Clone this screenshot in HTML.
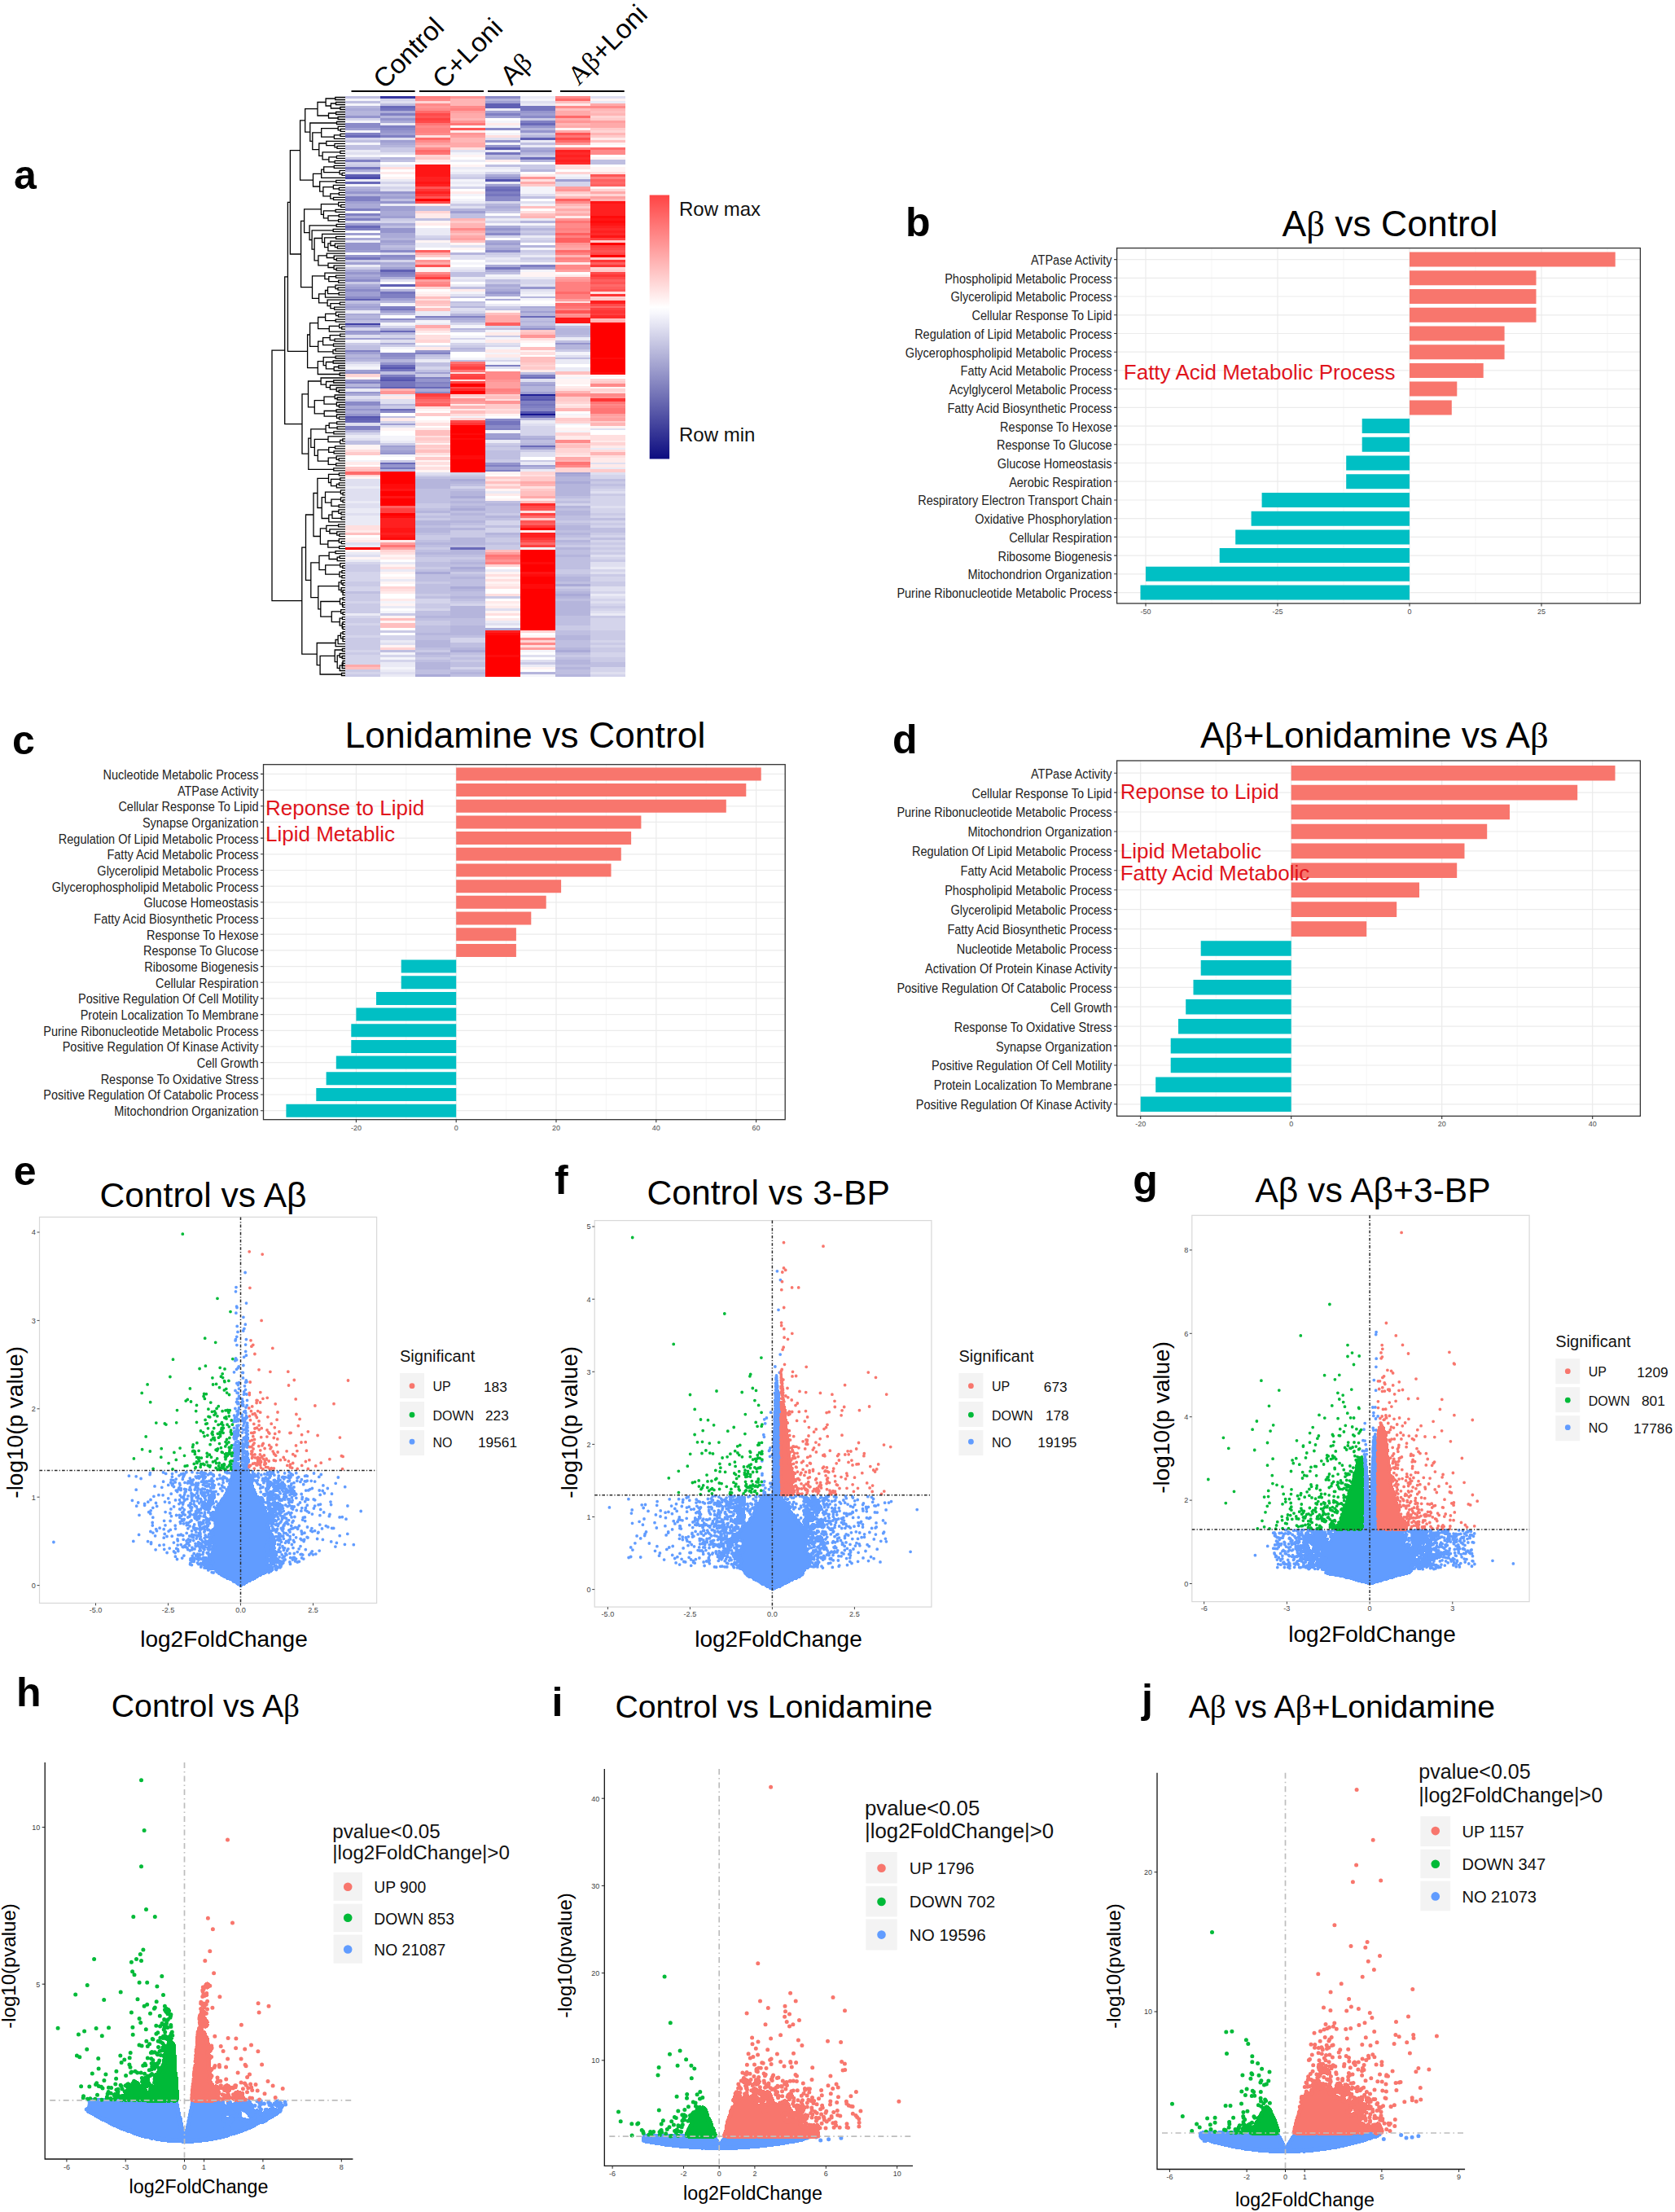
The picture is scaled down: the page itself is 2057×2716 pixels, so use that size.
<!DOCTYPE html>
<html><head><meta charset="utf-8"><title>Figure</title>
<style>html,body{margin:0;padding:0;background:#fff}svg{display:block}</style></head>
<body>
<svg width="2057" height="2716" viewBox="0 0 2057 2716" font-family='"Liberation Sans", Arial, sans-serif'>
<rect width="2057" height="2716" fill="#fff"/>
<g>
<path d="M1488 304.6V740.9M1650 304.6V740.9M1812 304.6V740.9M1974 304.6V740.9" stroke="#f0f0f0" stroke-width="0.7" fill="none"/>
<path d="M1407 304.6V740.9M1569 304.6V740.9M1731 304.6V740.9M1893 304.6V740.9M1371.6 318.6H2014.4M1371.6 341.3H2014.4M1371.6 364H2014.4M1371.6 386.8H2014.4M1371.6 409.5H2014.4M1371.6 432.2H2014.4M1371.6 454.9H2014.4M1371.6 477.6H2014.4M1371.6 500.4H2014.4M1371.6 523.1H2014.4M1371.6 545.8H2014.4M1371.6 568.5H2014.4M1371.6 591.2H2014.4M1371.6 614H2014.4M1371.6 636.7H2014.4M1371.6 659.4H2014.4M1371.6 682.1H2014.4M1371.6 704.8H2014.4M1371.6 727.6H2014.4" stroke="#ebebeb" stroke-width="1.2" fill="none"/>
<path d="M1731 309.6H1983.7V327.6H1731ZM1731 332.3H1886.5V350.3H1731ZM1731 355H1886.5V373H1731ZM1731 377.8H1886.5V395.8H1731ZM1731 400.5H1847.6V418.5H1731ZM1731 423.2H1847.6V441.2H1731ZM1731 445.9H1821.7V463.9H1731ZM1731 468.6H1789.3V486.6H1731ZM1731 491.4H1782.8V509.4H1731Z" fill="#F8766D"/>
<path d="M1672.7 514.1H1731V532.1H1672.7ZM1672.7 536.8H1731V554.8H1672.7ZM1653.2 559.5H1731V577.5H1653.2ZM1653.2 582.2H1731V600.2H1653.2ZM1549.6 605H1731V623H1549.6ZM1536.6 627.7H1731V645.7H1536.6ZM1517.2 650.4H1731V668.4H1517.2ZM1497.7 673.1H1731V691.1H1497.7ZM1407 695.8H1731V713.8H1407ZM1400.5 718.6H1731V736.6H1400.5Z" fill="#00BFC4"/>
<rect x="1371.6" y="304.6" width="642.8" height="436.3" fill="none" stroke="#333" stroke-width="1.3"/>
<path d="M1371.6 318.6h-3.5M1371.6 341.3h-3.5M1371.6 364h-3.5M1371.6 386.8h-3.5M1371.6 409.5h-3.5M1371.6 432.2h-3.5M1371.6 454.9h-3.5M1371.6 477.6h-3.5M1371.6 500.4h-3.5M1371.6 523.1h-3.5M1371.6 545.8h-3.5M1371.6 568.5h-3.5M1371.6 591.2h-3.5M1371.6 614h-3.5M1371.6 636.7h-3.5M1371.6 659.4h-3.5M1371.6 682.1h-3.5M1371.6 704.8h-3.5M1371.6 727.6h-3.5M1407 740.9v3.5M1569 740.9v3.5M1731 740.9v3.5M1893 740.9v3.5" stroke="#333" stroke-width="1.1" fill="none"/>
<g font-size="15.587499999999999" text-anchor="end" fill="#222">
<text transform="translate(1365.6 325) scale(.93 1)">ATPase Activity</text>
<text transform="translate(1365.6 347.7) scale(.93 1)">Phospholipid Metabolic Process</text>
<text transform="translate(1365.6 370.4) scale(.93 1)">Glycerolipid Metabolic Process</text>
<text transform="translate(1365.6 393.1) scale(.93 1)">Cellular Response To Lipid</text>
<text transform="translate(1365.6 415.9) scale(.93 1)">Regulation of Lipid Metabolic Process</text>
<text transform="translate(1365.6 438.6) scale(.93 1)">Glycerophospholipid Metabolic Process</text>
<text transform="translate(1365.6 461.3) scale(.93 1)">Fatty Acid Metabolic Process</text>
<text transform="translate(1365.6 484) scale(.93 1)">Acylglycerol Metabolic Process</text>
<text transform="translate(1365.6 506.7) scale(.93 1)">Fatty Acid Biosynthetic Process</text>
<text transform="translate(1365.6 529.5) scale(.93 1)">Response To Hexose</text>
<text transform="translate(1365.6 552.2) scale(.93 1)">Response To Glucose</text>
<text transform="translate(1365.6 574.9) scale(.93 1)">Glucose Homeostasis</text>
<text transform="translate(1365.6 597.6) scale(.93 1)">Aerobic Respiration</text>
<text transform="translate(1365.6 620.3) scale(.93 1)">Respiratory Electron Transport Chain</text>
<text transform="translate(1365.6 643.1) scale(.93 1)">Oxidative Phosphorylation</text>
<text transform="translate(1365.6 665.8) scale(.93 1)">Cellular Respiration</text>
<text transform="translate(1365.6 688.5) scale(.93 1)">Ribosome Biogenesis</text>
<text transform="translate(1365.6 711.2) scale(.93 1)">Mitochondrion Organization</text>
<text transform="translate(1365.6 733.9) scale(.93 1)">Purine Ribonucleotide Metabolic Process</text>
</g>
<g font-size="9" text-anchor="middle" fill="#4d4d4d">
<text x="1407" y="753.5">-50</text>
<text x="1569" y="753.5">-25</text>
<text x="1731" y="753.5">0</text>
<text x="1893" y="753.5">25</text>
</g>
</g>
<g>
<path d="M376 938.7V1374.7M498.8 938.7V1374.7M621.6 938.7V1374.7M744.4 938.7V1374.7M867.2 938.7V1374.7" stroke="#f0f0f0" stroke-width="0.7" fill="none"/>
<path d="M437.4 938.7V1374.7M560.2 938.7V1374.7M683 938.7V1374.7M805.8 938.7V1374.7M928.6 938.7V1374.7M323.5 950.4H964.2M323.5 970.1H964.2M323.5 989.8H964.2M323.5 1009.4H964.2M323.5 1029.1H964.2M323.5 1048.8H964.2M323.5 1068.5H964.2M323.5 1088.2H964.2M323.5 1107.8H964.2M323.5 1127.5H964.2M323.5 1147.2H964.2M323.5 1166.9H964.2M323.5 1186.6H964.2M323.5 1206.2H964.2M323.5 1225.9H964.2M323.5 1245.6H964.2M323.5 1265.3H964.2M323.5 1285H964.2M323.5 1304.6H964.2M323.5 1324.3H964.2M323.5 1344H964.2M323.5 1363.7H964.2" stroke="#ebebeb" stroke-width="1.2" fill="none"/>
<path d="M560.2 942.4H934.7V958.4H560.2ZM560.2 962.1H916.3V978.1H560.2ZM560.2 981.8H891.8V997.8H560.2ZM560.2 1001.4H787.4V1017.4H560.2ZM560.2 1021.1H775.1V1037.1H560.2ZM560.2 1040.8H762.8V1056.8H560.2ZM560.2 1060.5H750.5V1076.5H560.2ZM560.2 1080.2H689.1V1096.2H560.2ZM560.2 1099.8H670.7V1115.8H560.2ZM560.2 1119.5H652.3V1135.5H560.2ZM560.2 1139.2H633.9V1155.2H560.2ZM560.2 1158.9H633.9V1174.9H560.2Z" fill="#F8766D"/>
<path d="M492.7 1178.6H560.2V1194.6H492.7ZM492.7 1198.2H560.2V1214.2H492.7ZM462 1217.9H560.2V1233.9H462ZM437.4 1237.6H560.2V1253.6H437.4ZM431.3 1257.3H560.2V1273.3H431.3ZM431.3 1277H560.2V1293H431.3ZM412.8 1296.6H560.2V1312.6H412.8ZM400.6 1316.3H560.2V1332.3H400.6ZM388.3 1336H560.2V1352H388.3ZM351.4 1355.7H560.2V1371.7H351.4Z" fill="#00BFC4"/>
<rect x="323.5" y="938.7" width="640.7" height="436" fill="none" stroke="#333" stroke-width="1.3"/>
<path d="M323.5 950.4h-3.5M323.5 970.1h-3.5M323.5 989.8h-3.5M323.5 1009.4h-3.5M323.5 1029.1h-3.5M323.5 1048.8h-3.5M323.5 1068.5h-3.5M323.5 1088.2h-3.5M323.5 1107.8h-3.5M323.5 1127.5h-3.5M323.5 1147.2h-3.5M323.5 1166.9h-3.5M323.5 1186.6h-3.5M323.5 1206.2h-3.5M323.5 1225.9h-3.5M323.5 1245.6h-3.5M323.5 1265.3h-3.5M323.5 1285h-3.5M323.5 1304.6h-3.5M323.5 1324.3h-3.5M323.5 1344h-3.5M323.5 1363.7h-3.5M437.4 1374.7v3.5M560.2 1374.7v3.5M683 1374.7v3.5M805.8 1374.7v3.5M928.6 1374.7v3.5" stroke="#333" stroke-width="1.1" fill="none"/>
<g font-size="15.587499999999999" text-anchor="end" fill="#222">
<text transform="translate(317.5 956.8) scale(.93 1)">Nucleotide Metabolic Process</text>
<text transform="translate(317.5 976.5) scale(.93 1)">ATPase Activity</text>
<text transform="translate(317.5 996.1) scale(.93 1)">Cellular Response To Lipid</text>
<text transform="translate(317.5 1015.8) scale(.93 1)">Synapse Organization</text>
<text transform="translate(317.5 1035.5) scale(.93 1)">Regulation Of Lipid Metabolic Process</text>
<text transform="translate(317.5 1055.2) scale(.93 1)">Fatty Acid Metabolic Process</text>
<text transform="translate(317.5 1074.9) scale(.93 1)">Glycerolipid Metabolic Process</text>
<text transform="translate(317.5 1094.5) scale(.93 1)">Glycerophospholipid Metabolic Process</text>
<text transform="translate(317.5 1114.2) scale(.93 1)">Glucose Homeostasis</text>
<text transform="translate(317.5 1133.9) scale(.93 1)">Fatty Acid Biosynthetic Process</text>
<text transform="translate(317.5 1153.6) scale(.93 1)">Response To Hexose</text>
<text transform="translate(317.5 1173.3) scale(.93 1)">Response To Glucose</text>
<text transform="translate(317.5 1192.9) scale(.93 1)">Ribosome Biogenesis</text>
<text transform="translate(317.5 1212.6) scale(.93 1)">Cellular Respiration</text>
<text transform="translate(317.5 1232.3) scale(.93 1)">Positive Regulation Of Cell Motility</text>
<text transform="translate(317.5 1252) scale(.93 1)">Protein Localization To Membrane</text>
<text transform="translate(317.5 1271.7) scale(.93 1)">Purine Ribonucleotide Metabolic Process</text>
<text transform="translate(317.5 1291.3) scale(.93 1)">Positive Regulation Of Kinase Activity</text>
<text transform="translate(317.5 1311) scale(.93 1)">Cell Growth</text>
<text transform="translate(317.5 1330.7) scale(.93 1)">Response To Oxidative Stress</text>
<text transform="translate(317.5 1350.4) scale(.93 1)">Positive Regulation Of Catabolic Process</text>
<text transform="translate(317.5 1370.1) scale(.93 1)">Mitochondrion Organization</text>
</g>
<g font-size="9" text-anchor="middle" fill="#4d4d4d">
<text x="437.4" y="1387.5">-20</text>
<text x="560.2" y="1387.5">0</text>
<text x="683" y="1387.5">20</text>
<text x="805.8" y="1387.5">40</text>
<text x="928.6" y="1387.5">60</text>
</g>
</g>
<g>
<path d="M1493.2 934V1370.4M1678.2 934V1370.4M1863.2 934V1370.4" stroke="#f0f0f0" stroke-width="0.7" fill="none"/>
<path d="M1400.7 934V1370.4M1585.7 934V1370.4M1770.7 934V1370.4M1955.7 934V1370.4M1371.6 949.2H2014.4M1371.6 973.1H2014.4M1371.6 997H2014.4M1371.6 1021H2014.4M1371.6 1044.9H2014.4M1371.6 1068.8H2014.4M1371.6 1092.7H2014.4M1371.6 1116.6H2014.4M1371.6 1140.6H2014.4M1371.6 1164.5H2014.4M1371.6 1188.4H2014.4M1371.6 1212.3H2014.4M1371.6 1236.2H2014.4M1371.6 1260.2H2014.4M1371.6 1284.1H2014.4M1371.6 1308H2014.4M1371.6 1331.9H2014.4M1371.6 1355.8H2014.4" stroke="#ebebeb" stroke-width="1.2" fill="none"/>
<path d="M1585.7 939.9H1983.5V958.5H1585.7ZM1585.7 963.8H1937.2V982.4H1585.7ZM1585.7 987.7H1854V1006.3H1585.7ZM1585.7 1011.7H1826.2V1030.3H1585.7ZM1585.7 1035.6H1798.5V1054.2H1585.7ZM1585.7 1059.5H1789.2V1078.1H1585.7ZM1585.7 1083.4H1743V1102H1585.7ZM1585.7 1107.3H1715.2V1125.9H1585.7ZM1585.7 1131.3H1678.2V1149.9H1585.7Z" fill="#F8766D"/>
<path d="M1474.7 1155.2H1585.7V1173.8H1474.7ZM1474.7 1179.1H1585.7V1197.7H1474.7ZM1465.5 1203H1585.7V1221.6H1465.5ZM1456.2 1226.9H1585.7V1245.5H1456.2ZM1447 1250.9H1585.7V1269.5H1447ZM1437.7 1274.8H1585.7V1293.4H1437.7ZM1437.7 1298.7H1585.7V1317.3H1437.7ZM1419.2 1322.6H1585.7V1341.2H1419.2ZM1400.7 1346.5H1585.7V1365.1H1400.7Z" fill="#00BFC4"/>
<rect x="1371.6" y="934" width="642.8" height="436.4" fill="none" stroke="#333" stroke-width="1.3"/>
<path d="M1371.6 949.2h-3.5M1371.6 973.1h-3.5M1371.6 997h-3.5M1371.6 1021h-3.5M1371.6 1044.9h-3.5M1371.6 1068.8h-3.5M1371.6 1092.7h-3.5M1371.6 1116.6h-3.5M1371.6 1140.6h-3.5M1371.6 1164.5h-3.5M1371.6 1188.4h-3.5M1371.6 1212.3h-3.5M1371.6 1236.2h-3.5M1371.6 1260.2h-3.5M1371.6 1284.1h-3.5M1371.6 1308h-3.5M1371.6 1331.9h-3.5M1371.6 1355.8h-3.5M1400.7 1370.4v3.5M1585.7 1370.4v3.5M1770.7 1370.4v3.5M1955.7 1370.4v3.5" stroke="#333" stroke-width="1.1" fill="none"/>
<g font-size="15.587499999999999" text-anchor="end" fill="#222">
<text transform="translate(1365.6 955.6) scale(.93 1)">ATPase Activity</text>
<text transform="translate(1365.6 979.5) scale(.93 1)">Cellular Response To Lipid</text>
<text transform="translate(1365.6 1003.4) scale(.93 1)">Purine Ribonucleotide Metabolic Process</text>
<text transform="translate(1365.6 1027.3) scale(.93 1)">Mitochondrion Organization</text>
<text transform="translate(1365.6 1051.3) scale(.93 1)">Regulation Of Lipid Metabolic Process</text>
<text transform="translate(1365.6 1075.2) scale(.93 1)">Fatty Acid Metabolic Process</text>
<text transform="translate(1365.6 1099.1) scale(.93 1)">Phospholipid Metabolic Process</text>
<text transform="translate(1365.6 1123) scale(.93 1)">Glycerolipid Metabolic Process</text>
<text transform="translate(1365.6 1146.9) scale(.93 1)">Fatty Acid Biosynthetic Process</text>
<text transform="translate(1365.6 1170.9) scale(.93 1)">Nucleotide Metabolic Process</text>
<text transform="translate(1365.6 1194.8) scale(.93 1)">Activation Of Protein Kinase Activity</text>
<text transform="translate(1365.6 1218.7) scale(.93 1)">Positive Regulation Of Catabolic Process</text>
<text transform="translate(1365.6 1242.6) scale(.93 1)">Cell Growth</text>
<text transform="translate(1365.6 1266.5) scale(.93 1)">Response To Oxidative Stress</text>
<text transform="translate(1365.6 1290.5) scale(.93 1)">Synapse Organization</text>
<text transform="translate(1365.6 1314.4) scale(.93 1)">Positive Regulation Of Cell Motility</text>
<text transform="translate(1365.6 1338.3) scale(.93 1)">Protein Localization To Membrane</text>
<text transform="translate(1365.6 1362.2) scale(.93 1)">Positive Regulation Of Kinase Activity</text>
</g>
<g font-size="9" text-anchor="middle" fill="#4d4d4d">
<text x="1400.7" y="1383">-20</text>
<text x="1585.7" y="1383">0</text>
<text x="1770.7" y="1383">20</text>
<text x="1955.7" y="1383">40</text>
</g>
</g>
<text x="1707" y="290" font-size="44.5" text-anchor="middle">A<tspan font-family='"Liberation Serif", "Times New Roman", serif'>β</tspan> vs Control</text>
<text x="645" y="918.4" font-size="44.5" text-anchor="middle">Lonidamine vs Control</text>
<text x="1687.8" y="918" font-size="44.5" text-anchor="middle">A<tspan font-family='"Liberation Serif", "Times New Roman", serif'>β</tspan>+Lonidamine vs A<tspan font-family='"Liberation Serif", "Times New Roman", serif'>β</tspan></text>
<text x="1379.8" y="466" font-size="26" fill="#e0141c">Fatty Acid Metabolic Process</text>
<text x="326" y="1000.6" font-size="26" fill="#e0141c">Reponse to Lipid</text>
<text x="326" y="1033.2" font-size="26" fill="#e0141c">Lipid Metablic</text>
<text x="1375.7" y="981.3" font-size="26" fill="#e0141c">Reponse to Lipid</text>
<text x="1375.7" y="1053.7" font-size="26" fill="#e0141c">Lipid Metabolic</text>
<text x="1375.7" y="1080.5" font-size="26" fill="#e0141c">Fatty Acid Metabolic</text>
<g fill="none" stroke-width="3.35" shape-rendering="crispEdges"><path d="M638.8 509h43" stroke="#151591"/>
<path d="M638.8 485h43" stroke="#202096"/>
<path d="M466.9 119.5h43" stroke="#3535a0"/>
<path d="M424 398.1h43" stroke="#4040a5"/>
<path d="M424 218.4h43" stroke="#4a4aaa"/>
<path d="M424 511.9h43M466.9 452h43M466.9 467h43M595.8 221.4h43M638.8 491h43M638.8 506h43" stroke="#5555af"/>
<path d="M424 215.4h43M424 368.1h43M424 514.9h43M466.9 332.2h43M466.9 350.2h43M466.9 464h43M466.9 476h43M595.8 128.5h43M595.8 131.5h43M595.8 182.4h43M638.8 170.4h43M638.8 488h43" stroke="#6060b4"/>
<path d="M424 167.4h43M424 224.4h43M424 278.3h43M424 517.9h43M466.9 131.5h43M466.9 407.1h43M466.9 449h43M466.9 503h43M466.9 568.9h43M509.9 476h43M552.9 673.7h43M595.8 233.3h43M638.8 152.5h43M638.8 194.4h43M638.8 389.1h43M638.8 464h43M638.8 511.9h43M638.8 547.9h43" stroke="#6a6ab9"/>
<path d="M424 206.4h43M424 317.2h43M466.9 134.5h43M466.9 359.2h43M466.9 380.1h43M466.9 455h43M466.9 470h43M466.9 473h43M466.9 574.9h43M595.8 188.4h43M595.8 230.3h43M595.8 239.3h43M595.8 329.2h43M595.8 517.9h43M595.8 520.9h43M638.8 131.5h43M638.8 134.5h43M638.8 497h43" stroke="#7575be"/>
<path d="M424 164.4h43M424 197.4h43M424 242.3h43M424 245.3h43M424 257.3h43M424 263.3h43M424 269.3h43M424 281.3h43M424 431.1h43M424 470h43M424 523.9h43M424 526.9h43M466.9 140.5h43M466.9 155.4h43M466.9 167.4h43M466.9 335.2h43M466.9 362.2h43M466.9 365.2h43M466.9 377.1h43M466.9 461h43M509.9 389.1h43M509.9 434.1h43M509.9 464h43M509.9 470h43M552.9 389.1h43M595.8 140.5h43M595.8 236.3h43M595.8 449h43M595.8 526.9h43M595.8 571.9h43M595.8 577.9h43M638.8 149.5h43M638.8 326.2h43M638.8 461h43M638.8 494h43M638.8 500h43" stroke="#8080c3"/>
<path d="M424 152.5h43M424 155.4h43M424 344.2h43M424 356.2h43M424 365.2h43M424 494h43M424 497h43M466.9 158.4h43M466.9 308.2h43M466.9 314.2h43M466.9 338.2h43M466.9 392.1h43M466.9 434.1h43M466.9 437.1h43M466.9 506h43M509.9 473h43M509.9 482h43M595.8 119.5h43M595.8 158.4h43M595.8 242.3h43M595.8 245.3h43M595.8 287.3h43M595.8 308.2h43M595.8 514.9h43M595.8 523.9h43M638.8 143.5h43M638.8 404.1h43M638.8 503h43" stroke="#8a8ac8"/>
<path d="M424 143.5h43M424 236.3h43M424 299.2h43M424 302.2h43M424 305.2h43M424 314.2h43M424 335.2h43M424 401.1h43M424 407.1h43M424 458h43M424 467h43M424 476h43M424 482h43M424 503h43M424 509h43M466.9 146.5h43M466.9 161.4h43M466.9 236.3h43M466.9 248.3h43M466.9 281.3h43M466.9 284.3h43M466.9 317.2h43M466.9 440h43M466.9 446h43M466.9 556.9h43M466.9 571.9h43M509.9 431.1h43M509.9 467h43M595.8 173.4h43M595.8 179.4h43M595.8 218.4h43M595.8 281.3h43M595.8 359.2h43M595.8 538.9h43M595.8 568.9h43M638.8 137.5h43M638.8 155.4h43M638.8 161.4h43M638.8 353.2h43M681.7 422.1h43" stroke="#9595cd"/>
<path d="M424 158.4h43M424 248.3h43M424 275.3h43M424 287.3h43M424 308.2h43M424 323.2h43M424 341.2h43M424 353.2h43M424 359.2h43M424 362.2h43M424 377.1h43M424 410.1h43M424 416.1h43M424 434.1h43M424 455h43M466.9 164.4h43M466.9 173.4h43M466.9 242.3h43M466.9 254.3h43M466.9 257.3h43M466.9 266.3h43M466.9 296.2h43M466.9 329.2h43M466.9 368.1h43M466.9 383.1h43M466.9 520.9h43M466.9 547.9h43M466.9 553.9h43M509.9 458h43M552.9 260.3h43M595.8 125.5h43M595.8 137.5h43M595.8 143.5h43M595.8 227.3h43M595.8 299.2h43M595.8 532.9h43M595.8 535.9h43M595.8 574.9h43M638.8 140.5h43M638.8 185.4h43M638.8 329.2h43M638.8 383.1h43M638.8 473h43M638.8 482h43M638.8 550.9h43M638.8 571.9h43M681.7 221.4h43M681.7 580.9h43" stroke="#9f9fd2"/>
<path d="M424 134.5h43M424 209.4h43M424 233.3h43M424 251.3h43M424 254.3h43M424 266.3h43M424 293.3h43M424 332.2h43M424 338.2h43M424 350.2h43M424 374.1h43M424 380.1h43M424 386.1h43M424 392.1h43M424 440h43M424 485h43M424 500h43M424 506h43M466.9 137.5h43M466.9 149.5h43M466.9 176.4h43M466.9 239.3h43M466.9 260.3h43M466.9 263.3h43M466.9 275.3h43M466.9 287.3h43M466.9 290.3h43M466.9 299.2h43M466.9 323.2h43M466.9 404.1h43M466.9 416.1h43M466.9 422.1h43M466.9 550.9h43M509.9 392.1h43M509.9 479h43M509.9 703.7h43M509.9 829.5h43M552.9 392.1h43M552.9 589.8h43M552.9 610.8h43M552.9 625.8h43M552.9 697.7h43M552.9 721.7h43M552.9 799.5h43M595.8 215.4h43M595.8 254.3h43M595.8 278.3h43M595.8 284.3h43M595.8 296.2h43M595.8 305.2h43M595.8 326.2h43M595.8 332.2h43M595.8 350.2h43M595.8 356.2h43M595.8 362.2h43M595.8 368.1h43M595.8 772.6h43M638.8 182.4h43M638.8 377.1h43M638.8 401.1h43M638.8 470h43M638.8 538.9h43M681.7 583.8h43M681.7 592.8h43M681.7 718.7h43M681.7 730.6h43M681.7 799.5h43" stroke="#aaaad7"/>
<path d="M424 131.5h43M424 137.5h43M424 140.5h43M424 230.3h43M424 239.3h43M424 389.1h43M424 437.1h43M424 443h43M424 473h43M424 529.9h43M466.9 143.5h43M466.9 179.4h43M466.9 194.4h43M466.9 293.3h43M466.9 305.2h43M466.9 326.2h43M466.9 341.2h43M466.9 356.2h43M466.9 371.1h43M466.9 395.1h43M466.9 410.1h43M466.9 443h43M466.9 497h43M466.9 577.9h43M509.9 589.8h43M509.9 592.8h43M509.9 595.8h43M509.9 598.8h43M509.9 628.8h43M509.9 640.8h43M509.9 643.8h43M509.9 649.8h43M509.9 652.8h43M509.9 667.7h43M509.9 679.7h43M509.9 757.6h43M509.9 778.6h43M509.9 787.6h43M509.9 790.6h43M509.9 793.6h43M509.9 802.5h43M509.9 814.5h43M509.9 817.5h43M509.9 820.5h43M552.9 257.3h43M552.9 311.2h43M552.9 377.1h43M552.9 386.1h43M552.9 395.1h43M552.9 404.1h43M552.9 428.1h43M552.9 592.8h43M552.9 604.8h43M552.9 607.8h43M552.9 616.8h43M552.9 622.8h43M552.9 631.8h43M552.9 640.8h43M552.9 649.8h43M552.9 661.7h43M552.9 664.7h43M552.9 667.7h43M552.9 676.7h43M552.9 679.7h43M552.9 691.7h43M552.9 700.7h43M552.9 709.7h43M552.9 724.6h43M552.9 733.6h43M552.9 745.6h43M552.9 748.6h43M552.9 751.6h43M552.9 754.6h43M552.9 757.6h43M552.9 769.6h43M552.9 772.6h43M552.9 775.6h43M552.9 778.6h43M552.9 796.5h43M552.9 826.5h43M595.8 122.5h43M595.8 194.4h43M595.8 251.3h43M595.8 257.3h43M595.8 302.2h43M595.8 353.2h43M595.8 619.8h43M595.8 634.8h43M595.8 655.7h43M638.8 158.4h43M638.8 167.4h43M638.8 188.4h43M638.8 197.4h43M638.8 209.4h43M638.8 272.3h43M638.8 281.3h43M638.8 302.2h43M638.8 365.2h43M638.8 380.1h43M638.8 386.1h43M638.8 395.1h43M638.8 476h43M638.8 479h43M638.8 514.9h43M638.8 535.9h43M638.8 544.9h43M638.8 574.9h43M638.8 826.5h43M681.7 404.1h43M681.7 407.1h43M681.7 410.1h43M681.7 425.1h43M681.7 428.1h43M681.7 586.8h43M681.7 589.8h43M681.7 595.8h43M681.7 598.8h43M681.7 601.8h43M681.7 604.8h43M681.7 607.8h43M681.7 622.8h43M681.7 628.8h43M681.7 631.8h43M681.7 646.8h43M681.7 649.8h43M681.7 655.7h43M681.7 664.7h43M681.7 673.7h43M681.7 682.7h43M681.7 709.7h43M681.7 712.7h43M681.7 727.6h43M681.7 733.6h43M681.7 739.6h43M681.7 742.6h43M681.7 745.6h43M681.7 748.6h43M681.7 751.6h43M681.7 754.6h43M681.7 781.6h43M681.7 784.6h43M681.7 796.5h43M681.7 811.5h43M681.7 814.5h43M681.7 820.5h43M681.7 829.5h43" stroke="#b5b5dc"/>
<path d="M424 119.5h43M424 125.5h43M424 173.4h43M424 179.4h43M424 182.4h43M424 371.1h43M424 395.1h43M424 425.1h43M424 428.1h43M424 541.9h43M424 544.9h43M424 727.6h43M466.9 128.5h43M466.9 197.4h43M466.9 245.3h43M466.9 278.3h43M466.9 302.2h43M466.9 386.1h43M466.9 458h43M466.9 511.9h43M466.9 799.5h43M509.9 254.3h43M509.9 257.3h43M509.9 269.3h43M509.9 437.1h43M509.9 446h43M509.9 449h43M509.9 455h43M509.9 586.8h43M509.9 601.8h43M509.9 604.8h43M509.9 607.8h43M509.9 610.8h43M509.9 613.8h43M509.9 616.8h43M509.9 625.8h43M509.9 634.8h43M509.9 646.8h43M509.9 655.7h43M509.9 664.7h43M509.9 670.7h43M509.9 676.7h43M509.9 682.7h43M509.9 691.7h43M509.9 694.7h43M509.9 700.7h43M509.9 706.7h43M509.9 709.7h43M509.9 712.7h43M509.9 718.7h43M509.9 721.7h43M509.9 724.6h43M509.9 727.6h43M509.9 733.6h43M509.9 751.6h43M509.9 754.6h43M509.9 760.6h43M509.9 769.6h43M509.9 772.6h43M509.9 775.6h43M509.9 781.6h43M509.9 784.6h43M509.9 796.5h43M509.9 805.5h43M509.9 811.5h43M509.9 823.5h43M509.9 826.5h43M552.9 263.3h43M552.9 266.3h43M552.9 335.2h43M552.9 338.2h43M552.9 353.2h43M552.9 365.2h43M552.9 371.1h43M552.9 431.1h43M552.9 443h43M552.9 586.8h43M552.9 595.8h43M552.9 601.8h43M552.9 613.8h43M552.9 619.8h43M552.9 628.8h43M552.9 634.8h43M552.9 637.8h43M552.9 643.8h43M552.9 670.7h43M552.9 682.7h43M552.9 688.7h43M552.9 694.7h43M552.9 706.7h43M552.9 712.7h43M552.9 715.7h43M552.9 718.7h43M552.9 727.6h43M552.9 730.6h43M552.9 736.6h43M552.9 760.6h43M552.9 763.6h43M552.9 766.6h43M552.9 781.6h43M552.9 790.6h43M552.9 793.6h43M552.9 802.5h43M552.9 808.5h43M552.9 814.5h43M552.9 817.5h43M552.9 823.5h43M552.9 829.5h43M595.8 191.4h43M595.8 203.4h43M595.8 335.2h43M595.8 344.2h43M595.8 380.1h43M595.8 404.1h43M595.8 547.9h43M595.8 553.9h43M595.8 556.9h43M595.8 559.9h43M595.8 562.9h43M595.8 616.8h43M595.8 622.8h43M595.8 625.8h43M595.8 628.8h43M595.8 637.8h43M595.8 646.8h43M595.8 658.7h43M595.8 667.7h43M638.8 176.4h43M638.8 242.3h43M638.8 287.3h43M638.8 392.1h43M638.8 398.1h43M638.8 458h43M638.8 541.9h43M681.7 401.1h43M681.7 413.1h43M681.7 419.1h43M681.7 440h43M681.7 610.8h43M681.7 616.8h43M681.7 625.8h43M681.7 634.8h43M681.7 637.8h43M681.7 643.8h43M681.7 652.8h43M681.7 658.7h43M681.7 667.7h43M681.7 676.7h43M681.7 679.7h43M681.7 685.7h43M681.7 688.7h43M681.7 691.7h43M681.7 694.7h43M681.7 697.7h43M681.7 706.7h43M681.7 715.7h43M681.7 724.6h43M681.7 736.6h43M681.7 757.6h43M681.7 760.6h43M681.7 763.6h43M681.7 766.6h43M681.7 775.6h43M681.7 778.6h43M681.7 787.6h43M681.7 790.6h43M681.7 793.6h43M681.7 802.5h43M681.7 808.5h43M681.7 817.5h43M681.7 823.5h43M681.7 826.5h43M724.7 197.4h43M724.7 200.4h43M724.7 589.8h43M724.7 595.8h43M724.7 637.8h43M724.7 649.8h43M724.7 652.8h43M724.7 661.7h43M724.7 814.5h43M724.7 817.5h43" stroke="#bfbfe1"/>
<path d="M424 194.4h43M424 203.4h43M424 320.2h43M424 329.2h43M424 347.2h43M424 422.1h43M424 491h43M424 694.7h43M424 697.7h43M424 700.7h43M424 715.7h43M424 718.7h43M424 730.6h43M424 733.6h43M424 736.6h43M424 742.6h43M424 745.6h43M424 748.6h43M424 751.6h43M424 760.6h43M424 763.6h43M424 769.6h43M424 772.6h43M424 775.6h43M424 778.6h43M424 784.6h43M424 787.6h43M424 790.6h43M424 793.6h43M424 796.5h43M424 802.5h43M424 823.5h43M424 829.5h43M466.9 182.4h43M466.9 185.4h43M466.9 269.3h43M466.9 425.1h43M466.9 500h43M466.9 544.9h43M466.9 565.9h43M466.9 754.6h43M466.9 775.6h43M509.9 293.3h43M509.9 440h43M509.9 461h43M509.9 619.8h43M509.9 622.8h43M509.9 631.8h43M509.9 637.8h43M509.9 658.7h43M509.9 661.7h43M509.9 673.7h43M509.9 685.7h43M509.9 688.7h43M509.9 697.7h43M509.9 715.7h43M509.9 730.6h43M509.9 742.6h43M509.9 745.6h43M509.9 763.6h43M509.9 766.6h43M509.9 799.5h43M509.9 808.5h43M552.9 218.4h43M552.9 251.3h43M552.9 374.1h43M552.9 407.1h43M552.9 425.1h43M552.9 583.8h43M552.9 646.8h43M552.9 652.8h43M552.9 655.7h43M552.9 658.7h43M552.9 685.7h43M552.9 703.7h43M552.9 739.6h43M552.9 805.5h43M552.9 811.5h43M595.8 260.3h43M595.8 266.3h43M595.8 311.2h43M595.8 347.2h43M595.8 377.1h43M595.8 413.1h43M595.8 544.9h43M595.8 550.9h43M595.8 565.9h43M595.8 631.8h43M595.8 661.7h43M595.8 664.7h43M595.8 670.7h43M595.8 673.7h43M595.8 733.6h43M638.8 146.5h43M638.8 164.4h43M638.8 191.4h43M638.8 203.4h43M638.8 206.4h43M638.8 278.3h43M638.8 284.3h43M638.8 296.2h43M638.8 308.2h43M638.8 317.2h43M638.8 553.9h43M638.8 565.9h43M638.8 814.5h43M681.7 431.1h43M681.7 613.8h43M681.7 640.8h43M681.7 661.7h43M681.7 670.7h43M681.7 700.7h43M681.7 703.7h43M681.7 721.7h43M681.7 769.6h43M681.7 772.6h43M681.7 805.5h43M724.7 592.8h43M724.7 598.8h43M724.7 607.8h43M724.7 631.8h43M724.7 643.8h43M724.7 655.7h43M724.7 667.7h43M724.7 673.7h43M724.7 679.7h43M724.7 688.7h43M724.7 706.7h43M724.7 715.7h43M724.7 718.7h43M724.7 745.6h43M724.7 757.6h43M724.7 775.6h43M724.7 778.6h43M724.7 781.6h43M724.7 784.6h43M724.7 790.6h43M724.7 796.5h43M724.7 799.5h43M724.7 808.5h43M724.7 811.5h43" stroke="#cacae6"/>
<path d="M424 146.5h43M424 170.4h43M424 200.4h43M424 404.1h43M424 446h43M424 532.9h43M424 691.7h43M424 703.7h43M424 706.7h43M424 709.7h43M424 712.7h43M424 721.7h43M424 724.6h43M424 739.6h43M424 757.6h43M424 766.6h43M424 781.6h43M424 799.5h43M424 805.5h43M424 808.5h43M424 811.5h43M424 814.5h43M424 826.5h43M466.9 122.5h43M466.9 224.4h43M466.9 230.3h43M466.9 272.3h43M466.9 320.2h43M466.9 401.1h43M466.9 413.1h43M466.9 517.9h43M466.9 781.6h43M466.9 784.6h43M466.9 805.5h43M466.9 811.5h43M509.9 290.3h43M509.9 452h43M509.9 583.8h43M509.9 736.6h43M509.9 739.6h43M509.9 748.6h43M552.9 215.4h43M552.9 230.3h43M552.9 383.1h43M552.9 398.1h43M552.9 416.1h43M552.9 422.1h43M552.9 580.9h43M552.9 598.8h43M552.9 742.6h43M552.9 784.6h43M552.9 787.6h43M552.9 820.5h43M595.8 212.4h43M595.8 248.3h43M595.8 272.3h43M595.8 290.3h43M595.8 314.2h43M595.8 401.1h43M595.8 425.1h43M595.8 443h43M595.8 640.8h43M595.8 643.8h43M595.8 649.8h43M595.8 652.8h43M638.8 293.3h43M638.8 311.2h43M638.8 320.2h43M638.8 344.2h43M638.8 347.2h43M638.8 523.9h43M638.8 526.9h43M638.8 529.9h43M638.8 532.9h43M681.7 224.4h43M681.7 227.3h43M681.7 619.8h43M724.7 583.8h43M724.7 586.8h43M724.7 601.8h43M724.7 610.8h43M724.7 613.8h43M724.7 616.8h43M724.7 619.8h43M724.7 625.8h43M724.7 628.8h43M724.7 634.8h43M724.7 640.8h43M724.7 646.8h43M724.7 658.7h43M724.7 664.7h43M724.7 670.7h43M724.7 676.7h43M724.7 685.7h43M724.7 700.7h43M724.7 709.7h43M724.7 712.7h43M724.7 727.6h43M724.7 736.6h43M724.7 742.6h43M724.7 748.6h43M724.7 760.6h43M724.7 763.6h43M724.7 766.6h43M724.7 769.6h43M724.7 772.6h43M724.7 787.6h43M724.7 793.6h43M724.7 802.5h43M724.7 805.5h43M724.7 820.5h43M724.7 823.5h43M724.7 829.5h43" stroke="#d4d4eb"/>
<path d="M424 188.4h43M424 212.4h43M424 272.3h43M424 413.1h43M424 488h43M424 520.9h43M424 538.9h43M424 589.8h43M424 592.8h43M424 595.8h43M424 601.8h43M424 604.8h43M424 607.8h43M424 610.8h43M424 613.8h43M424 619.8h43M424 622.8h43M424 631.8h43M424 667.7h43M424 682.7h43M466.9 125.5h43M466.9 170.4h43M466.9 188.4h43M466.9 233.3h43M466.9 311.2h43M466.9 344.2h43M466.9 419.1h43M466.9 491h43M466.9 494h43M466.9 523.9h43M466.9 790.6h43M466.9 826.5h43M509.9 425.1h43M509.9 580.9h43M552.9 185.4h43M552.9 254.3h43M552.9 302.2h43M552.9 314.2h43M552.9 317.2h43M552.9 332.2h43M552.9 344.2h43M552.9 362.2h43M552.9 380.1h43M595.8 170.4h43M595.8 320.2h43M595.8 422.1h43M595.8 452h43M595.8 748.6h43M595.8 766.6h43M638.8 125.5h43M638.8 239.3h43M638.8 248.3h43M638.8 350.2h43M638.8 356.2h43M638.8 467h43M638.8 520.9h43M638.8 556.9h43M638.8 559.9h43M638.8 805.5h43M638.8 811.5h43M681.7 437.1h43M724.7 119.5h43M724.7 526.9h43M724.7 568.9h43M724.7 580.9h43M724.7 604.8h43M724.7 622.8h43M724.7 682.7h43M724.7 691.7h43M724.7 694.7h43M724.7 703.7h43M724.7 721.7h43M724.7 724.6h43M724.7 733.6h43M724.7 739.6h43M724.7 751.6h43M724.7 826.5h43" stroke="#dfdff0"/>
<path d="M424 185.4h43M424 221.4h43M424 296.2h43M424 326.2h43M424 383.1h43M424 449h43M424 479h43M424 535.9h43M424 598.8h43M424 616.8h43M424 625.8h43M424 628.8h43M424 634.8h43M424 637.8h43M424 640.8h43M424 643.8h43M424 670.7h43M424 679.7h43M424 688.7h43M424 754.6h43M466.9 152.5h43M466.9 203.4h43M466.9 221.4h43M466.9 227.3h43M466.9 251.3h43M466.9 485h43M466.9 541.9h43M466.9 691.7h43M466.9 700.7h43M466.9 712.7h43M466.9 745.6h43M466.9 787.6h43M466.9 814.5h43M466.9 817.5h43M466.9 823.5h43M466.9 829.5h43M509.9 281.3h43M509.9 284.3h43M509.9 287.3h43M509.9 299.2h43M509.9 302.2h43M509.9 383.1h43M509.9 386.1h43M509.9 398.1h43M509.9 443h43M552.9 197.4h43M552.9 206.4h43M552.9 212.4h43M552.9 224.4h43M552.9 248.3h43M552.9 329.2h43M552.9 341.2h43M552.9 350.2h43M595.8 134.5h43M595.8 185.4h43M595.8 206.4h43M595.8 224.4h43M595.8 269.3h43M595.8 317.2h43M595.8 341.2h43M595.8 374.1h43M595.8 440h43M595.8 541.9h43M595.8 604.8h43M595.8 700.7h43M595.8 763.6h43M638.8 119.5h43M638.8 128.5h43M638.8 173.4h43M638.8 179.4h43M638.8 269.3h43M638.8 290.3h43M638.8 314.2h43M638.8 341.2h43M638.8 359.2h43M638.8 517.9h43M638.8 568.9h43M638.8 577.9h43M638.8 817.5h43M681.7 218.4h43M681.7 398.1h43M681.7 416.1h43M681.7 443h43M681.7 446h43M681.7 452h43M681.7 455h43M724.7 125.5h43M724.7 550.9h43M724.7 574.9h43M724.7 697.7h43M724.7 730.6h43M724.7 754.6h43" stroke="#eaeaf5"/>
<path d="M424 122.5h43M424 128.5h43M424 149.5h43M424 161.4h43M424 176.4h43M424 191.4h43M424 227.3h43M424 260.3h43M424 419.1h43M424 452h43M424 565.9h43M466.9 353.2h43M466.9 374.1h43M466.9 398.1h43M466.9 428.1h43M466.9 535.9h43M466.9 538.9h43M466.9 559.9h43M466.9 739.6h43M466.9 751.6h43M466.9 802.5h43M466.9 808.5h43M466.9 820.5h43M509.9 395.1h43M552.9 188.4h43M552.9 209.4h43M552.9 221.4h43M552.9 227.3h43M552.9 239.3h43M552.9 245.3h43M552.9 323.2h43M552.9 359.2h43M552.9 401.1h43M552.9 413.1h43M552.9 419.1h43M552.9 440h43M552.9 511.9h43M595.8 149.5h43M595.8 155.4h43M595.8 164.4h43M595.8 176.4h43M595.8 209.4h43M595.8 275.3h43M595.8 323.2h43M595.8 338.2h43M595.8 365.2h43M595.8 407.1h43M595.8 416.1h43M595.8 428.1h43M595.8 434.1h43M595.8 446h43M595.8 529.9h43M595.8 769.6h43M638.8 122.5h43M638.8 230.3h43M638.8 233.3h43M638.8 236.3h43M638.8 251.3h43M638.8 275.3h43M638.8 305.2h43M638.8 323.2h43M638.8 332.2h43M638.8 362.2h43M638.8 368.1h43M638.8 374.1h43M638.8 673.7h43M638.8 799.5h43M638.8 829.5h43M681.7 215.4h43M681.7 434.1h43M681.7 464h43M681.7 509h43M681.7 520.9h43M681.7 529.9h43" stroke="#f4f4fa"/>
<path d="M424 284.3h43M424 290.3h43M424 311.2h43M424 559.9h43M424 562.9h43M424 571.9h43M424 658.7h43M466.9 191.4h43M466.9 200.4h43M466.9 209.4h43M466.9 215.4h43M466.9 347.2h43M466.9 389.1h43M466.9 431.1h43M466.9 509h43M466.9 529.9h43M466.9 532.9h43M466.9 562.9h43M466.9 688.7h43M466.9 706.7h43M466.9 718.7h43M466.9 730.6h43M466.9 733.6h43M466.9 748.6h43M466.9 772.6h43M466.9 778.6h43M509.9 278.3h43M509.9 305.2h43M509.9 317.2h43M509.9 356.2h43M509.9 410.1h43M509.9 422.1h43M509.9 506h43M509.9 511.9h43M509.9 514.9h43M509.9 523.9h43M552.9 194.4h43M552.9 200.4h43M552.9 233.3h43M552.9 242.3h43M552.9 308.2h43M552.9 320.2h43M552.9 326.2h43M552.9 347.2h43M552.9 368.1h43M552.9 410.1h43M552.9 434.1h43M552.9 437.1h43M595.8 146.5h43M595.8 161.4h43M595.8 200.4h43M595.8 263.3h43M595.8 293.3h43M595.8 371.1h43M595.8 455h43M595.8 511.9h43M595.8 583.8h43M595.8 610.8h43M595.8 697.7h43M595.8 724.6h43M595.8 727.6h43M595.8 736.6h43M595.8 757.6h43M638.8 200.4h43M638.8 212.4h43M638.8 245.3h43M638.8 257.3h43M638.8 299.2h43M638.8 371.1h43M638.8 422.1h43M638.8 425.1h43M638.8 437.1h43M638.8 562.9h43M638.8 778.6h43M638.8 802.5h43M638.8 808.5h43M638.8 823.5h43M681.7 209.4h43M681.7 335.2h43M681.7 449h43M681.7 473h43M681.7 506h43M681.7 523.9h43M724.7 179.4h43M724.7 191.4h43M724.7 203.4h43M724.7 464h43M724.7 529.9h43M724.7 532.9h43" stroke="#ffffff"/>
<path d="M424 464h43M424 547.9h43M424 550.9h43M424 586.8h43M424 661.7h43M424 676.7h43M424 685.7h43M466.9 218.4h43M466.9 526.9h43M466.9 682.7h43M466.9 694.7h43M466.9 703.7h43M466.9 709.7h43M466.9 715.7h43M466.9 742.6h43M466.9 757.6h43M466.9 763.6h43M466.9 793.6h43M509.9 200.4h43M509.9 272.3h43M509.9 296.2h43M509.9 329.2h43M509.9 332.2h43M509.9 359.2h43M509.9 377.1h43M509.9 503h43M509.9 517.9h43M509.9 544.9h43M509.9 559.9h43M509.9 565.9h43M509.9 571.9h43M509.9 577.9h43M552.9 155.4h43M552.9 191.4h43M552.9 203.4h43M552.9 299.2h43M552.9 305.2h43M595.8 383.1h43M595.8 509h43M595.8 580.9h43M595.8 601.8h43M595.8 613.8h43M595.8 703.7h43M595.8 709.7h43M595.8 715.7h43M595.8 742.6h43M595.8 751.6h43M638.8 335.2h43M638.8 338.2h43M638.8 419.1h43M638.8 431.1h43M638.8 781.6h43M638.8 820.5h43M681.7 158.4h43M681.7 179.4h43M681.7 461h43M681.7 467h43M681.7 470h43M681.7 511.9h43M681.7 526.9h43M724.7 122.5h43M724.7 176.4h43M724.7 194.4h43M724.7 206.4h43M724.7 209.4h43M724.7 230.3h43M724.7 461h43M724.7 476h43M724.7 523.9h43" stroke="#fff4f4"/>
<path d="M424 568.9h43M424 652.8h43M424 664.7h43M466.9 212.4h43M466.9 488h43M466.9 514.9h43M466.9 664.7h43M466.9 685.7h43M466.9 727.6h43M466.9 736.6h43M509.9 197.4h43M509.9 251.3h43M509.9 263.3h43M509.9 266.3h43M509.9 275.3h43M509.9 362.2h43M509.9 407.1h43M509.9 428.1h43M509.9 526.9h43M552.9 161.4h43M552.9 236.3h43M552.9 356.2h43M552.9 497h43M552.9 503h43M595.8 152.5h43M595.8 197.4h43M595.8 410.1h43M595.8 419.1h43M595.8 431.1h43M595.8 437.1h43M595.8 607.8h43M595.8 718.7h43M595.8 739.6h43M595.8 745.6h43M595.8 760.6h43M638.8 215.4h43M638.8 455h43M638.8 613.8h43M638.8 652.8h43M681.7 128.5h43M681.7 266.3h43M681.7 323.2h43M681.7 338.2h43M681.7 476h43M681.7 497h43M681.7 535.9h43M681.7 538.9h43M681.7 559.9h43M724.7 170.4h43M724.7 541.9h43M724.7 547.9h43M724.7 562.9h43M724.7 565.9h43M724.7 571.9h43" stroke="#ffeaea"/>
<path d="M424 553.9h43M424 646.8h43M424 649.8h43M466.9 206.4h43M466.9 679.7h43M466.9 697.7h43M466.9 724.6h43M509.9 167.4h43M509.9 368.1h43M509.9 413.1h43M509.9 416.1h43M509.9 500h43M509.9 520.9h43M509.9 535.9h43M509.9 556.9h43M509.9 568.9h43M509.9 574.9h43M552.9 182.4h43M552.9 458h43M552.9 467h43M552.9 488h43M552.9 509h43M595.8 167.4h43M595.8 491h43M595.8 503h43M595.8 589.8h43M595.8 595.8h43M595.8 706.7h43M595.8 712.7h43M595.8 721.7h43M595.8 730.6h43M595.8 754.6h43M638.8 221.4h43M638.8 260.3h43M638.8 416.1h43M638.8 434.1h43M638.8 583.8h43M638.8 598.8h43M638.8 628.8h43M638.8 793.6h43M681.7 203.4h43M681.7 206.4h43M681.7 239.3h43M681.7 371.1h43M681.7 479h43M681.7 500h43M681.7 556.9h43M724.7 212.4h43M724.7 359.2h43M724.7 482h43M724.7 535.9h43M724.7 538.9h43M724.7 553.9h43M724.7 559.9h43" stroke="#ffdfdf"/>
<path d="M424 461h43M424 583.8h43M466.9 676.7h43M466.9 721.7h43M466.9 796.5h43M509.9 125.5h43M509.9 191.4h43M509.9 260.3h43M509.9 353.2h43M509.9 404.1h43M509.9 419.1h43M509.9 541.9h43M509.9 550.9h43M552.9 514.9h43M595.8 506h43M595.8 694.7h43M638.8 449h43M638.8 580.9h43M638.8 775.6h43M638.8 787.6h43M681.7 212.4h43M681.7 494h43M681.7 517.9h43M681.7 532.9h43M681.7 550.9h43M681.7 553.9h43M681.7 574.9h43M681.7 577.9h43M724.7 143.5h43M724.7 161.4h43M724.7 233.3h43M724.7 239.3h43M724.7 329.2h43M724.7 365.2h43M724.7 467h43M724.7 479h43M724.7 544.9h43" stroke="#ffd4d4"/>
<path d="M424 556.9h43M424 574.9h43M509.9 194.4h43M509.9 314.2h43M509.9 374.1h43M509.9 509h43M509.9 538.9h43M509.9 547.9h43M509.9 562.9h43M552.9 272.3h43M552.9 485h43M595.8 485h43M595.8 497h43M595.8 500h43M595.8 586.8h43M595.8 598.8h43M638.8 227.3h43M638.8 407.1h43M638.8 446h43M638.8 452h43M638.8 586.8h43M638.8 589.8h43M638.8 601.8h43M638.8 637.8h43M681.7 236.3h43M681.7 254.3h43M681.7 488h43M681.7 491h43M681.7 514.9h43M681.7 544.9h43M724.7 146.5h43M724.7 158.4h43M724.7 167.4h43M724.7 296.2h43M724.7 317.2h43M724.7 332.2h43M724.7 368.1h43M724.7 470h43M724.7 517.9h43M724.7 577.9h43" stroke="#ffcaca"/>
<path d="M424 577.9h43M424 655.7h43M424 820.5h43M466.9 760.6h43M466.9 766.6h43M466.9 769.6h43M509.9 365.2h43M509.9 371.1h43M509.9 380.1h43M509.9 529.9h43M509.9 532.9h43M509.9 553.9h43M552.9 287.3h43M552.9 296.2h43M552.9 506h43M595.8 386.1h43M595.8 488h43M595.8 592.8h43M595.8 676.7h43M638.8 254.3h43M638.8 263.3h43M638.8 410.1h43M638.8 428.1h43M638.8 440h43M638.8 443h43M638.8 604.8h43M638.8 607.8h43M638.8 616.8h43M681.7 125.5h43M681.7 134.5h43M681.7 260.3h43M681.7 458h43M681.7 547.9h43M724.7 137.5h43M724.7 173.4h43M724.7 392.1h43" stroke="#ffbfbf"/>
<path d="M466.9 479h43M509.9 179.4h43M552.9 122.5h43M552.9 125.5h43M552.9 128.5h43M552.9 146.5h43M552.9 170.4h43M552.9 173.4h43M552.9 269.3h43M552.9 275.3h43M552.9 278.3h43M552.9 500h43M638.8 266.3h43M638.8 595.8h43M681.7 152.5h43M681.7 242.3h43M681.7 251.3h43M681.7 314.2h43M681.7 482h43M681.7 503h43M681.7 565.9h43M724.7 134.5h43M724.7 140.5h43M724.7 164.4h43M724.7 245.3h43M724.7 395.1h43M724.7 520.9h43M724.7 556.9h43" stroke="#ffb5b5"/>
<path d="M424 817.5h43M509.9 311.2h43M509.9 323.2h43M509.9 401.1h43M552.9 140.5h43M552.9 143.5h43M552.9 176.4h43M552.9 179.4h43M552.9 284.3h43M552.9 290.3h43M595.8 389.1h43M595.8 392.1h43M595.8 395.1h43M638.8 224.4h43M638.8 592.8h43M638.8 610.8h43M681.7 137.5h43M681.7 140.5h43M681.7 146.5h43M681.7 155.4h43M681.7 161.4h43M681.7 257.3h43M681.7 263.3h43M681.7 305.2h43M681.7 562.9h43M724.7 128.5h43M724.7 152.5h43M724.7 155.4h43M724.7 236.3h43M724.7 511.9h43" stroke="#ffaaaa"/>
<path d="M466.9 667.7h43M466.9 673.7h43M509.9 176.4h43M509.9 344.2h43M552.9 137.5h43M552.9 167.4h43M552.9 293.3h43M552.9 494h43M595.8 470h43M595.8 473h43M595.8 476h43M595.8 679.7h43M638.8 796.5h43M681.7 230.3h43M681.7 302.2h43M681.7 332.2h43M681.7 341.2h43M681.7 368.1h43M724.7 149.5h43M724.7 242.3h43M724.7 509h43M724.7 514.9h43" stroke="#ff9f9f"/>
<path d="M466.9 482h43M509.9 131.5h43M509.9 320.2h43M552.9 119.5h43M552.9 149.5h43M552.9 164.4h43M552.9 491h43M595.8 467h43M595.8 494h43M595.8 688.7h43M638.8 218.4h43M638.8 413.1h43M681.7 149.5h43M681.7 176.4h43M681.7 233.3h43M681.7 269.3h43M681.7 299.2h43M681.7 344.2h43M681.7 386.1h43M681.7 485h43M724.7 488h43" stroke="#ff9595"/>
<path d="M509.9 122.5h43M509.9 128.5h43M509.9 134.5h43M509.9 155.4h43M509.9 164.4h43M509.9 173.4h43M509.9 182.4h43M509.9 335.2h43M509.9 347.2h43M552.9 131.5h43M552.9 281.3h43M595.8 458h43M595.8 461h43M595.8 464h43M595.8 482h43M638.8 784.6h43M638.8 790.6h43M681.7 119.5h43M681.7 131.5h43M681.7 248.3h43M681.7 275.3h43M681.7 278.3h43M681.7 284.3h43M681.7 320.2h43M681.7 326.2h43M681.7 329.2h43M681.7 380.1h43M681.7 389.1h43M681.7 541.9h43M681.7 571.9h43M724.7 131.5h43M724.7 185.4h43M724.7 188.4h43M724.7 473h43M724.7 485h43M724.7 497h43" stroke="#ff8a8a"/>
<path d="M509.9 119.5h43M509.9 158.4h43M509.9 161.4h43M509.9 350.2h43M552.9 134.5h43M595.8 479h43M595.8 685.7h43M595.8 691.7h43M681.7 182.4h43M681.7 281.3h43M681.7 290.3h43M681.7 311.2h43M681.7 317.2h43M681.7 347.2h43M681.7 350.2h43M681.7 353.2h43M681.7 356.2h43M681.7 362.2h43M681.7 365.2h43M724.7 218.4h43M724.7 500h43" stroke="#ff8080"/>
<path d="M466.9 670.7h43M509.9 152.5h43M509.9 188.4h43M509.9 494h43M552.9 152.5h43M552.9 446h43M552.9 455h43M595.8 682.7h43M681.7 167.4h43M681.7 272.3h43M681.7 377.1h43M681.7 568.9h43M724.7 494h43M724.7 503h43M724.7 506h43" stroke="#ff7575"/>
<path d="M424 580.9h43M509.9 137.5h43M509.9 170.4h43M509.9 185.4h43M509.9 338.2h43M509.9 491h43M638.8 634.8h43M638.8 667.7h43M681.7 122.5h43M681.7 143.5h43M681.7 173.4h43M681.7 308.2h43M681.7 359.2h43M681.7 374.1h43M724.7 182.4h43M724.7 224.4h43M724.7 350.2h43M724.7 377.1h43" stroke="#ff6a6a"/>
<path d="M466.9 622.8h43M509.9 308.2h43M509.9 497h43M595.8 398.1h43M638.8 643.8h43M681.7 245.3h43M681.7 287.3h43M681.7 293.3h43M681.7 296.2h43M724.7 221.4h43M724.7 227.3h43M724.7 323.2h43M724.7 344.2h43M724.7 353.2h43" stroke="#ff6060"/>
<path d="M509.9 143.5h43M509.9 230.3h43M509.9 242.3h43M509.9 326.2h43M509.9 488h43M552.9 158.4h43M552.9 449h43M638.8 625.8h43M638.8 640.8h43M681.7 164.4h43M681.7 383.1h43M724.7 215.4h43M724.7 308.2h43M724.7 347.2h43M724.7 356.2h43" stroke="#ff5555"/>
<path d="M509.9 140.5h43M509.9 149.5h43M509.9 248.3h43M552.9 461h43M552.9 470h43M552.9 476h43M552.9 517.9h43M638.8 622.8h43M638.8 664.7h43M681.7 170.4h43M724.7 305.2h43M724.7 311.2h43M724.7 335.2h43M724.7 341.2h43M724.7 374.1h43" stroke="#ff4a4a"/>
<path d="M466.9 625.8h43M466.9 628.8h43M509.9 146.5h43M509.9 341.2h43M509.9 485h43M552.9 452h43M552.9 464h43M638.8 631.8h43M638.8 670.7h43M724.7 293.3h43M724.7 302.2h43M724.7 380.1h43M724.7 386.1h43" stroke="#ff4040"/>
<path d="M509.9 233.3h43M509.9 239.3h43M552.9 520.9h43M638.8 646.8h43M638.8 661.7h43M724.7 320.2h43M724.7 326.2h43M724.7 338.2h43M724.7 362.2h43M724.7 383.1h43M724.7 491h43" stroke="#ff3535"/>
<path d="M552.9 479h43M638.8 619.8h43M681.7 188.4h43M681.7 194.4h43M681.7 200.4h43M724.7 281.3h43M724.7 287.3h43M724.7 389.1h43" stroke="#ff2a2a"/>
<path d="M466.9 637.8h43M466.9 640.8h43M466.9 643.8h43M466.9 646.8h43M466.9 655.7h43M509.9 218.4h43M509.9 221.4h43M509.9 227.3h43M509.9 236.3h43M595.8 775.6h43M638.8 655.7h43M638.8 658.7h43M681.7 185.4h43M681.7 191.4h43M681.7 197.4h43M724.7 251.3h43M724.7 254.3h43M724.7 257.3h43M724.7 260.3h43M724.7 263.3h43M724.7 278.3h43M724.7 284.3h43M724.7 371.1h43" stroke="#ff2020"/>
<path d="M466.9 601.8h43M466.9 610.8h43M466.9 649.8h43M466.9 652.8h43M466.9 658.7h43M509.9 203.4h43M509.9 206.4h43M509.9 209.4h43M509.9 212.4h43M509.9 215.4h43M509.9 224.4h43M638.8 703.7h43M681.7 392.1h43M681.7 395.1h43M724.7 248.3h43M724.7 269.3h43M724.7 275.3h43M724.7 290.3h43" stroke="#ff1515"/>
<path d="M466.9 595.8h43M466.9 598.8h43M466.9 634.8h43M466.9 661.7h43M552.9 532.9h43M552.9 538.9h43M552.9 559.9h43M552.9 562.9h43M595.8 778.6h43M595.8 805.5h43M638.8 649.8h43M638.8 691.7h43M638.8 706.7h43M638.8 718.7h43M638.8 721.7h43M724.7 266.3h43M724.7 272.3h43M724.7 440h43M724.7 458h43" stroke="#ff0b0b"/>
<path d="M424 673.7h43M466.9 583.8h43M466.9 586.8h43M466.9 589.8h43M466.9 592.8h43M466.9 604.8h43M466.9 607.8h43M466.9 613.8h43M466.9 616.8h43M466.9 619.8h43M466.9 631.8h43M552.9 473h43M552.9 482h43M552.9 526.9h43M552.9 529.9h43M552.9 535.9h43M552.9 541.9h43M552.9 550.9h43M552.9 556.9h43M552.9 565.9h43M552.9 571.9h43M552.9 574.9h43M552.9 577.9h43M595.8 781.6h43M595.8 784.6h43M595.8 793.6h43M595.8 796.5h43M595.8 808.5h43M595.8 811.5h43M595.8 817.5h43M595.8 820.5h43M595.8 826.5h43M595.8 829.5h43M638.8 676.7h43M638.8 682.7h43M638.8 688.7h43M638.8 694.7h43M638.8 697.7h43M638.8 700.7h43M638.8 709.7h43M638.8 712.7h43M638.8 715.7h43M638.8 730.6h43M638.8 733.6h43M638.8 736.6h43M638.8 745.6h43M638.8 748.6h43M638.8 751.6h43M638.8 766.6h43M638.8 772.6h43M724.7 398.1h43M724.7 404.1h43M724.7 410.1h43M724.7 416.1h43M724.7 422.1h43M724.7 425.1h43M724.7 428.1h43M724.7 431.1h43M724.7 434.1h43M724.7 437.1h43M724.7 455h43" stroke="#ff0000"/>
<path d="M552.9 544.9h43M552.9 547.9h43M552.9 553.9h43M552.9 568.9h43M595.8 787.6h43M595.8 790.6h43M595.8 799.5h43M595.8 802.5h43M595.8 814.5h43M595.8 823.5h43M638.8 679.7h43M638.8 685.7h43M638.8 724.6h43M638.8 727.6h43M638.8 739.6h43M638.8 742.6h43M638.8 754.6h43M638.8 757.6h43M638.8 760.6h43M638.8 763.6h43M638.8 769.6h43M724.7 401.1h43M724.7 407.1h43M724.7 413.1h43M724.7 419.1h43M724.7 443h43M724.7 446h43M724.7 449h43M724.7 452h43" stroke="#ff0000"/>
<path d="M466.9 580.9h43" stroke="#ff0000"/>
<path d="M552.9 523.9h43M724.7 299.2h43M724.7 314.2h43" stroke="#ff0000"/>
<path d="M509.9 245.3h43" stroke="#ff0000"/></g>
<path d="M424 119.5H411.8V122.5H424M424 125.5H412.5V128.5H424M424 131.5H417.9V134.5H424M412.5 127H406.4V133H417.9M411.8 121H400.1V130H406.4M424 137.5H412.6V140.5H424M424 143.5H415.1V146.5H424M412.6 139H403.5V145H415.1M400.1 125.5H390V142H403.5M424 149.5H413.5V152.5H424M424 158.4H418.2V161.4H424M424 155.4H415.2V159.9H418.2M424 164.4H418V167.4H424M418 165.9H410.4V170.4H424M415.2 157.7H394.7V168.2H410.4M424 179.4H414V182.4H424M424 176.4H411V180.9H414M424 173.4H400.8V178.7H411M424 185.4H417.9V188.4H424M424 191.4H413.4V194.4H424M424 197.4H411.1V200.4H424M413.4 192.9H403.9V198.9H411.1M417.9 186.9H396.1V195.9H403.9M400.8 176H391.8V191.4H396.1M394.7 162.9H383.8V183.7H391.8M413.5 151H380.8V173.3H383.8M390 133.7H374.7V162.1H380.8M424 203.4H410.3V206.4H424M424 212.4H420.1V215.4H424M424 209.4H417.1V213.9H420.1M410.3 204.9H397.7V211.6H417.1M397.7 208.2H394.7V218.4H424M424 221.4H412.8V224.4H424M424 230.3H416.4V233.3H424M424 227.3H409.4V231.8H416.4M424 236.3H416.3V239.3H424M424 242.3H409.5V245.3H424M416.3 237.8H405.8V243.8H409.5M409.4 229.6H396.9V240.8H405.8M412.8 222.9H392.7V235.2H396.9M394.7 213.3H384.5V229H392.7M374.7 147.9H368.6V221.2H384.5M424 251.3H418.7V254.3H424M424 248.3H415.7V252.8H418.7M424 257.3H412.1V260.3H424M424 263.3H416.2V266.3H424M424 269.3H415.6V272.3H424M416.2 264.8H403V270.8H415.6M412.1 258.8H397.4V267.8H403M415.7 250.6H394.4V263.3H397.4M424 275.3H413.2V278.3H424M424 281.3H409.2V284.3H424M424 290.3H412.6V293.3H424M424 302.2H414.4V305.2H424M424 299.2H411.4V303.7H414.4M424 296.2H405.9V301.5H411.4M405.9 298.9H402.9V308.2H424M412.6 291.8H398.6V303.6H402.9M424 287.3H395.6V297.7H398.6M424 317.2H413.2V320.2H424M424 314.2H410.2V318.7H413.2M424 311.2H401.3V316.5H410.2M424 329.2H413.1V332.2H424M424 326.2H410.1V330.7H413.1M424 323.2H403V328.5H410.1M401.3 313.9H390.9V325.8H403M395.6 292.5H386.1V319.8H390.9M409.2 282.8H383.1V306.2H386.1M413.2 276.8H380.1V294.5H383.1M394.4 256.9H373.6V285.6H380.1M424 338.2H412.5V341.2H424M424 344.2H415.7V347.2H424M412.5 339.7H403.8V345.7H415.7M424 335.2H398.9V342.7H403.8M424 353.2H415V356.2H424M424 350.2H412V354.7H415M424 359.2H416.1V362.2H424M412 352.4H402.5V360.7H416.1M402.5 356.5H399.5V365.2H424M424 371.1H417.4V374.1H424M424 377.1H410.6V380.1H424M417.4 372.6H405.9V378.6H410.6M424 368.1H402.1V375.6H405.9M399.5 360.8H391.6V371.9H402.1M398.9 338.9H383.5V366.4H391.6M373.6 271.3H369.6V352.7H383.5M368.6 184.6H356.4V312H369.6M424 386.1H415.5V389.1H424M424 383.1H412.5V387.6H415.5M424 392.1H412.2V395.1H424M412.5 385.4H399.6V393.6H412.2M424 401.1H419.7V404.1H424M424 398.1H416.7V402.6H419.7M416.7 400.4H404.3V407.1H424M399.6 389.5H390.6V403.7H404.3M424 410.1H417.7V413.1H424M424 416.1H411V419.1H424M417.7 411.6H405.2V417.6H411M424 422.1H409.5V425.1H424M405.2 414.6H396.6V423.6H409.5M424 428.1H412V431.1H424M412 429.6H409V434.1H424M396.6 419.1H390.7V431.8H409M390.6 396.6H380.6V425.4H390.7M424 437.1H412.1V440H424M424 443H409.2V446H424M424 449H415.8V452H424M415.8 450.5H410.2V455H424M409.2 444.5H400.4V452.8H410.2M412.1 438.6H397.2V448.7H400.4M424 458H417.2V461H424M397.2 443.6H390.3V459.5H417.2M380.6 411H377.6V451.6H390.3M356.4 248.3H353.4V431.3H377.6M424 467H409.7V470H424M424 479H416.2V482H424M424 476H413.2V480.5H416.2M424 473H405.4V478.2H413.2M409.7 468.5H400.5V475.6H405.4M424 464H394.1V472.1H400.5M424 488H414.2V491H424M424 485H411.2V489.5H414.2M424 497H416.4V500H424M424 494H413.4V498.5H416.4M411.2 487.2H398V496.2H413.4M424 503H413.1V506H424M424 511.9H416.5V514.9H424M424 509H413.5V513.4H416.5M413.1 504.5H398.2V511.2H413.5M398 491.7H386.3V507.8H398.2M394.1 468H378.5V499.8H386.3M424 517.9H413.7V520.9H424M424 523.9H414.1V526.9H424M413.7 519.4H404.2V525.4H414.1M424 529.9H409.9V532.9H424M404.2 522.4H400.1V531.4H409.9M424 538.9H420.8V541.9H424M420.8 540.4H417.8V544.9H424M424 535.9H403V542.7H417.8M424 547.9H411.5V550.9H424M424 553.9H410.1V556.9H424M411.5 549.4H403.7V555.4H410.1M424 562.9H416.2V565.9H424M424 559.9H413.2V564.4H416.2M424 568.9H412.7V571.9H424M413.2 562.1H403.2V570.4H412.7M403.7 552.4H390.3V566.2H403.2M403 539.3H386.3V559.3H390.3M400.1 526.9H381.8V549.3H386.3M424 574.9H409.8V577.9H424M381.8 538.1H378.8V576.4H409.8M378.5 483.9H371V557.2H378.8M353.4 339.8H349.7V520.6H371M424 580.9H416.4V583.8H424M424 586.8H417.8V589.8H424M424 592.8H416.4V595.8H424M416.4 594.3H413.4V598.8H424M417.8 588.3H406.5V596.6H413.4M416.4 582.3H403.5V592.5H406.5M424 604.8H421V607.8H424M424 601.8H418.4V606.3H421M424 613.8H421V616.8H424M424 610.8H418.5V615.3H421M424 619.8H416.1V622.8H424M418.5 613.1H406.9V621.3H416.1M418.4 604.1H399.5V617.2H406.9M424 628.8H418.9V631.8H424M424 625.8H415.9V630.3H418.9M424 634.8H419.1V637.8H424M415.9 628H408V636.3H419.1M408 632.2H403.8V640.8H424M399.5 610.6H395.2V636.5H403.8M403.5 587.4H389.9V623.5H395.2M424 643.8H415.6V646.8H424M424 655.7H416.8V658.7H424M424 652.8H413.8V657.2H416.8M424 649.8H404.9V655H413.8M415.6 645.3H400.8V652.4H404.9M424 664.7H419.3V667.7H424M424 661.7H416.3V666.2H419.3M424 670.7H416.6V673.7H424M416.3 664H402.8V672.2H416.6M400.8 648.8H393.4V668.1H402.8M389.9 605.5H385V658.5H393.4M424 676.7H412V679.7H424M424 682.7H417.2V685.7H424M417.2 684.2H414.2V688.7H424M412 678.2H404.1V686.5H414.2M424 694.7H420.8V697.7H424M424 691.7H417.8V696.2H420.8M424 700.7H419.9V703.7H424M424 706.7H419.9V709.7H424M419.9 702.2H416.9V708.2H419.9M417.8 693.9H399.7V705.2H416.9M404.1 682.3H392V699.6H399.7M424 715.7H421V718.7H424M424 712.7H419.1V717.2H421M424 727.6H421V730.6H424M424 724.6H421V729.1H421M424 721.7H419.1V726.9H421M419.1 714.9H416.1V724.3H419.1M424 733.6H421V736.6H424M424 742.6H421V745.6H424M424 739.6H420.5V744.1H421M421 735.1H417.5V741.9H420.5M424 751.6H421V754.6H424M424 748.6H418.7V753.1H421M424 757.6H420.4V760.6H424M424 763.6H421V766.6H424M424 769.6H421V772.6H424M421 765.1H420.2V771.1H421M420.4 759.1H417.2V768.1H420.2M418.7 750.9H407.3V763.6H417.2M417.5 738.5H393.8V757.2H407.3M416.1 719.6H390.8V747.9H393.8M392 690.9H381.8V733.7H390.8M385 632H375.5V712.3H381.8M424 775.6H421V778.6H424M424 784.6H421V787.6H424M424 781.6H421V786.1H421M421 777.1H418.4V783.8H421M418.4 780.4H415.1V790.6H424M415.1 785.5H412.1V793.6H424M424 796.5H420.4V799.5H424M424 805.5H420.2V808.5H424M424 802.5H417.2V807H420.2M424 814.5H421V817.5H424M424 811.5H421V816H421M421 813.8H420.2V820.5H424M420.2 817.1H417.2V823.5H424M417.2 804.8H414.2V820.3H417.2M420.4 798H411.2V812.6H414.2M424 826.5H419.5V829.5H424M411.2 805.3H393.1V828H419.5M412.1 789.5H389.2V816.7H393.1M375.5 672.2H370.8V803.1H389.2M349.7 430.2H334V737.6H370.8" fill="none" stroke="#000" stroke-width="1.3"/>
<path d="M431.5 112H509.6M515 112H594M599 112H677.4M688 112H766.7" stroke="#000" stroke-width="1.8" fill="none"/>
<text transform="translate(472 110.6) rotate(-45)" font-size="33">Control</text>
<text transform="translate(544.7 110.6) rotate(-45)" font-size="33">C+Loni</text>
<text transform="translate(628 106) rotate(-45)" font-size="33">A<tspan font-family='"Liberation Serif", "Times New Roman", serif'>β</tspan></text>
<text transform="translate(710.5 106) rotate(-45)" font-size="33"><tspan font-family='"Liberation Serif", "Times New Roman", serif'>Aβ</tspan>+Loni</text>
<defs><linearGradient id="lg" x1="0" y1="0" x2="0" y2="1"><stop offset="0" stop-color="#ff4444"/><stop offset="0.40" stop-color="#fff4f4"/><stop offset="0.425" stop-color="#ffffff"/><stop offset="0.45" stop-color="#f6f6fc"/><stop offset="1" stop-color="#0c0c80"/></linearGradient></defs>
<rect x="797.7" y="239.5" width="24.4" height="324" fill="url(#lg)"/>
<text x="834" y="264.8" font-size="24" fill="#111">Row max</text>
<text x="834" y="541.6" font-size="24" fill="#111">Row min</text>
<text x="17" y="232" font-size="50" font-weight="bold">a</text>
<text x="1112" y="290" font-size="50" font-weight="bold">b</text>
<text x="15" y="926" font-size="50" font-weight="bold">c</text>
<text x="1096" y="925" font-size="50" font-weight="bold">d</text>
<text x="16.7" y="1455" font-size="50" font-weight="bold">e</text>
<text x="681" y="1466.4" font-size="50" font-weight="bold">f</text>
<text x="1391.3" y="1466.4" font-size="50" font-weight="bold">g</text>
<text x="20" y="2095.2" font-size="50" font-weight="bold">h</text>
<text x="677.6" y="2106.9" font-size="50" font-weight="bold">i</text>
<text x="1402" y="2102.7" font-size="50" font-weight="bold">j</text>
<path d="M289 1756h3M288 1757h5M287 1758h7M286 1759h8M286 1760h8M286 1761h8M286 1762h8M286 1763h8M301 1763h3M286 1764h7M300 1764h5M287 1765h5M299 1765h7M288 1766h3M299 1766h7M299 1767h7M300 1768h5M301 1769h3M289 1778h3M288 1779h5M287 1780h7M287 1781h8M287 1782h8M287 1783h8M287 1784h8M287 1785h8M287 1786h8M287 1787h7M288 1788h5M299 1788h5M289 1789h3M298 1789h7M297 1790h9M297 1791h9M297 1792h10M297 1793h10M298 1794h9M288 1795h3M299 1795h8M287 1796h5M300 1796h6M286 1797h7M300 1797h5M286 1798h8M299 1798h5M286 1799h8M298 1799h7M286 1800h8M298 1800h8M286 1801h9M298 1801h8M287 1802h9M298 1802h8M286 1803h20M285 1804h21M285 1805h22M285 1806h22M285 1807h22M284 1808h23M284 1809h23M284 1810h24M284 1811h26M283 1812h28M283 1813h29M283 1814h29M283 1815h29M282 1816h29M281 1817h29M281 1818h30M281 1819h30M330 1819h3M282 1820h29M329 1820h5M345 1820h3M281 1821h29M328 1821h7M344 1821h5M281 1822h30M328 1822h7M343 1822h7M281 1823h30M328 1823h7M343 1823h8M281 1824h31M329 1824h5M338 1824h4M343 1824h8M280 1825h32M330 1825h3M337 1825h6M344 1825h7M280 1826h32M336 1826h15M280 1827h32M336 1827h8M345 1827h5M279 1828h34M336 1828h8M346 1828h3M357 1828h3M278 1829h36M336 1829h7M356 1829h5M277 1830h37M337 1830h5M355 1830h7M277 1831h37M331 1831h3M338 1831h3M355 1831h8M277 1832h38M330 1832h5M355 1832h8M260 1833h3M276 1833h39M329 1833h7M356 1833h7M259 1834h5M276 1834h40M328 1834h9M357 1834h5M258 1835h7M275 1835h41M328 1835h9M358 1835h3M257 1836h8M275 1836h41M328 1836h9M256 1837h9M274 1837h44M328 1837h8M256 1838h9M274 1838h48M328 1838h7M256 1839h9M273 1839h50M328 1839h7M256 1840h8M272 1840h52M328 1840h7M257 1841h6M272 1841h52M329 1841h5M256 1842h7M271 1842h53M330 1842h3M255 1843h8M270 1843h54M254 1844h9M270 1844h53M336 1844h3M249 1845h4M254 1845h9M269 1845h55M335 1845h8M248 1846h15M268 1846h56M334 1846h11M247 1847h15M267 1847h57M334 1847h12M247 1848h14M266 1848h59M334 1848h13M247 1849h9M257 1849h3M266 1849h59M335 1849h13M247 1850h10M266 1850h60M336 1850h12M248 1851h9M265 1851h62M337 1851h11M249 1852h8M265 1852h62M332 1852h5M339 1852h9M251 1853h5M265 1853h62M331 1853h7M340 1853h7M252 1854h3M265 1854h62M330 1854h9M341 1854h5M264 1855h64M330 1855h9M342 1855h3M260 1856h3M264 1856h64M330 1856h9M259 1857h69M330 1857h8M258 1858h79M258 1859h78M258 1860h75M258 1861h77M259 1862h77M259 1863h78M259 1864h78M259 1865h78M260 1866h77M261 1867h76M263 1868h73M263 1869h72M263 1870h71M263 1871h70M263 1872h68M263 1873h67M263 1874h68M263 1875h69M262 1876h70M261 1877h71M260 1878h72M259 1879h72M259 1880h71M259 1881h74M259 1882h75M260 1883h75M261 1884h75M260 1885h76M259 1886h78M258 1887h80M257 1888h81M257 1889h81M257 1890h80M256 1891h80M255 1892h75M332 1892h5M254 1893h84M253 1894h86M253 1895h86M253 1896h7M261 1896h78M254 1897h5M261 1897h77M255 1898h3M262 1898h76M261 1899h77M261 1900h67M329 1900h9M260 1901h78M260 1902h77M260 1903h76M261 1904h69M331 1904h8M260 1905h80M259 1906h82M259 1907h82M257 1908h84M256 1909h85M255 1910h86M255 1911h85M235 1912h3M251 1912h3M255 1912h75M331 1912h9M234 1913h5M250 1913h80M336 1913h5M233 1914h7M249 1914h82M333 1914h9M233 1915h7M249 1915h82M332 1915h11M233 1916h7M249 1916h94M234 1917h5M249 1917h10M261 1917h82M235 1918h3M248 1918h82M331 1918h11M248 1919h81M332 1919h9M248 1920h82M333 1920h5M248 1921h83M334 1921h3M249 1922h83M250 1923h84M250 1924h7M258 1924h77M251 1925h5M258 1925h78M252 1926h3M259 1926h77M260 1927h76M264 1928h72M264 1929h71M265 1930h69M266 1931h62M329 1931h3M267 1932h60M268 1933h57M270 1934h52M271 1935h50M273 1936h45M275 1937h42M277 1938h38M278 1939h36M282 1940h30M285 1941h24M286 1942h22M287 1943h18M289 1944h15M290 1945h12M291 1946h10M293 1947h5M294 1948h3" stroke="#619CFF" stroke-width="1.1" fill="none" shape-rendering="crispEdges"/>
<path d="M301.1 1562.5h0M290 1580.6h0M289.5 1585.8h0M302.5 1600.1h0M290.6 1604.1h0M291 1605.5h0M289.9 1612.2h0M298.9 1617.3h0M301.3 1626.2h0M291.2 1628.4h0M299.9 1631.3h0M298.8 1634h0M292 1635.4h0M290.8 1641.3h0M289.4 1644.6h0M302.4 1644.6h0M289.1 1645.9h0M301.6 1651.1h0M290.9 1651.6h0M301.7 1659.3h0M302.4 1664.2h0M299.6 1666.3h0M289.6 1667.8h0M290.6 1669.7h0M288.8 1670.7h0M298.9 1676.5h0M293.2 1678h0M292.2 1679.7h0M290.5 1681.3h0M287.5 1684.8h0M297.8 1685.3h0M298.4 1685.5h0M298.5 1691.9h0M302.3 1694.8h0M301.6 1697.3h0M303 1696.7h0M293.5 1697.7h0M290.9 1698.5h0M292.4 1700.5h0M300.5 1701.8h0M293.5 1705.2h0M301.5 1706.3h0M289 1707.4h0M299.7 1708.8h0M291.2 1710.2h0M292.3 1710.5h0M300.2 1711.3h0M299.4 1712.2h0M302.9 1712h0M293.5 1714.4h0M293.3 1716.9h0M291.3 1717.8h0M297.5 1717.8h0M303.5 1719.4h0M290.5 1721.5h0M297.4 1721.4h0M298.3 1721h0M292.4 1721.9h0M297.5 1723h0M292 1723.7h0M293 1723.7h0M297.3 1724.9h0M298.7 1724.8h0M298.7 1726h0M303.3 1725.6h0M293.6 1728.4h0M302 1728.1h0M288.9 1729.5h0M293.4 1729.9h0M292.1 1732.4h0M291 1732.8h0M299.6 1733.4h0M301.2 1732.5h0M292.7 1733.9h0M292.9 1735.3h0M301.8 1734.9h0M291.4 1736.8h0M292 1737h0M297.3 1737.1h0M287.6 1738.1h0M297.1 1738.8h0M302.5 1738.7h0M288.6 1740.4h0M290.6 1739.9h0M303.4 1740.3h0M299.8 1741.3h0M301.6 1741.3h0M298.2 1742.2h0M302 1742h0M288.1 1743h0M293.2 1743h0M291.2 1743.7h0M297.3 1744.5h0M287.7 1744.6h0M290 1745.3h0M292.5 1744.8h0M300.7 1745.2h0M286.9 1745.8h0M299.9 1745.6h0M299.8 1747.7h0M303.7 1747.5h0M303.4 1749.3h0M293 1750.2h0M298.9 1750.5h0M290.9 1750.6h0M292 1750.5h0M302.9 1751h0M303.8 1750.6h0M291.4 1752.7h0M302.2 1753.1h0M304 1752.9h0M287.4 1753.5h0M291.1 1754.3h0M296.9 1754.2h0M301.6 1755.2h0M293.1 1756.3h0M299.2 1755.7h0M302.4 1756h0M290.3 1757h0M304.2 1756.8h0M287.6 1758h0M291.6 1759.1h0M297.7 1759.1h0M301.9 1759.1h0M286.9 1759.6h0M287.5 1759.9h0M303 1760.5h0M304.3 1761.1h0M287.5 1761.6h0M293.1 1762h0M290.7 1762.6h0M302.7 1763.4h0M301.6 1764.3h0M287.1 1765.1h0M299.2 1765.5h0M290.3 1766.3h0M300.3 1765.9h0M304 1765.7h0M288 1766.9h0M303.3 1766.9h0M297.3 1768.7h0M301.2 1768.6h0M290.7 1770.4h0M291.4 1769.8h0M292.7 1769.8h0M301.4 1769.9h0M302.9 1770.1h0M289.5 1770.6h0M293.7 1771.4h0M304.2 1771.4h0M298.2 1772.4h0M301.7 1772.5h0M288.8 1773h0M286.6 1774.3h0M290.5 1774.3h0M293.6 1774.3h0M293.8 1773.9h0M298.2 1774.1h0M300.6 1774.5h0M289.4 1774.7h0M304.3 1774.7h0M290.8 1775.7h0M292.4 1776.2h0M297.4 1775.8h0M298.9 1775.5h0M293.6 1776.8h0M299.9 1777h0M303.6 1777h0M287.5 1778.1h0M288.1 1778.2h0M289.5 1778h0M289.9 1777.7h0M298.3 1778.6h0M288.3 1780.2h0M291 1779.6h0M293.5 1779.7h0M294.1 1780.3h0M297.3 1780.4h0M298.9 1779.9h0M287.7 1781.1h0M291.7 1780.7h0M297.5 1781.4h0M298.1 1781h0M300.4 1781.6h0M303.4 1782.4h0M293 1782.9h0M301.7 1783.4h0M288.4 1784.3h0M298.1 1784.2h0M300 1784.2h0M287.8 1785.3h0M293.1 1784.7h0M302.1 1785.4h0M303.9 1784.6h0M304.5 1785h0M291.5 1786.4h0M286.5 1787.3h0M288.5 1786.9h0M288.7 1786.6h0M298.1 1787.5h0M303.8 1787.1h0M287.7 1787.7h0M290.6 1787.5h0M300.5 1789.1h0M301.1 1788.7h0M302.3 1789.5h0M290 1789.5h0M290.6 1790.2h0M293.2 1790h0M298 1790.1h0M293.3 1791h0M294 1790.7h0M303.6 1791.1h0M287.8 1791.7h0M291.2 1792h0M292.6 1792.4h0M304.2 1792.5h0M289.8 1793.2h0M290 1793.1h0M296.8 1793.2h0M304.6 1793h0M298.5 1793.6h0M287.2 1795.1h0M304.2 1795.3h0M288.7 1796.4h0M301 1795.8h0M303.4 1796.4h0M288.3 1797.3h0M288.5 1796.6h0M289.5 1796.9h0M292.8 1797.4h0M293.1 1796.8h0M297.4 1797.2h0M286.7 1798h0M301.2 1798.3h0M301.8 1798.1h0M292.4 1798.8h0M297.8 1799.4h0M298 1798.6h0M286.5 1800.3h0M291.6 1801.3h0M304.5 1800.5h0M287.6 1802h0M299.4 1801.7h0M293.7 1803.1h0M299.2 1803.2h0M286.4 1803.7h0M287.3 1803.8h0M294.8 1804.3h0M296.9 1804.3h0M298.1 1804.4h0M304 1803.7h0M304.6 1805.5h0M304.6 1806.1h0M216.4 1807h0M228.6 1807.4h0M278.6 1806.9h0M286 1806.6h0M310.4 1807h0M331.5 1807.1h0M341.5 1807.5h0M200.5 1807.9h0M228.9 1807.8h0M236 1807.7h0M247.3 1807.5h0M249.8 1808.5h0M250.9 1808.3h0M258.8 1808.4h0M276.7 1807.5h0M286.2 1808.3h0M304.9 1808.4h0M328.5 1808.1h0M334.7 1808h0M335.6 1807.5h0M355.1 1807.7h0M184.4 1808.6h0M203.7 1809.4h0M225.1 1809.3h0M242.3 1808.6h0M245.9 1808.8h0M252.4 1809.1h0M257.7 1809.1h0M279.1 1808.7h0M282.2 1808.7h0M317.2 1809.1h0M335.5 1809.3h0M349.6 1808.8h0M363.8 1808.7h0M385.5 1809h0M184.1 1810.5h0M211.5 1809.6h0M222.5 1810h0M226.6 1810.3h0M258.2 1809.7h0M261.3 1810.4h0M284.9 1810.5h0M285.2 1809.7h0M304.6 1809.7h0M310.3 1809.8h0M312.5 1809.8h0M324.9 1809.9h0M332.3 1810.3h0M357.4 1809.6h0M357.7 1810.4h0M248 1811.4h0M250.8 1810.9h0M255.4 1810.8h0M262.3 1811.1h0M269.8 1811.2h0M305.9 1810.8h0M305.9 1810.6h0M316.6 1810.9h0M320.8 1811h0M328.3 1810.7h0M330.6 1811.2h0M336.9 1811.2h0M359.3 1810.9h0M394.3 1810.5h0M158.4 1812.2h0M220 1811.8h0M225.6 1812.5h0M248.4 1812.3h0M251.1 1812.3h0M262.4 1812.3h0M284.8 1812.5h0M306.8 1812.2h0M310.3 1811.9h0M312.7 1811.7h0M315.1 1811.9h0M332.2 1812.2h0M342.3 1812.1h0M354.4 1811.8h0M374.5 1812.3h0M376.2 1812h0M377.3 1812.4h0M167.2 1812.8h0M211.4 1813.3h0M240.3 1813.1h0M243.1 1812.8h0M244.7 1812.9h0M245.9 1813.5h0M246.3 1813.1h0M252.3 1813.3h0M274.3 1813.2h0M284.5 1813.3h0M312.8 1812.9h0M316.8 1812.7h0M316.9 1813.2h0M347.3 1813.4h0M355.3 1812.6h0M391.8 1813.4h0M224.8 1813.8h0M276.1 1814h0M317.7 1814.1h0M326.2 1814.2h0M331.1 1813.9h0M331.2 1814.2h0M331.3 1813.8h0M346.5 1813.8h0M348.9 1813.6h0M349.1 1814.3h0M350.8 1813.8h0M357 1813.8h0M366.7 1813.6h0M415.3 1814h0M233.3 1815.1h0M241.4 1814.5h0M244.4 1815h0M249.7 1814.7h0M251.4 1814.8h0M260.1 1815.4h0M270.2 1815.2h0M272.8 1814.8h0M278.3 1815.4h0M284.1 1815.3h0M310.1 1815.3h0M322.8 1815.4h0M342 1814.7h0M354.2 1814.6h0M355.8 1814.9h0M365.1 1814.7h0M173.1 1815.5h0M216.2 1816.1h0M224.3 1816.3h0M266.8 1816.1h0M273.8 1816.4h0M278.9 1816.1h0M326.6 1815.8h0M328.5 1815.7h0M341.9 1815.8h0M348.7 1815.9h0M210.2 1817.1h0M234.3 1817.1h0M237.4 1817h0M249.4 1817.3h0M259.8 1816.8h0M273.8 1817.1h0M279.3 1817.1h0M283 1816.6h0M308.3 1817.4h0M323.1 1816.7h0M329.6 1817.5h0M337.4 1817.4h0M344.1 1817.3h0M370.4 1816.6h0M212.8 1817.7h0M256.9 1818.3h0M258.6 1818.1h0M262.1 1818.3h0M282 1817.8h0M312.1 1817.5h0M316.3 1817.6h0M322.5 1817.7h0M324.9 1818.5h0M328.8 1818.4h0M336.3 1817.6h0M355.5 1818.1h0M364.8 1818.3h0M377.2 1818.2h0M382.2 1818.3h0M200.6 1819.2h0M231.2 1818.9h0M234.7 1818.7h0M236 1819.5h0M247.4 1819.3h0M250.8 1818.8h0M253.5 1818.8h0M259.7 1819.1h0M279 1818.5h0M309.8 1819.1h0M314.5 1818.5h0M338.2 1819h0M340.1 1819h0M342 1819.1h0M353.6 1818.9h0M368.9 1819.4h0M374.3 1818.8h0M375.8 1818.9h0M386.7 1819.1h0M209.7 1820.3h0M215.2 1819.9h0M227 1820.4h0M254.1 1819.8h0M274.1 1820.4h0M315.6 1820.4h0M328.4 1819.7h0M330.3 1819.9h0M332.8 1820.1h0M338.4 1819.9h0M341.5 1819.9h0M346.4 1820.5h0M347.4 1820.2h0M220.6 1821.4h0M230.5 1821.1h0M233.4 1820.8h0M240.9 1821.2h0M243.7 1821.2h0M250.6 1821.1h0M253.6 1820.8h0M283 1820.6h0M308.3 1820.6h0M323.9 1820.7h0M330.4 1821.1h0M332.1 1821.1h0M336.2 1821.1h0M338.8 1820.9h0M340.7 1821.1h0M361 1820.7h0M412.2 1821.3h0M212.3 1821.9h0M235.4 1822.1h0M236.2 1821.7h0M242.6 1822.3h0M257 1822.4h0M260.5 1822.5h0M261.2 1821.7h0M268.8 1822.4h0M281.8 1821.8h0M282.4 1822.1h0M308 1822.3h0M316.9 1822.4h0M328.5 1821.9h0M342.6 1822.2h0M357.9 1821.9h0M206.7 1823.4h0M211.2 1822.6h0M235.3 1822.9h0M237.3 1822.8h0M241.9 1822.7h0M249.3 1823.1h0M282.4 1823.4h0M309 1823.1h0M330.2 1823.4h0M333.6 1822.6h0M349.1 1822.9h0M372.7 1822.7h0M211.7 1823.8h0M221.1 1823.5h0M240.5 1823.7h0M243 1824h0M252.3 1824.4h0M255.8 1823.9h0M262.4 1824.1h0M263.4 1823.7h0M272.7 1824h0M282.1 1824.4h0M308.5 1824.4h0M308.6 1824.4h0M319.6 1823.6h0M328.5 1823.8h0M329.4 1823.7h0M329.9 1823.7h0M336.4 1824.2h0M344.7 1824h0M349 1823.6h0M350 1824.3h0M357.5 1823.9h0M396.9 1823.9h0M190 1824.9h0M213.5 1825.5h0M254 1825h0M256.2 1824.8h0M260.7 1825.2h0M261 1825.1h0M262.2 1825.4h0M282.3 1824.8h0M309.8 1825.3h0M337.7 1825.4h0M338.7 1825h0M341.4 1824.6h0M345.3 1824.8h0M354.5 1824.8h0M198.8 1826.3h0M233.4 1826.2h0M240.4 1825.8h0M273.5 1825.8h0M275.5 1826.3h0M280.6 1826.2h0M280.9 1826h0M281.2 1826.5h0M310.1 1825.8h0M322.2 1826.1h0M322.9 1826h0M335.8 1825.6h0M348.9 1825.8h0M355.6 1826.3h0M361 1826h0M423.7 1825.7h0M219.8 1826.8h0M240.2 1827.1h0M258.8 1826.7h0M260.8 1827.1h0M262.6 1826.8h0M310.5 1827.2h0M328 1826.7h0M329.4 1827.1h0M330.4 1826.6h0M337.5 1826.6h0M342.3 1827.5h0M343.9 1827.3h0M383.4 1827.5h0M222.2 1827.6h0M226.6 1828.5h0M243.3 1827.7h0M248.8 1828h0M251.3 1828.5h0M270.7 1827.8h0M281.3 1827.7h0M309.5 1827.9h0M310.2 1828h0M319.7 1827.5h0M326.7 1828h0M336.9 1828.3h0M346.7 1827.7h0M350.8 1828.5h0M351.8 1828.1h0M356.9 1827.8h0M358.1 1827.6h0M402.3 1827.5h0M167.2 1829.2h0M219.2 1828.7h0M222.1 1829.5h0M228.4 1828.8h0M232.5 1829.2h0M234.2 1828.8h0M239.2 1829h0M246.5 1829.2h0M278.1 1828.8h0M279.3 1829.3h0M311.1 1829.5h0M311.6 1829.1h0M329.3 1828.7h0M338.4 1828.7h0M340.3 1828.9h0M346.5 1829.4h0M357.5 1829.3h0M380.8 1828.6h0M216.3 1830.1h0M234.1 1829.8h0M242.6 1830.4h0M247.5 1830.2h0M254.6 1829.8h0M273 1830.5h0M311.6 1830.2h0M327.1 1830.3h0M335.9 1830.2h0M338.6 1830.3h0M341.2 1829.6h0M354.2 1830.1h0M358.8 1830h0M375.7 1830.1h0M378.8 1829.9h0M392.2 1830h0M228.2 1831.2h0M257.5 1830.5h0M258.8 1830.5h0M265.1 1831.3h0M311.9 1831.4h0M347.5 1831h0M351.5 1831.1h0M360.7 1830.7h0M396.2 1830.5h0M217.7 1831.5h0M246.8 1832.4h0M250.5 1832.3h0M253.4 1832.3h0M255.4 1832.1h0M259.9 1832h0M262.6 1831.6h0M278.3 1832.3h0M320.2 1831.9h0M332.2 1831.6h0M335.9 1831.6h0M343.1 1831.6h0M350.8 1831.7h0M351.2 1832.5h0M354.1 1832h0M227.1 1832.5h0M241.8 1833.3h0M242.3 1832.9h0M249.6 1833.2h0M255 1833h0M255.6 1833.3h0M261.7 1833.3h0M262.7 1833h0M312.6 1832.5h0M313.2 1832.9h0M328.2 1832.5h0M333.4 1833.5h0M350.6 1832.9h0M352.2 1832.9h0M210.2 1834.2h0M235 1833.5h0M247 1833.8h0M251 1834.4h0M260.2 1834.4h0M277.5 1833.9h0M312.5 1834.1h0M325.9 1834.4h0M330 1833.7h0M344.2 1833.8h0M358.3 1834.2h0M361 1833.9h0M362.8 1833.9h0M370.2 1834.5h0M398.4 1833.5h0M407.5 1834.2h0M226.6 1835.1h0M236.6 1835h0M256.1 1835.3h0M262 1834.9h0M262.7 1835h0M267.8 1834.7h0M276.8 1835.4h0M313.8 1834.8h0M313.9 1834.8h0M323.6 1834.8h0M335.1 1834.6h0M337.2 1835.3h0M338.2 1835.2h0M348.6 1834.8h0M357.6 1834.5h0M363.7 1834.7h0M393.2 1835.4h0M194.9 1835.7h0M200.1 1835.8h0M221.2 1836.1h0M235.2 1836.1h0M239.1 1835.8h0M248.7 1836.1h0M255.9 1835.8h0M259.4 1835.8h0M275.9 1836.4h0M325.2 1836.3h0M329.1 1836.3h0M333.8 1836.1h0M334 1836.4h0M340.1 1836.1h0M341.2 1836.1h0M350.9 1836.3h0M356 1835.5h0M361.2 1836.1h0M362.6 1835.6h0M188.9 1837.3h0M231 1836.8h0M236.6 1836.7h0M243.4 1836.7h0M252.6 1837h0M276.5 1837.1h0M329.2 1837.4h0M351.8 1837.4h0M222.8 1838.3h0M225.4 1837.6h0M235.2 1838.1h0M250.6 1837.6h0M275.2 1838.1h0M316 1838h0M332.5 1838.2h0M338.6 1838h0M339.5 1838.2h0M342.6 1837.8h0M348.7 1838.2h0M351.7 1838.1h0M371.3 1838.5h0M235.7 1839.2h0M241.2 1838.8h0M251.6 1839.4h0M256.7 1839.3h0M262.5 1838.6h0M317.4 1839.4h0M319.1 1838.8h0M321.9 1839.1h0M329 1838.7h0M336.6 1839h0M338.1 1838.5h0M350.4 1838.6h0M358.4 1838.7h0M363.8 1839.3h0M206.7 1839.8h0M225.8 1839.9h0M243.6 1839.6h0M258.1 1840.2h0M273 1840.2h0M274.1 1840h0M328.8 1839.6h0M330.1 1840.3h0M331.6 1839.8h0M335 1840.3h0M340.3 1839.7h0M376.3 1840.1h0M185 1841.5h0M229.9 1840.6h0M235.5 1840.5h0M246.4 1840.5h0M252.5 1841.4h0M258.1 1840.9h0M272.6 1841.3h0M331.1 1841h0M337.7 1841.1h0M343.5 1840.6h0M346.8 1841h0M349 1840.8h0M349.9 1841.2h0M353.8 1841h0M355.3 1840.9h0M371 1840.7h0M376.2 1841.1h0M378.4 1841.2h0M385.2 1840.9h0M162.4 1842.3h0M215.5 1841.9h0M220.5 1841.7h0M226.6 1842.2h0M227 1842h0M247.1 1842.1h0M260.6 1842.1h0M260.9 1842h0M273.3 1841.9h0M323.3 1842h0M328.9 1841.6h0M334.9 1841.7h0M343 1841.8h0M344.4 1842.5h0M346.2 1842.2h0M359.1 1842.2h0M386.7 1841.8h0M235.6 1842.5h0M237.9 1843.1h0M238.4 1843.5h0M242.4 1842.9h0M256.1 1842.6h0M271.6 1842.5h0M355.2 1843.2h0M181.8 1844.2h0M202.5 1844.1h0M246.7 1844.1h0M251 1844h0M261.3 1844h0M265.6 1843.8h0M271.1 1843.8h0M320.6 1844.4h0M328.7 1843.8h0M357.6 1844h0M358.6 1844.2h0M374.7 1843.7h0M406 1844.1h0M169.7 1845h0M191.5 1845.5h0M208 1845h0M221.7 1844.8h0M225.1 1844.8h0M249 1844.8h0M255.4 1845.1h0M261 1845.3h0M320.7 1845.2h0M325.6 1844.8h0M330.7 1845h0M335.3 1845.3h0M337.1 1845.2h0M341.1 1845.3h0M354.8 1845.1h0M368.5 1845h0M177.6 1846.5h0M233.9 1845.6h0M244.8 1845.8h0M262.3 1845.8h0M268.2 1846.3h0M269.6 1846.3h0M270.3 1845.7h0M321.6 1846h0M328.7 1845.7h0M338.7 1846.1h0M219.9 1846.6h0M224.6 1847h0M234.6 1846.6h0M238.2 1846.9h0M253.4 1846.6h0M254.9 1846.8h0M257.3 1847.4h0M259.3 1846.9h0M321.9 1847h0M332 1846.6h0M334.1 1846.6h0M343 1847.2h0M393.5 1847.1h0M177.6 1848.3h0M248 1848.4h0M322 1848.5h0M332.5 1847.7h0M334.3 1847.8h0M343.9 1847.7h0M350.8 1848h0M355.7 1848.5h0M366.1 1847.5h0M377.3 1848.2h0M391.1 1847.7h0M406.6 1847.6h0M167.7 1849.2h0M192.7 1849.4h0M231.7 1848.5h0M233.3 1849.2h0M239.6 1849h0M253.5 1849.3h0M258.2 1849.1h0M266.9 1848.6h0M322.9 1849.4h0M329.7 1848.6h0M347 1848.7h0M386.7 1849.1h0M426.9 1849h0M213.6 1849.9h0M241.3 1850h0M248.1 1850.3h0M258.1 1850.2h0M262.9 1850.2h0M329.7 1849.6h0M331 1850h0M331.6 1850.2h0M336.9 1849.9h0M353.1 1849.7h0M358.7 1849.7h0M361.2 1850h0M187.8 1851.3h0M223.9 1851.1h0M233.7 1850.9h0M235.7 1850.9h0M249 1850.5h0M250.3 1850.5h0M256.6 1851.4h0M266.8 1851.3h0M326.3 1850.9h0M330.6 1850.6h0M332 1851.5h0M339.9 1851.5h0M375.4 1851.5h0M235 1851.7h0M254.8 1852.1h0M264.9 1852h0M345.1 1852h0M347.5 1852h0M358 1851.8h0M359.3 1852.5h0M370.8 1851.6h0M385.4 1852h0M209.9 1852.9h0M220.7 1852.9h0M221.3 1853.3h0M242.2 1853h0M246.7 1852.6h0M251.5 1852.9h0M253.7 1853h0M255.7 1853.4h0M257.5 1852.7h0M325 1853.3h0M329.3 1852.9h0M332.9 1853.2h0M336.4 1852.6h0M339.8 1853h0M359.6 1853h0M393.7 1853.4h0M226.2 1853.7h0M235 1854.5h0M244.2 1854h0M245 1853.8h0M246.5 1853.6h0M265.8 1853.6h0M266 1854.4h0M266.4 1854.3h0M332.3 1853.6h0M338.4 1854.1h0M342.7 1854.1h0M375 1854.2h0M185.2 1854.8h0M325.4 1854.5h0M331.3 1855.1h0M348.3 1855.3h0M364.2 1854.5h0M369.9 1855.2h0M225 1856.4h0M233.3 1856.1h0M240.4 1855.8h0M244 1856h0M256.1 1856h0M265.3 1855.9h0M325.6 1855.9h0M326 1856h0M338.3 1855.8h0M344.2 1855.6h0M345.3 1856h0M377.1 1855.6h0M443.2 1855.5h0M182.7 1856.7h0M203.1 1856.6h0M223.7 1857.1h0M231.7 1856.7h0M242.5 1857.2h0M251.5 1857h0M255.8 1857h0M261.3 1857.3h0M264.5 1856.6h0M335.2 1856.6h0M343.2 1856.8h0M345.7 1857h0M354.5 1857.1h0M379.4 1857.1h0M397.7 1856.9h0M208.9 1858h0M245.9 1857.7h0M247.3 1857.7h0M258.9 1857.9h0M262.1 1857.9h0M264.4 1857.8h0M325.8 1858.2h0M330.1 1857.5h0M332.7 1857.6h0M334.4 1857.6h0M339.9 1858.2h0M357.9 1857.6h0M184.8 1858.7h0M225.1 1859h0M233.3 1858.9h0M238.9 1859.1h0M241.3 1858.5h0M251.2 1858.8h0M251.5 1859h0M326.8 1858.7h0M329.6 1858.7h0M340.8 1859h0M343.7 1858.8h0M352.1 1858.7h0M383.4 1859.1h0M405 1859.4h0M171 1860.3h0M216.6 1860.5h0M220.2 1860.3h0M227.2 1860.1h0M234.2 1859.5h0M237.8 1860h0M239.8 1860.2h0M258.6 1859.9h0M336.7 1859.9h0M350 1859.6h0M356.6 1859.8h0M222.8 1861.2h0M233.1 1861.2h0M241.2 1861.3h0M244.8 1861.2h0M250.9 1860.6h0M330.9 1861.2h0M339 1860.5h0M344.6 1860.8h0M392.9 1860.7h0M210.4 1861.7h0M232.8 1862.1h0M241.6 1862.4h0M244.4 1862.2h0M246.1 1861.7h0M250 1861.9h0M252.1 1862.5h0M260.4 1861.6h0M334.1 1862.1h0M336.5 1861.7h0M337 1862.5h0M347.3 1862h0M361.9 1862.5h0M404.3 1861.7h0M187.8 1863.2h0M220.7 1863.3h0M230.7 1863h0M239 1863.3h0M260 1863.3h0M341.1 1862.6h0M349.7 1863.5h0M358.1 1862.9h0M372.3 1863.4h0M374.4 1862.9h0M417.1 1862.9h0M420.3 1862.7h0M239.6 1864.3h0M241.6 1864h0M258.6 1863.9h0M334.8 1864.4h0M346.5 1864h0M351.6 1864.3h0M226.2 1865.3h0M244.6 1864.6h0M254.4 1864.7h0M257.4 1865.4h0M342 1865.2h0M425 1865.2h0M223.4 1865.6h0M242 1866.2h0M253.3 1866h0M260.9 1866.3h0M263.2 1866h0M335.7 1865.7h0M346.5 1865.6h0M371.6 1866.1h0M201.6 1867.3h0M224.3 1867.2h0M225.7 1866.8h0M235.1 1867h0M250.1 1867h0M256.9 1866.9h0M264.2 1866.5h0M334.3 1866.7h0M336.5 1867.4h0M337.6 1866.7h0M339.2 1867.4h0M354.6 1866.6h0M360.1 1867.4h0M209.1 1867.5h0M233.6 1868.3h0M249.7 1868.3h0M255.5 1867.9h0M263.7 1868.1h0M345.2 1868.2h0M352 1868.2h0M374.7 1867.6h0M187.2 1869.4h0M221.3 1868.7h0M244.3 1869.4h0M246 1869.1h0M249.4 1869h0M253.6 1869.5h0M359 1869.2h0M221.7 1870.4h0M229 1869.9h0M231.4 1869.9h0M257.3 1870.5h0M264.5 1869.8h0M329.8 1869.6h0M331.2 1869.7h0M333.5 1869.7h0M344.1 1869.7h0M350.2 1870.2h0M225.5 1870.8h0M244.6 1871.3h0M249.9 1870.6h0M264 1870.7h0M329.5 1871.1h0M335.9 1871h0M339.9 1871.1h0M342.1 1871.3h0M353.1 1870.6h0M353.9 1871.4h0M230.2 1872.3h0M238.7 1871.9h0M247.4 1871.5h0M254.9 1872.3h0M327.9 1872.1h0M338.8 1872.3h0M349 1871.9h0M392.8 1872.1h0M187.3 1873h0M203 1872.8h0M215.2 1873.2h0M229.3 1872.7h0M244.9 1873h0M254.7 1873.4h0M255.6 1873.3h0M333.3 1873.2h0M348.3 1872.8h0M349 1872.9h0M357.7 1873.3h0M367.4 1873.4h0M233.1 1873.9h0M251.9 1874.2h0M264.4 1873.6h0M327.6 1873.8h0M341.4 1873.6h0M348 1874.2h0M400.3 1873.6h0M237.5 1874.7h0M245.5 1874.5h0M250 1875.1h0M250.6 1874.9h0M264.3 1875h0M328.9 1875.4h0M334.9 1875.1h0M362.7 1875.4h0M377.5 1875h0M402.8 1874.9h0M196.1 1876.2h0M237.6 1876.3h0M239.2 1876.3h0M248.2 1876.3h0M248.9 1876.5h0M254.5 1876.3h0M263.9 1876h0M330.1 1876.1h0M334.9 1876.2h0M345.3 1876.5h0M347.6 1875.8h0M360 1876.5h0M365.8 1875.6h0M407.6 1876.3h0M409.7 1876.4h0M215.5 1877.1h0M230.8 1876.8h0M239.5 1876.5h0M241.9 1877h0M245.2 1877.2h0M248 1877h0M263 1877.3h0M330.5 1877.1h0M340.6 1877.4h0M347.9 1877.1h0M357.3 1877.3h0M358.9 1876.8h0M359.9 1876.7h0M365.6 1877.3h0M382.9 1876.6h0M395.5 1876.9h0M191.7 1877.6h0M201.2 1877.7h0M209.3 1878.4h0M238.9 1877.5h0M239.5 1878.3h0M245.4 1878.2h0M246.4 1878.1h0M251.3 1877.9h0M261.6 1878.4h0M261.8 1877.8h0M330.5 1878.3h0M336.9 1877.8h0M346.2 1877.9h0M255 1878.5h0M256.8 1878.6h0M260.6 1879h0M327.6 1878.9h0M334.9 1879h0M335.8 1878.9h0M339 1878.5h0M339.8 1879.4h0M347 1879.3h0M354.8 1879h0M355.2 1879h0M381.8 1879.5h0M184.9 1880.5h0M192.5 1879.7h0M207.1 1880.1h0M235.6 1879.8h0M251.3 1880.2h0M258.4 1880h0M327.8 1879.9h0M333.8 1879.6h0M370.1 1879.8h0M386.6 1879.6h0M240.8 1881h0M250.8 1881.1h0M332.1 1881h0M339 1881h0M356 1881.1h0M370.4 1880.9h0M383.6 1880.6h0M391 1881.4h0M187.9 1882.1h0M229.2 1882.4h0M245.7 1881.6h0M258.9 1882.4h0M261.3 1881.5h0M348.6 1882.2h0M374 1882.2h0M390.5 1882.2h0M202.2 1883.4h0M244.2 1882.6h0M257.2 1883.3h0M342.3 1882.9h0M351.2 1882.7h0M426.8 1883.4h0M170.6 1884.4h0M222.3 1884.2h0M235.7 1884.1h0M244.7 1883.5h0M246.1 1883.6h0M256.4 1884.3h0M262.2 1883.7h0M333.5 1883.7h0M343.9 1883.7h0M360.4 1884.3h0M370.8 1883.6h0M218.8 1884.8h0M221.5 1884.7h0M224.7 1885.4h0M238.5 1884.8h0M241 1885.2h0M252.1 1885h0M333.7 1884.9h0M343 1885h0M344.2 1884.6h0M353.1 1884.5h0M190.6 1885.8h0M211.2 1886.2h0M232.7 1886h0M234.4 1886.3h0M242.5 1886.4h0M243.2 1885.7h0M245.9 1885.7h0M259.8 1885.6h0M260.2 1886.1h0M346.1 1886.3h0M347.8 1886h0M356.1 1886.5h0M417.2 1885.7h0M205 1886.5h0M235.5 1886.8h0M246.4 1887.1h0M253 1887.3h0M254.6 1887.2h0M335.8 1886.8h0M336.7 1887.5h0M339 1886.7h0M340.2 1886.9h0M342.8 1886.8h0M377.1 1887.4h0M201.2 1888.2h0M237.3 1887.9h0M257.1 1887.6h0M336.4 1888.3h0M363.6 1887.8h0M378 1888h0M241.2 1889h0M245.6 1889.5h0M251.1 1888.7h0M257.8 1888.9h0M335.7 1888.7h0M343.1 1888.6h0M348.4 1889.3h0M369.1 1889.4h0M218 1890h0M225.2 1890.3h0M231.3 1890h0M329.1 1890.4h0M331.4 1889.6h0M344.5 1890.3h0M356.3 1889.9h0M373.7 1890.5h0M389.6 1889.5h0M396.4 1890.4h0M234 1890.8h0M247.3 1890.6h0M332.8 1891h0M334.4 1891.3h0M338 1891.5h0M340.8 1890.6h0M342.8 1891.5h0M354.6 1891.2h0M360.4 1891.3h0M370.2 1890.7h0M163.8 1892.4h0M218.3 1891.8h0M229 1892h0M237.7 1891.6h0M252.6 1891.8h0M256.8 1891.5h0M333.1 1892.3h0M373.1 1892.5h0M65.9 1893.5h0M181.6 1892.7h0M233.3 1892.7h0M248.9 1892.7h0M250.9 1893.4h0M253.9 1892.6h0M255.8 1893.1h0M327.6 1892.9h0M334.9 1893.1h0M345.6 1893.2h0M351.6 1892.5h0M361.3 1893.3h0M406.7 1892.9h0M185.6 1894h0M213.4 1894.1h0M231.3 1894.5h0M243.6 1893.7h0M259.7 1893.6h0M330.9 1894.1h0M336.4 1893.7h0M350.5 1894.3h0M354.6 1894h0M413.4 1894.4h0M240 1895.3h0M245.6 1895h0M251.7 1894.5h0M252.6 1895.3h0M337.4 1895h0M185.5 1895.6h0M229.2 1895.7h0M243.4 1895.7h0M247.6 1895.6h0M255 1895.5h0M258.3 1896.3h0M262.4 1895.6h0M341.5 1896.3h0M358.4 1896.5h0M423.4 1896.3h0M195.9 1897.4h0M201.2 1896.8h0M218.2 1897.1h0M222.2 1896.6h0M232.5 1897.5h0M252.2 1897.3h0M255.9 1896.6h0M257.3 1897h0M336.1 1896.7h0M343.6 1896.5h0M434.3 1896.7h0M227 1897.8h0M240.1 1898.2h0M244.1 1898.3h0M247.5 1898.3h0M248.3 1897.7h0M259.2 1898h0M326.7 1898.2h0M327.5 1898.3h0M327.9 1897.5h0M224.2 1899.3h0M228 1899.4h0M240.8 1898.5h0M247.6 1899.5h0M249.8 1899.4h0M251.5 1898.7h0M251.8 1899.4h0M263.4 1898.6h0M325.6 1899.4h0M325.8 1898.8h0M330 1899.3h0M347 1898.6h0M369 1898.6h0M411.9 1899.1h0M225 1899.7h0M229.9 1900.5h0M235.9 1900.1h0M245.4 1900.5h0M251.1 1900.4h0M254.9 1900.3h0M256.7 1900h0M261.9 1899.7h0M336.6 1899.6h0M343.6 1900.4h0M347.8 1900.3h0M208.2 1901.1h0M216.7 1901.4h0M250 1901.4h0M250.7 1900.9h0M256.8 1900.7h0M336.1 1901h0M337.3 1900.8h0M349.6 1900.8h0M360 1900.6h0M201.7 1902.3h0M239 1901.9h0M245.7 1901.8h0M255.3 1902.2h0M256.4 1901.7h0M258.7 1902.4h0M259.6 1901.9h0M327 1902h0M328.2 1901.7h0M328.6 1902h0M334.4 1901.8h0M353.9 1901.8h0M367.1 1901.8h0M191.1 1902.8h0M218.4 1902.5h0M230.7 1902.5h0M235.9 1902.8h0M251 1902.7h0M257.4 1902.8h0M261.8 1903.2h0M328.5 1902.9h0M342.4 1902.9h0M348.4 1903.4h0M375.3 1902.7h0M233.3 1903.8h0M244.9 1904.2h0M246.4 1903.8h0M327.7 1904.4h0M333.5 1903.8h0M352.6 1904h0M392.2 1904.1h0M213.5 1905h0M218.8 1904.5h0M327.8 1904.9h0M332.3 1905.4h0M334.8 1904.6h0M337.5 1904.6h0M342 1905.3h0M344.3 1905.5h0M383.3 1904.8h0M215.1 1906.5h0M249.6 1906h0M255.8 1906.2h0M260.5 1906h0M328.9 1905.9h0M331.4 1906h0M340 1905.7h0M365.2 1905.6h0M205.1 1906.5h0M238.2 1907.4h0M254.2 1906.7h0M254.8 1907.3h0M350.7 1907.4h0M355.9 1907.4h0M361.3 1907.5h0M381.9 1906.9h0M242.4 1908.2h0M245.1 1908.4h0M387.8 1908.1h0M242.7 1909h0M244 1908.5h0M245.6 1909.3h0M249 1908.6h0M258 1908.8h0M339.5 1909.4h0M346.2 1908.9h0M352 1908.9h0M369.1 1908.6h0M370.3 1908.5h0M371.8 1909.1h0M379.8 1909h0M384.4 1908.8h0M225.9 1910.1h0M240.6 1909.8h0M243.9 1909.8h0M330 1909.5h0M331.4 1910.2h0M215.4 1911.2h0M236.3 1910.5h0M242.7 1911h0M256.3 1911h0M327.7 1911.5h0M334.2 1910.9h0M348.6 1911.4h0M349.4 1911h0M250.1 1912.3h0M332.3 1911.5h0M338.3 1911.7h0M343.1 1911.9h0M360.2 1912.5h0M361.5 1912.4h0M223.7 1913.1h0M239.1 1913.1h0M242.8 1913h0M244 1912.9h0M246 1913.1h0M249.7 1912.7h0M252.2 1913h0M331.9 1913.5h0M336.6 1913.4h0M346.9 1912.8h0M356.6 1912.7h0M370.6 1912.9h0M234 1913.8h0M236.9 1913.7h0M242 1914.2h0M247.5 1914.4h0M254.5 1914.4h0M327.6 1913.9h0M338.7 1914.2h0M360.9 1913.8h0M363 1914h0M363.6 1914.1h0M372.8 1914.1h0M217.5 1914.5h0M233.9 1915.4h0M260.3 1914.6h0M261 1915.1h0M328.7 1914.7h0M331.9 1914.7h0M332.8 1914.8h0M334.4 1914.8h0M340.4 1914.8h0M350.1 1914.9h0M359.4 1915h0M235.1 1915.7h0M238.4 1915.8h0M243.9 1915.6h0M250 1915.9h0M331.5 1915.8h0M340.7 1916h0M342.7 1916.3h0M348.7 1916.2h0M237.1 1916.8h0M238.1 1917.4h0M257.4 1916.5h0M329.6 1916.9h0M330.9 1916.5h0M344.1 1916.9h0M362.7 1916.9h0M367.4 1917.3h0M250.1 1918h0M262 1918.1h0M326.8 1917.6h0M333.1 1918h0M337.7 1917.8h0M339.6 1918.5h0M346 1917.5h0M355.9 1918h0M365.2 1918.1h0M366.4 1917.7h0M233.8 1919.2h0M242.5 1918.9h0M246.7 1919.3h0M260 1918.9h0M261.2 1919.2h0M333.9 1918.5h0M342.4 1918.9h0M343.1 1919.2h0M346.4 1918.8h0M347.8 1919h0M243.8 1920.5h0M246 1920.2h0M326.5 1919.7h0M332.6 1920h0M334.4 1920.5h0M335.5 1920.1h0M356.5 1920.4h0M233.5 1920.8h0M246.6 1921h0M250.4 1920.6h0M328.4 1921.3h0M329.5 1921.3h0M345.4 1920.9h0M345.9 1920.9h0M235.5 1921.6h0M257.6 1922.4h0M343.5 1922.2h0M247.1 1923.1h0M251.4 1923.2h0M258.7 1923.3h0M259.5 1923.5h0M330.1 1922.7h0M337.7 1922.5h0M338.8 1922.5h0M339.6 1923.4h0M345 1923.4h0M246.8 1924.1h0M254.5 1924.4h0M332.7 1924.3h0M334.8 1924.3h0M340.7 1924.4h0M344 1924.4h0M251 1925h0M252.9 1924.7h0M260.3 1924.9h0M332.8 1924.9h0M338.7 1924.5h0M340.6 1925.3h0M344 1924.8h0M256.2 1926h0M257.1 1926.4h0M259.7 1926.4h0M262.4 1926.3h0M334.2 1925.9h0M265.5 1927.1h0M338.2 1926.7h0M339.4 1927.5h0M255.8 1927.9h0M265.1 1928.5h0M333.6 1927.6h0M266.1 1928.7h0M329.3 1928.8h0M331.5 1929.1h0M266.2 1930.1h0M325.8 1929.9h0M326 1929.5h0M260.2 1930.6h0M262.1 1931h0M268.2 1931.1h0M330.1 1930.8h0M269 1932.2h0M270.4 1932.2h0M320.6 1931.5h0M322.8 1931.8h0M271.1 1933h0M320.4 1932.6h0M271.9 1933.8h0M272 1933.5h0M272.8 1934.1h0M317.4 1934.1h0M318.9 1933.9h0M274.3 1935.2h0M315.8 1934.6h0M315.8 1935.3h0M275.7 1936h0M277.2 1935.7h0M313.9 1935.6h0M277.9 1936.6h0M312.9 1937h0M279.2 1937.8h0M280.6 1938.2h0M281.7 1937.8h0M281.8 1937.5h0M311.7 1937.6h0M311.8 1937.9h0M282.8 1939.3h0M282.8 1938.7h0M283.9 1939.2h0M284.1 1938.5h0M284.8 1938.8h0M285.4 1939.4h0M308 1938.6h0M309 1939h0M306.6 1939.8h0M307.4 1940.2h0M285.7 1940.6h0M304.2 1941.2h0M305.1 1941.2h0M306 1940.8h0M286.7 1941.9h0M288.2 1942.3h0M289.4 1942.2h0M289.4 1941.8h0M302.5 1941.5h0M290.4 1943.1h0M301.3 1942.7h0M301.7 1943.1h0M291 1943.9h0M291.4 1944.4h0M299.5 1943.8h0M292.5 1944.9h0M293.1 1944.7h0M297.4 1945h0M299.1 1944.6h0M294.2 1945.6h0M295.6 1945.7h0M295.4 1946.5h0" stroke="#619CFF" stroke-width="3.8" stroke-linecap="round" fill="none"/>
<path d="M224.3 1515.2h0M267 1594.3h0M283 1610.6h0M251.7 1643.2h0M264.7 1648.3h0M212.5 1669.2h0M285.8 1668.6h0M252.4 1677.2h0M270.2 1679.3h0M245.1 1680.5h0M276 1680.9h0M273.2 1686.8h0M208.9 1690.5h0M271.4 1690.2h0M260.9 1691.8h0M273.6 1691.6h0M280.9 1695.4h0M275.6 1695.6h0M275.9 1696.7h0M265.6 1699.4h0M181.1 1699.9h0M261.6 1700h0M269.5 1703.7h0M233.4 1704.9h0M277.8 1705.3h0M275.4 1706.9h0M174.2 1710.4h0M278.6 1710.1h0M250.6 1711.4h0M253.3 1711.7h0M281.5 1712.5h0M250.1 1714.5h0M251.4 1717.4h0M230.3 1718.4h0M228.2 1720.1h0M234.5 1721h0M184.7 1721.7h0M258.8 1722.1h0M241.5 1725.4h0M268.3 1726.7h0M266.1 1729.4h0M255.9 1730.2h0M279.5 1731.4h0M217.5 1731.6h0M277 1731.8h0M282.2 1731.7h0M240.7 1732.6h0M260.4 1733.3h0M263.6 1732.9h0M273.1 1732.7h0M280.1 1732.6h0M280.9 1734.6h0M264.8 1735.5h0M263.1 1737.3h0M256 1739.3h0M266.9 1738.8h0M281.3 1738.8h0M257.7 1739.9h0M277.5 1739.9h0M275.8 1740.8h0M278 1741.9h0M252.1 1743.4h0M284.3 1744h0M264.9 1745.1h0M241.5 1746.3h0M191.8 1747.1h0M216.7 1746.8h0M272.5 1746.7h0M202.3 1747.9h0M252.8 1748.4h0M254.3 1747.8h0M271.5 1748.3h0M203.9 1749.1h0M268.1 1749.4h0M279.1 1749.2h0M285.4 1749.2h0M273.9 1749.8h0M281.3 1751.8h0M272.3 1753.3h0M274.4 1753.4h0M255.5 1753.8h0M262.7 1753.7h0M271.9 1755.1h0M272.9 1756h0M283.6 1756.1h0M246.5 1756.9h0M261 1758.2h0M270.2 1758.3h0M283.3 1758.2h0M249.6 1759h0M272.4 1758.7h0M274.1 1759.3h0M260.2 1760h0M267.3 1760.3h0M270.2 1760.4h0M284.4 1760.5h0M284.1 1761.2h0M254.9 1762.3h0M261.2 1761.7h0M270.6 1761.9h0M270.5 1763.5h0M179.2 1763.9h0M251 1763.5h0M263.1 1765.3h0M268.4 1765.2h0M261.6 1766h0M281.9 1765.5h0M278.5 1767.5h0M259.5 1768.1h0M263.6 1768h0M277.1 1770.5h0M280.9 1770.9h0M241.9 1771.7h0M269.5 1772.6h0M278.5 1773.2h0M237.2 1773.9h0M258.1 1773.7h0M284.4 1775h0M276.8 1775.9h0M236.6 1776.7h0M281.3 1777.2h0M283.9 1777.4h0M221.1 1778.1h0M271.4 1777.7h0M198.2 1778.7h0M267.5 1779h0M174.6 1779.7h0M265.1 1780.2h0M266.8 1779.5h0M282 1780.4h0M237.3 1781.3h0M244.1 1781.3h0M266.6 1781.1h0M184.3 1782h0M236.6 1781.9h0M238.6 1781.7h0M239.2 1782.5h0M213.9 1783.4h0M272.3 1782.9h0M273.2 1783.4h0M281.8 1782.7h0M281.7 1784.1h0M285.4 1784h0M239.4 1785.4h0M254.2 1784.5h0M277.7 1784.7h0M280.3 1784.6h0M282.2 1785.2h0M283 1784.7h0M257.4 1786.2h0M276.4 1785.6h0M226.5 1787.3h0M278.5 1787h0M279.6 1787h0M254.4 1788.4h0M284.7 1787.6h0M197.8 1789.2h0M241.7 1789.4h0M259.4 1789.2h0M276.5 1788.9h0M277.8 1789.1h0M244.5 1790h0M247.4 1790.1h0M164.4 1790.9h0M243.9 1791.4h0M266.7 1790.9h0M216.3 1792.4h0M277 1791.7h0M244.8 1793.9h0M264.4 1793.7h0M283.5 1794h0M285.2 1793.8h0M241.4 1794.8h0M253.9 1795.2h0M261.5 1794.9h0M282.5 1794.8h0M242 1796.4h0M265.6 1796.5h0M269.2 1796.4h0M207.1 1796.6h0M238.3 1797.4h0M282.6 1797.3h0M246.7 1797.7h0M249.5 1797.5h0M251 1798.5h0M275.2 1797.7h0M275.6 1798.4h0M283.8 1797.6h0M246.5 1798.8h0M255.2 1799.1h0M272.5 1799h0M281.5 1799.2h0M227.2 1800.2h0M229.9 1799.7h0M255.9 1799.8h0M258.1 1799.6h0M268.6 1800h0M275 1799.8h0M282.7 1799.7h0M246.2 1801.3h0M257.7 1801.1h0M272.7 1801.2h0M279.1 1801.4h0M283.7 1801.3h0M240.3 1801.6h0M265.2 1802.3h0M271.3 1802.4h0M188.1 1803.3h0M239.7 1802.8h0M269.5 1802.8h0M273.8 1802.8h0M274.9 1802.8h0M212 1803.9h0M267.2 1804.4h0M269.9 1804.4h0M276.3 1804.5h0M277 1804.3h0M283.7 1804.1h0" stroke="#00BA38" stroke-width="3.8" stroke-linecap="round" fill="none"/>
<path d="M317 1792h3M316 1793h5M315 1794h7M315 1795h7M315 1796h7M316 1797h5M317 1798h3" stroke="#F8766D" stroke-width="1.1" fill="none" shape-rendering="crispEdges"/>
<path d="M306.2 1536.8h0M322.2 1540.1h0M306.9 1581.3h0M321.1 1621.4h0M308 1645.8h0M310.8 1651.3h0M308.9 1653.2h0M334.8 1655.4h0M312.9 1662.5h0M318 1681.8h0M331.9 1684.3h0M353.8 1684.2h0M361.3 1694.5h0M427.5 1695h0M307.2 1697h0M354.5 1701h0M306.3 1710.3h0M319.8 1709.6h0M306.3 1712.5h0M328.2 1716.3h0M322.9 1717.3h0M363.2 1717.9h0M315.1 1719.5h0M316.1 1719.6h0M315.1 1722.5h0M319.6 1722h0M338.2 1723.8h0M410 1723.7h0M386.9 1726h0M309.7 1726.9h0M305.8 1728.9h0M308.4 1732.7h0M316.7 1732.6h0M319.7 1734.2h0M341 1734h0M310.3 1736.4h0M312.9 1735.6h0M363.9 1736.5h0M314.1 1737.9h0M306.5 1738.8h0M328.9 1739.8h0M315.4 1740.5h0M368.1 1742.4h0M340.1 1743.2h0M307.5 1743.7h0M318 1744.9h0M311.8 1748.4h0M333.2 1748.2h0M318.1 1750.1h0M366.3 1750.7h0M314.8 1753.4h0M315.5 1753.2h0M337.3 1752.8h0M312.9 1754h0M321.2 1753.7h0M318.2 1755.5h0M328 1755.9h0M342.9 1758h0M378.3 1757.8h0M308.6 1759.3h0M312.5 1758.7h0M329.8 1758.8h0M357.1 1759.3h0M310.9 1759.5h0M330.9 1760.1h0M337.7 1760.4h0M356 1759.5h0M370.6 1761.7h0M390.1 1762.5h0M310.8 1763.7h0M327.9 1764.1h0M320.7 1764.7h0M336.3 1765.5h0M417.4 1765.1h0M312.5 1767.4h0M340.8 1766.9h0M309.6 1768.3h0M307.1 1769.3h0M370 1771h0M375.2 1770.7h0M312.1 1772h0M323.2 1772.4h0M322.6 1773.4h0M310.9 1773.9h0M330.7 1774.4h0M339.7 1774.1h0M322 1774.9h0M363.5 1774.9h0M317.8 1775.7h0M306.7 1776.7h0M308.9 1776.5h0M333 1777h0M325.1 1778.5h0M311.1 1779h0M332 1778.8h0M319.8 1780.8h0M376.4 1781.2h0M308.9 1782h0M309.8 1782.3h0M335.2 1782.1h0M352.1 1781.8h0M364.9 1781.6h0M341.1 1783h0M308.7 1785.2h0M309 1784.7h0M336.4 1784.6h0M309.9 1786.3h0M313 1785.9h0M319.4 1785.9h0M336.9 1785.6h0M359.8 1785.7h0M324.4 1786.9h0M338.7 1787.2h0M321.6 1788.5h0M362.6 1787.7h0M419.4 1787.7h0M421.1 1788.4h0M310 1788.7h0M316.7 1789.3h0M348.2 1789.4h0M309.5 1790.3h0M313.2 1789.8h0M319.3 1790.3h0M323.2 1791.1h0M327.1 1791.1h0M316.3 1791.6h0M318.2 1792.2h0M327.2 1791.9h0M350 1792.3h0M404.9 1791.7h0M336.3 1793h0M344.5 1792.7h0M379.9 1792.7h0M319.2 1794h0M325.4 1793.5h0M330.2 1794h0M338.4 1793.6h0M354.4 1794.2h0M316.4 1795.5h0M320.6 1795.1h0M325.2 1795.4h0M375.4 1794.5h0M316.1 1796.1h0M394.2 1796.2h0M310.6 1797.2h0M312.4 1796.8h0M312.7 1796.6h0M318.9 1796.7h0M326.4 1797h0M359.7 1796.5h0M324.7 1798.2h0M356.5 1798.1h0M306.4 1799.2h0M307.7 1799.3h0M315 1798.9h0M315.9 1798.9h0M319.7 1798.8h0M352.8 1799.3h0M370.7 1799.4h0M387.7 1799.9h0M306 1801.3h0M306.1 1800.8h0M326.5 1801.3h0M356.3 1801h0M320.4 1802.1h0M329 1801.7h0M356.6 1801.7h0M358.7 1802.3h0M312.3 1803.1h0M331 1803.3h0M333.3 1802.7h0M336.3 1802.9h0M378.3 1803.4h0M323.1 1803.8h0M332.4 1803.8h0M365.2 1803.5h0M420.6 1803.6h0" stroke="#F8766D" stroke-width="3.8" stroke-linecap="round" fill="none"/>
<rect x="48.5" y="1494.4" width="414.1" height="474" fill="none" stroke="#d8d8d8" stroke-width="1.2"/>
<path d="M295.5 1494.4V1968.4M48.5 1805.6H462.6" stroke="#2a2a2a" stroke-width="1.5" stroke-dasharray="3.6 2.2 1.2 2.2" fill="none"/>
<path d="M117.5 1968.4v3M206.5 1968.4v3M295.5 1968.4v3M384.5 1968.4v3M48.5 1946.6h-3M48.5 1838.2h-3M48.5 1729.8h-3M48.5 1621.4h-3M48.5 1513h-3" stroke="#444" stroke-width="1" fill="none"/>
<g font-size="9.1" fill="#444">
<text x="117.5" y="1979.8" text-anchor="middle">-5.0</text>
<text x="206.5" y="1979.8" text-anchor="middle">-2.5</text>
<text x="295.5" y="1979.8" text-anchor="middle">0.0</text>
<text x="384.5" y="1979.8" text-anchor="middle">2.5</text>
<text x="43.9" y="1949.9" text-anchor="end">0</text>
<text x="43.9" y="1841.5" text-anchor="end">1</text>
<text x="43.9" y="1733.1" text-anchor="end">2</text>
<text x="43.9" y="1624.7" text-anchor="end">3</text>
<text x="43.9" y="1516.3" text-anchor="end">4</text>
</g>
<text x="249.5" y="1481.9" font-size="42.6" text-anchor="middle">Control vs Aβ</text>
<text x="275" y="2022" font-size="28" text-anchor="middle">log2FoldChange</text>
<text transform="translate(28 1746.3) rotate(-90)" font-size="28" text-anchor="middle">-log10(p value)</text>
<text x="491" y="1671.7" font-size="20" fill="#111">Significant</text>
<rect x="491" y="1686" width="30" height="31" fill="#f3f3f3"/>
<circle cx="506" cy="1701.7" r="3.4" fill="#F8766D"/>
<text x="531.5" y="1708.2" font-size="16" fill="#111">UP</text>
<text x="594" y="1708.9" font-size="17.3" fill="#111">183</text>
<rect x="491" y="1721" width="30" height="31" fill="#f3f3f3"/>
<circle cx="506" cy="1737.2" r="3.4" fill="#00BA38"/>
<text x="531.5" y="1743.7" font-size="16" fill="#111">DOWN</text>
<text x="596" y="1744.4" font-size="17.3" fill="#111">223</text>
<rect x="491" y="1756" width="30" height="31" fill="#f3f3f3"/>
<circle cx="506" cy="1770.2" r="3.4" fill="#619CFF"/>
<text x="531.5" y="1776.7" font-size="16" fill="#111">NO</text>
<text x="587" y="1777.4" font-size="17.3" fill="#111">19561</text>
<path d="M953 1708h3M952 1709h5M951 1710h7M951 1711h7M951 1712h7M951 1713h7M951 1714h7M951 1715h7M951 1716h7M951 1717h7M951 1718h7M951 1719h7M951 1720h7M951 1721h7M951 1722h7M951 1723h7M951 1724h7M951 1725h7M951 1726h8M951 1727h8M951 1728h8M951 1729h8M951 1730h8M951 1731h8M951 1732h8M950 1733h9M950 1734h9M950 1735h9M950 1736h9M950 1737h9M950 1738h9M950 1739h9M950 1740h9M950 1741h9M950 1742h9M950 1743h9M950 1744h9M950 1745h9M950 1746h9M950 1747h9M950 1748h9M950 1749h9M950 1750h9M951 1751h9M950 1752h10M950 1753h10M950 1754h10M950 1755h10M950 1756h10M949 1757h11M949 1758h11M949 1759h11M950 1760h10M950 1761h10M950 1762h10M950 1763h10M949 1764h11M949 1765h11M949 1766h11M949 1767h11M949 1768h11M949 1769h11M949 1770h11M949 1771h11M950 1772h10M949 1773h11M949 1774h11M949 1775h11M949 1776h12M949 1777h12M950 1778h11M949 1779h11M949 1780h12M949 1781h12M949 1782h12M949 1783h12M949 1784h12M949 1785h12M948 1786h13M948 1787h13M948 1788h13M949 1789h12M949 1790h11M949 1791h11M949 1792h12M949 1793h12M949 1794h12M949 1795h12M949 1796h12M949 1797h12M949 1798h11M949 1799h11M949 1800h11M949 1801h11M949 1802h11M949 1803h11M949 1804h12M949 1805h12M949 1806h12M949 1807h11M949 1808h12M949 1809h12M949 1810h12M949 1811h12M949 1812h12M949 1813h12M949 1814h12M949 1815h12M949 1816h12M949 1817h12M949 1818h12M949 1819h12M948 1820h13M948 1821h13M948 1822h12M948 1823h12M949 1824h12M948 1825h13M948 1826h13M948 1827h12M949 1828h11M949 1829h11M949 1830h11M948 1831h12M948 1832h12M948 1833h12M938 1834h3M949 1834h12M937 1835h24M936 1836h25M936 1837h25M906 1838h3M910 1838h4M936 1838h26M989 1838h3M905 1839h10M935 1839h27M988 1839h5M999 1839h3M904 1840h12M934 1840h28M987 1840h7M997 1840h6M903 1841h13M933 1841h30M987 1841h8M996 1841h9M903 1842h13M932 1842h32M987 1842h19M903 1843h13M932 1843h32M987 1843h20M904 1844h12M932 1844h34M988 1844h19M905 1845h3M910 1845h5M931 1845h37M989 1845h18M911 1846h3M930 1846h39M991 1846h16M929 1847h41M992 1847h15M904 1848h5M929 1848h41M992 1848h16M903 1849h7M929 1849h42M993 1849h16M902 1850h9M927 1850h45M994 1850h16M902 1851h9M926 1851h46M990 1851h3M995 1851h7M1003 1851h7M902 1852h11M925 1852h47M989 1852h5M995 1852h15M902 1853h12M925 1853h46M988 1853h7M996 1853h14M902 1854h13M925 1854h46M987 1854h8M997 1854h12M902 1855h13M926 1855h46M986 1855h9M1000 1855h8M903 1856h12M926 1856h47M986 1856h8M1000 1856h7M904 1857h11M925 1857h49M986 1857h7M994 1857h4M1000 1857h7M904 1858h10M924 1858h50M987 1858h5M993 1858h6M1001 1858h5M905 1859h10M924 1859h52M988 1859h3M992 1859h8M1002 1859h3M905 1860h11M924 1860h53M992 1860h8M905 1861h11M924 1861h54M992 1861h8M905 1862h11M922 1862h57M992 1862h9M905 1863h11M921 1863h58M989 1863h3M993 1863h9M905 1864h10M920 1864h59M988 1864h5M994 1864h8M902 1865h12M919 1865h60M987 1865h15M1007 1865h3M901 1866h12M919 1866h61M986 1866h15M1006 1866h5M900 1867h14M919 1867h62M986 1867h14M1005 1867h7M900 1868h14M919 1868h63M986 1868h9M996 1868h3M1004 1868h8M900 1869h14M917 1869h66M986 1869h8M1004 1869h8M901 1870h12M915 1870h69M986 1870h8M1004 1870h7M902 1871h3M906 1871h6M914 1871h71M987 1871h7M997 1871h3M1004 1871h8M913 1872h73M987 1872h7M996 1872h5M1004 1872h9M912 1873h74M987 1873h7M995 1873h7M1004 1873h9M911 1874h76M988 1874h5M994 1874h8M1005 1874h8M911 1875h81M993 1875h9M1006 1875h6M910 1876h81M993 1876h9M1008 1876h3M910 1877h82M993 1877h8M909 1878h83M994 1878h6M908 1879h85M995 1879h3M907 1880h87M906 1881h88M906 1882h88M901 1883h3M906 1883h87M900 1884h5M906 1884h86M899 1885h7M907 1885h86M899 1886h94M1003 1886h6M898 1887h95M1002 1887h8M897 1888h95M1001 1888h10M895 1889h96M1001 1889h10M894 1890h14M909 1890h83M1001 1890h11M893 1891h15M909 1891h84M1001 1891h11M892 1892h16M909 1892h84M1002 1892h10M891 1893h16M910 1893h83M1003 1893h8M891 1894h15M911 1894h82M1007 1894h3M891 1895h10M911 1895h81M892 1896h9M911 1896h80M892 1897h9M911 1897h80M893 1898h7M910 1898h81M894 1899h5M910 1899h81M910 1900h81M910 1901h82M910 1902h83M905 1903h5M911 1903h82M904 1904h7M912 1904h81M903 1905h89M886 1906h3M902 1906h89M885 1907h5M901 1907h93M884 1908h7M900 1908h96M884 1909h7M900 1909h97M884 1910h7M900 1910h7M908 1910h90M885 1911h5M900 1911h98M886 1912h3M901 1912h97M902 1913h96M905 1914h92M905 1915h91M906 1916h88M907 1917h88M910 1918h86M909 1919h87M908 1920h88M907 1921h89M907 1922h89M907 1923h89M907 1924h88M907 1925h87M908 1926h85M909 1927h81M911 1928h79M912 1929h77M913 1930h75M914 1931h74M914 1932h74M915 1933h72M916 1934h70M917 1935h68M918 1936h66M919 1937h64M923 1938h57M924 1939h55M925 1940h50M927 1941h47M930 1942h41M932 1943h38M933 1944h35M934 1945h32M935 1946h28M939 1947h23M940 1948h20M941 1949h18M944 1950h11M945 1951h8M948 1952h3" stroke="#619CFF" stroke-width="1.1" fill="none" shape-rendering="crispEdges"/>
<path d="M954.4 1560.8h0M958.4 1571.6h0M956 1608.3h0M958.2 1663.1h0M951.9 1678h0M957.3 1685.3h0M953.5 1688.9h0M953.4 1690.4h0M953.7 1690.5h0M953.5 1691.2h0M953 1691.9h0M953.8 1692.4h0M953 1694h0M953.5 1695h0M954.2 1695.3h0M953.6 1696.6h0M953.8 1696.8h0M952.5 1698.5h0M952.9 1698.2h0M954.2 1697.9h0M953.7 1698.6h0M952.9 1701.1h0M954.5 1700.8h0M952.6 1701.8h0M954.8 1701.9h0M952.9 1703.4h0M954 1702.7h0M954.7 1703.8h0M952.7 1706.5h0M953.8 1706.1h0M955.2 1707.5h0M954.2 1707.5h0M954.9 1708.5h0M954.6 1709.4h0M955.4 1708.6h0M951.5 1710.4h0M953 1709.6h0M955.4 1710.4h0M956.9 1710.3h0M952.3 1710.7h0M952.4 1712.5h0M952.2 1712.8h0M952.3 1713.4h0M955.8 1713.9h0M952.4 1715.1h0M955.5 1714.8h0M955.5 1716.3h0M952.4 1717.1h0M956 1718.3h0M951.6 1719.3h0M956 1719.1h0M956.4 1719h0M951.9 1720.6h0M955.7 1721.3h0M956.1 1720.9h0M956.3 1720.7h0M952.1 1722.1h0M951.8 1723.2h0M952.4 1723.2h0M955.9 1723h0M952.1 1724.1h0M955.7 1724.2h0M952.4 1725h0M951.7 1726.1h0M955.9 1726.3h0M956.7 1726.6h0M952.3 1728.2h0M956.6 1728.5h0M951.9 1729.8h0M956.8 1730h0M952.4 1731.8h0M956.7 1732.4h0M951.5 1732.8h0M946.6 1734.2h0M951.4 1734.3h0M957 1735h0M951.4 1736.9h0M956.6 1738.2h0M951.4 1739.1h0M957 1740.5h0M941.4 1741h0M951.4 1740.6h0M956.8 1741.4h0M951 1742.4h0M938.7 1742.8h0M957.1 1743.2h0M951.4 1744.3h0M951.3 1745.9h0M957.3 1745.7h0M951.3 1747.5h0M957.1 1746.6h0M939.7 1747.8h0M950.8 1748.7h0M957 1749.6h0M952.1 1750.8h0M956.9 1750.5h0M957.7 1752.5h0M951 1752.9h0M951 1753.3h0M950.9 1753.8h0M957.6 1753.6h0M951.1 1755.7h0M951.4 1755.6h0M957.5 1756.1h0M957.7 1756.6h0M950.4 1757.9h0M957.6 1758.2h0M957.8 1758.3h0M950.9 1758.6h0M950.7 1760h0M957.7 1760.1h0M937.8 1761.7h0M950.8 1761.6h0M957.8 1761.8h0M957.9 1763.1h0M938.4 1764.3h0M951.4 1764.3h0M957.6 1763.6h0M950.4 1765.5h0M950.3 1766.3h0M958.1 1766h0M950.5 1767.8h0M957.5 1767.8h0M958.2 1767.8h0M958 1769.4h0M950.3 1769.7h0M950.3 1770.3h0M951.5 1771h0M957.7 1771.2h0M951.4 1772.1h0M957.6 1771.9h0M957.9 1771.7h0M950.4 1774.2h0M957.6 1773.8h0M957.8 1773.8h0M958.3 1775h0M950.9 1776.7h0M945.9 1777.9h0M951.4 1778.2h0M957.5 1777.6h0M957.8 1777.9h0M950.7 1778.6h0M958.3 1779.3h0M945.1 1780.4h0M950.2 1779.7h0M957.9 1779.6h0M944.5 1781.4h0M950.2 1781.2h0M950.1 1782.4h0M950 1784.3h0M950.2 1785.5h0M958.6 1784.8h0M948.4 1786.5h0M945.5 1788.3h0M950.1 1788.9h0M958.3 1788.6h0M958 1790.2h0M950.4 1791.2h0M958 1790.6h0M958.3 1792h0M949.9 1792.7h0M950.1 1793.3h0M958.5 1793.1h0M935.8 1793.9h0M958.5 1794.3h0M950.5 1794.5h0M950.5 1796.2h0M958.5 1795.9h0M950.4 1797.7h0M958 1798.7h0M957.5 1800.3h0M950.2 1801h0M957.7 1801.2h0M950.3 1803.1h0M958.4 1803.3h0M949.7 1804.4h0M957.6 1803.7h0M950.2 1805.1h0M958.6 1805.1h0M950 1806.5h0M958.2 1806.5h0M957.7 1808h0M936 1809.4h0M950.4 1808.6h0M958.7 1808.9h0M935.9 1811.2h0M949.6 1811.3h0M958.7 1810.7h0M958.7 1811.5h0M949.9 1811.7h0M949.7 1813.9h0M958.7 1813.6h0M950.3 1815.1h0M949.8 1816.1h0M958.6 1816.4h0M950.2 1817.4h0M938.7 1819h0M950 1819.4h0M958.6 1819.4h0M950.4 1819.7h0M958.7 1820.4h0M945.8 1821.2h0M948 1821.2h0M949.5 1822.2h0M937.8 1823.4h0M949.9 1823h0M958.4 1823.3h0M936.6 1823.7h0M958.4 1823.9h0M950.1 1825.1h0M958.8 1825.2h0M946.8 1825.5h0M947.9 1825.7h0M939.9 1827.1h0M957.6 1827.1h0M949.5 1828.4h0M950.2 1827.6h0M944.4 1828.6h0M944.6 1828.9h0M950.5 1829h0M958.3 1829.3h0M937.7 1830.5h0M958.3 1830.4h0M950.2 1831.2h0M949.4 1831.8h0M957.5 1832.4h0M939.5 1832.5h0M950.3 1832.9h0M957.7 1832.6h0M958.3 1833.3h0M938.1 1833.6h0M939.3 1835.4h0M949.5 1834.6h0M950.3 1835h0M958.6 1834.6h0M941.4 1835.9h0M942.3 1835.8h0M945.4 1836.2h0M946 1836.2h0M949.3 1836.4h0M875.1 1837.5h0M878.5 1836.8h0M902.1 1836.9h0M907 1837h0M911.4 1837.3h0M920.9 1836.8h0M932.6 1837h0M936.5 1837.5h0M958.6 1836.9h0M977.4 1836.9h0M982.4 1837.1h0M996.7 1837.1h0M1000.3 1836.8h0M1014.4 1837.4h0M1017.5 1837.3h0M1038.4 1837.2h0M845.3 1838h0M882.8 1838h0M896 1837.5h0M898.4 1837.8h0M899.6 1837.9h0M906.6 1838.1h0M907.2 1838.5h0M910.9 1837.9h0M919 1837.9h0M928 1837.5h0M928.7 1838.5h0M964.4 1837.7h0M970.7 1837.7h0M985.4 1837.7h0M987.2 1838.1h0M1008.5 1838.2h0M1024.5 1837.7h0M1046.8 1837.7h0M1065.8 1837.7h0M1070.4 1838.3h0M843.2 1839h0M892.1 1839.1h0M912.7 1839.3h0M914.2 1838.6h0M936.6 1839h0M959.8 1838.8h0M972.5 1839.1h0M974.6 1839.1h0M989.7 1839.4h0M996.4 1838.8h0M999.5 1838.9h0M1001.1 1838.9h0M1007.7 1839.1h0M1027 1838.6h0M1047.4 1839h0M873.3 1840.1h0M885.5 1840.1h0M897.6 1840.5h0M905 1840.5h0M906.2 1839.6h0M907.8 1839.5h0M909.6 1839.8h0M934.3 1839.7h0M935.6 1840h0M936.4 1839.8h0M959.5 1839.6h0M987.6 1840.3h0M989.4 1839.8h0M992.6 1839.8h0M1011.5 1839.9h0M1012.4 1839.9h0M1014.9 1839.9h0M1039.3 1839.7h0M1072.6 1840.5h0M771.9 1840.7h0M822.2 1840.8h0M833.6 1840.7h0M838.8 1841.4h0M855.2 1841.2h0M869.4 1840.5h0M886.6 1841.4h0M890.7 1841.1h0M896.6 1841h0M901.4 1841.3h0M913.6 1841.1h0M913.7 1840.6h0M925.1 1840.7h0M934.5 1841h0M935.2 1841.1h0M959.7 1841h0M964.3 1840.7h0M966.8 1841.1h0M967.5 1840.7h0M988.3 1841.5h0M991.6 1841.2h0M992.9 1841.3h0M1015.7 1841h0M846.8 1842.2h0M875.4 1842h0M887.8 1842h0M891.1 1842.2h0M898.8 1842.5h0M902.7 1841.6h0M933.7 1842.4h0M960.5 1842.5h0M997.2 1841.7h0M1003 1841.6h0M1004.9 1841.6h0M1012.3 1842.5h0M1025.8 1842h0M1035.9 1842h0M1053.2 1841.5h0M858 1843.5h0M874.2 1843h0M881.6 1843.1h0M892.8 1843.5h0M901.9 1842.5h0M909.4 1842.7h0M913.8 1842.9h0M927.9 1843.2h0M928.4 1842.6h0M933.3 1843.4h0M961.6 1843h0M962.5 1843.4h0M987 1843.3h0M995.8 1842.8h0M1006.3 1843.4h0M1010 1842.7h0M1017.5 1842.7h0M1025 1842.8h0M1049.7 1842.8h0M807.1 1843.6h0M838.5 1844.5h0M859.4 1844.2h0M873.8 1844.1h0M883.1 1844h0M886.7 1844.3h0M891 1843.7h0M896.2 1844.4h0M906 1844.4h0M988.6 1843.9h0M989.8 1844.4h0M1021.6 1843.5h0M1031.1 1844.3h0M1071.7 1844.3h0M1094.5 1843.6h0M855 1845.1h0M863.3 1844.7h0M870 1845.4h0M871.7 1844.6h0M872.5 1845h0M877.6 1845.4h0M896.5 1844.9h0M903.4 1844.5h0M904.4 1845.1h0M910.6 1844.9h0M913.9 1844.7h0M963 1845h0M969.5 1845h0M974.8 1844.5h0M991.9 1845h0M1004.7 1844.7h0M1037.7 1845.2h0M1086.6 1845.2h0M1091.5 1845.1h0M865.3 1845.9h0M879.3 1845.6h0M881.4 1846.1h0M884.1 1845.7h0M892.2 1846.4h0M898.6 1846h0M903.9 1845.7h0M921.8 1846.1h0M930.4 1846h0M930.6 1845.7h0M932.1 1846.1h0M932.3 1846h0M966.4 1845.5h0M968.7 1846.1h0M977.9 1846.5h0M992.5 1846.1h0M992.5 1845.6h0M1011.3 1845.8h0M1015.2 1846.3h0M1032.6 1846.1h0M1060.4 1845.8h0M792.5 1847.5h0M830.5 1846.7h0M877.1 1847h0M884.2 1847.1h0M894.8 1846.7h0M896.6 1846.9h0M897.9 1847h0M900.4 1846.7h0M908.6 1847h0M910 1847.1h0M912.9 1846.8h0M915.6 1847h0M918.1 1846.7h0M923.5 1847.2h0M927.7 1847h0M928.9 1847.2h0M967.4 1846.6h0M973.2 1847.2h0M986.9 1847.4h0M1011.6 1847h0M1012 1847.5h0M1019.2 1846.8h0M1041.1 1847.1h0M788.2 1847.8h0M806.7 1848.3h0M880.5 1847.9h0M885.5 1848.5h0M894.4 1848.1h0M907.8 1848h0M910.3 1847.6h0M913.5 1848.4h0M968.2 1848h0M987.1 1847.5h0M1005.2 1848.2h0M1014.2 1847.7h0M1016.5 1848.2h0M1026 1847.9h0M1049.8 1847.6h0M1059.6 1847.6h0M1078.5 1847.8h0M824.6 1849.1h0M837.3 1849.5h0M855.9 1849.3h0M880.7 1848.9h0M883.1 1849.3h0M885 1848.7h0M890.9 1849.3h0M892 1848.7h0M895.6 1848.5h0M904.5 1849.4h0M910.8 1849.1h0M918.7 1849.4h0M930.3 1849.3h0M983.5 1849.1h0M990.4 1849h0M991.3 1849.4h0M993.3 1848.5h0M1001.9 1849.2h0M1007.2 1848.9h0M1017 1849.1h0M1044.5 1849.4h0M1073.9 1848.8h0M1075.3 1849.1h0M846.2 1850.2h0M870.2 1850.4h0M873.1 1850.5h0M887.3 1850h0M894.8 1850h0M902 1849.8h0M902.4 1850.3h0M909 1849.9h0M969.8 1849.7h0M973.5 1849.9h0M987.9 1849.9h0M996.2 1850.3h0M1004.2 1850h0M1047.6 1850.5h0M1063.6 1850.5h0M1066.4 1850.3h0M748.4 1850.9h0M790.2 1851.5h0M843.4 1851.1h0M858.1 1851.4h0M860.5 1851h0M874.1 1851.5h0M887.5 1851.3h0M897.8 1851h0M899.3 1851.4h0M899.6 1851h0M900.8 1850.8h0M924.2 1851.1h0M926.9 1850.7h0M927.3 1850.6h0M970.5 1850.7h0M976.7 1850.8h0M983.8 1850.7h0M990.3 1851h0M990.9 1851.4h0M999.8 1850.6h0M1008.1 1851.2h0M1012.6 1850.5h0M1017 1850.6h0M828.8 1852.4h0M859.3 1852.5h0M887.3 1852.2h0M894.6 1852.2h0M902.6 1852.4h0M913.3 1852.3h0M914 1851.5h0M918.1 1852.3h0M924.3 1851.8h0M1021.7 1851.7h0M1025.5 1851.8h0M1030.3 1851.7h0M848.8 1853.3h0M852.2 1853h0M874.1 1852.8h0M892.2 1852.6h0M893.6 1852.7h0M894.4 1853h0M910.6 1853.3h0M915.5 1852.6h0M926.3 1852.7h0M974.7 1852.9h0M981.6 1852.6h0M991.6 1853.2h0M995.8 1853.3h0M998.4 1852.9h0M1000.4 1853.4h0M1003.3 1852.7h0M1009.3 1853.2h0M1024.6 1853.2h0M1059.5 1852.7h0M1064.1 1852.6h0M776.2 1853.9h0M870.6 1854.1h0M882.4 1854.4h0M887 1853.9h0M913.6 1853.6h0M921.7 1853.5h0M989 1853.6h0M993.1 1853.6h0M1006 1854.3h0M1015.1 1854.1h0M1088.1 1853.9h0M1126.2 1853.6h0M796 1855.4h0M811.2 1854.9h0M831.2 1855.4h0M877.2 1855.3h0M895 1854.8h0M901.7 1855.3h0M912.8 1855.4h0M918.1 1854.8h0M921.1 1855.5h0M926.7 1855.3h0M927.4 1854.8h0M968.7 1855h0M986.8 1855h0M987.3 1854.6h0M992.3 1855.5h0M1000.6 1854.6h0M1022.9 1855.4h0M1025.2 1854.6h0M1031 1855.2h0M1051.6 1854.6h0M1059.9 1855h0M820.9 1856.4h0M843.6 1856.2h0M858.6 1855.6h0M870.7 1855.6h0M877 1855.6h0M883.9 1856.2h0M896.2 1856.4h0M969.6 1855.6h0M987.3 1856h0M991.1 1855.9h0M1000.6 1855.6h0M1011.4 1856.2h0M1013.2 1856.4h0M1022.1 1855.8h0M1027.4 1856.4h0M1047.1 1856.3h0M1064.3 1855.8h0M817.1 1857.2h0M856.4 1856.6h0M859.3 1856.9h0M882.2 1857h0M885.2 1857h0M890.3 1856.9h0M890.7 1856.6h0M898.2 1856.6h0M905.1 1857h0M912.2 1856.8h0M920.5 1857.2h0M970.8 1857h0M991.4 1857.4h0M994.9 1857.2h0M999.3 1857h0M1001.9 1856.7h0M1004.8 1857.3h0M1010.7 1857.4h0M1024.2 1856.5h0M1047.3 1857.1h0M1074.4 1856.9h0M1077.2 1857.1h0M775.4 1858.1h0M854.8 1857.6h0M858.5 1858.1h0M871.5 1857.7h0M883.3 1858.3h0M890.5 1858.2h0M925.7 1857.7h0M925.7 1857.7h0M925.9 1858.2h0M972.1 1858.4h0M972.4 1857.8h0M988.6 1857.8h0M989.8 1858.4h0M996.1 1858.3h0M998.6 1858h0M1014.8 1858.2h0M1036.8 1858.1h0M1039.4 1858.5h0M825.4 1858.7h0M859.8 1859.4h0M860.6 1859.3h0M872.6 1859.2h0M877.7 1859.3h0M881.7 1858.7h0M901.1 1859h0M911.5 1859.3h0M921.8 1859.3h0M925.4 1858.7h0M988 1858.9h0M988.9 1858.6h0M992.8 1859.4h0M1002.7 1858.7h0M1018.1 1859.5h0M1023.3 1859.3h0M1042.9 1859h0M1045.1 1858.7h0M805.4 1859.9h0M877.6 1860.2h0M883.9 1860.2h0M892 1859.6h0M906.5 1859.5h0M912.6 1860.3h0M925.4 1860.5h0M972.8 1860.1h0M973.7 1860.4h0M979.4 1860.3h0M987.5 1859.7h0M988.2 1859.6h0M998.1 1859.8h0M1002.8 1860.1h0M1011.9 1859.8h0M1027.8 1860h0M880.3 1861h0M900.2 1860.9h0M913.9 1861h0M1003.6 1860.8h0M1039.9 1861.2h0M811 1862h0M858.6 1862.4h0M859.7 1862.5h0M893.7 1862.3h0M895.5 1862.1h0M897.7 1861.7h0M924.8 1862.1h0M977.2 1861.6h0M991.4 1861.6h0M994.4 1862.5h0M997.6 1861.5h0M1017.2 1861.5h0M1023.3 1862.2h0M834.3 1862.8h0M881.1 1863.5h0M883.8 1863.5h0M890.6 1863.1h0M905.5 1862.6h0M912.7 1863.1h0M923.6 1863.2h0M989.4 1862.5h0M991.2 1862.8h0M1000.2 1862.7h0M1047.6 1863.4h0M1054.3 1863.1h0M1068.8 1863.4h0M817.5 1863.7h0M843.2 1864.3h0M853.7 1864h0M858.6 1864.2h0M859.9 1863.8h0M913.2 1864.1h0M913.8 1864.4h0M921.6 1864.5h0M983.6 1863.8h0M989.3 1864h0M990.2 1864h0M1013.3 1864.2h0M1018.2 1863.9h0M1033.6 1864.5h0M1035.8 1863.5h0M1064.4 1863.7h0M1067.2 1864.4h0M791 1865h0M863.8 1865.2h0M871.6 1865h0M877.7 1865h0M890.1 1864.9h0M893.4 1865.3h0M897.7 1865.4h0M910.7 1865.4h0M921.2 1865.1h0M976.5 1865.3h0M995.2 1865h0M999.5 1865.1h0M999.8 1864.5h0M1002.1 1865.3h0M1002.3 1864.6h0M1003.9 1865.3h0M1008.8 1865.4h0M1024.8 1864.9h0M1029.8 1864.9h0M833.4 1865.9h0M835.3 1866.1h0M853.6 1866.4h0M855.8 1865.8h0M867.5 1865.9h0M868.9 1866.2h0M886.5 1865.9h0M898.4 1865.7h0M902.5 1866.4h0M902.8 1865.6h0M904 1865.7h0M981 1866.4h0M987.4 1866.5h0M992.1 1866.1h0M1007.6 1865.9h0M1012.8 1865.6h0M1027.6 1865.7h0M1034.5 1865.5h0M838 1866.8h0M856.9 1867h0M862.7 1866.9h0M880.7 1866.9h0M901.4 1867.2h0M920.3 1867.4h0M920.4 1866.8h0M978.1 1866.7h0M979.9 1866.5h0M995 1867.4h0M997 1866.5h0M997.4 1867.3h0M1005.7 1867h0M1011 1866.6h0M1014.1 1867.3h0M1022.9 1867h0M1027 1866.8h0M1036.5 1867.1h0M1084.5 1866.9h0M785.1 1868.3h0M827.2 1867.7h0M853.1 1867.9h0M875.4 1867.7h0M883.7 1868.4h0M885.5 1868.3h0M886 1868.3h0M887.8 1867.9h0M897.4 1867.8h0M900.5 1868.5h0M911.7 1867.7h0M914 1868.2h0M978.5 1868h0M986.7 1868.3h0M987 1868h0M1010.4 1867.8h0M1016.9 1867.6h0M1019.4 1867.8h0M1057.6 1868.3h0M832.1 1868.5h0M850.9 1869h0M879.9 1868.8h0M880.8 1868.9h0M905.9 1868.8h0M912 1869.2h0M920.4 1869.2h0M920.5 1868.6h0M1003.3 1869.1h0M1018.4 1869.4h0M1019.8 1868.7h0M1026.5 1869.4h0M1033.5 1869.4h0M776.5 1870.3h0M804 1869.7h0M856.2 1870.1h0M864.7 1870.1h0M875.3 1869.7h0M888.5 1870.1h0M894.2 1870.3h0M902.9 1870h0M903.3 1869.9h0M906.6 1870.4h0M909.7 1870h0M913.5 1870.2h0M918.4 1870h0M919 1869.7h0M919.3 1870.4h0M980.6 1869.6h0M980.8 1870.3h0M988.2 1869.8h0M991.6 1869.6h0M1004.5 1870.3h0M1009.1 1869.6h0M1053.9 1869.7h0M1056.4 1869.7h0M1076 1869.9h0M1087.2 1870.1h0M828.9 1870.9h0M857.1 1870.9h0M874.4 1871h0M878.4 1871.4h0M893 1870.8h0M915.5 1871.1h0M916.9 1870.8h0M982.7 1871.4h0M987.7 1870.8h0M1035.5 1871.3h0M1036.8 1870.7h0M1038.8 1871.4h0M789.4 1872.2h0M853.7 1872.2h0M867.2 1872h0M879.4 1872.3h0M887.4 1871.8h0M889.4 1872.3h0M893.7 1872h0M988.1 1872.4h0M991.7 1871.6h0M997.8 1872h0M999.8 1871.9h0M1012.1 1872.2h0M1015.8 1871.8h0M1020.6 1871.6h0M1059.5 1871.8h0M846.8 1872.6h0M855.5 1872.6h0M859 1873.2h0M861.2 1872.8h0M863.8 1872.5h0M865.4 1872.7h0M869.7 1873.5h0M877.7 1873h0M879.6 1873.3h0M882.7 1873.2h0M885.8 1873.1h0M898.7 1872.8h0M914 1873.3h0M983.6 1873.5h0M991.3 1873.4h0M996.9 1873.1h0M1000.3 1873.3h0M1002.8 1872.6h0M1005 1872.9h0M1025.4 1872.7h0M1054.4 1873.3h0M816.9 1873.7h0M834.9 1873.7h0M835.4 1873.9h0M872.2 1873.6h0M876.9 1874.5h0M888.8 1873.8h0M898.8 1874.5h0M904.4 1873.6h0M911.8 1873.7h0M983.5 1874.2h0M988.9 1873.6h0M996 1873.5h0M1006.2 1874h0M1012.2 1873.6h0M1030.7 1874h0M1039.7 1873.7h0M1042.8 1874.4h0M1049 1874.2h0M863 1875.5h0M863.2 1875.3h0M871.8 1875.3h0M884.6 1875.4h0M886.1 1875.2h0M887.1 1875.5h0M891.1 1875.4h0M892.9 1875h0M893.8 1874.5h0M896.6 1875.5h0M897.7 1874.5h0M903.8 1874.5h0M905.1 1874.9h0M906.6 1875.1h0M911.6 1874.9h0M984.7 1875.4h0M988.9 1874.6h0M990.7 1875h0M992.3 1874.8h0M993.3 1875.5h0M1000.4 1875.2h0M1003.5 1874.7h0M1004.6 1874.7h0M1008.9 1874.7h0M1011.9 1874.5h0M1016.9 1875.3h0M1059.5 1875.1h0M1076.2 1874.9h0M806.3 1876h0M850.7 1875.6h0M880.5 1876.4h0M883.3 1876.1h0M889.4 1876.4h0M902.3 1875.6h0M904.5 1876h0M987.5 1875.9h0M989.4 1876.5h0M1000 1876.1h0M1010.6 1875.7h0M1025 1875.5h0M1037.9 1876.3h0M1044.3 1875.9h0M1070.6 1876.4h0M1075.1 1876.1h0M834.9 1876.5h0M836.4 1877.1h0M890.7 1877.5h0M903.5 1877.1h0M906.3 1876.9h0M906.9 1876.6h0M910.7 1876.9h0M990.2 1877.3h0M994.1 1877.5h0M997.6 1876.6h0M1018.7 1876.9h0M1021.7 1876.9h0M1033.8 1876.5h0M825.6 1877.9h0M874.2 1878.5h0M891.9 1877.6h0M900.6 1877.7h0M995.9 1877.7h0M1019.9 1878.2h0M1020.8 1878.2h0M1022.4 1878h0M863.7 1879.5h0M864.4 1879h0M864.6 1879.4h0M868.8 1879.2h0M875.4 1878.6h0M887.1 1878.9h0M891.4 1878.8h0M896.9 1878.9h0M899.8 1879.5h0M902.6 1879.1h0M909 1878.9h0M910.2 1878.7h0M990.4 1879h0M994.3 1879h0M854.1 1880.4h0M877.7 1879.6h0M881.6 1880.2h0M887.7 1879.7h0M889.6 1879.7h0M898.5 1880h0M908.2 1880.4h0M909.1 1879.8h0M1003.6 1879.6h0M1004.7 1879.8h0M1010.2 1880.5h0M1023.7 1880.3h0M793.5 1880.9h0M820.7 1881h0M860.5 1881.2h0M877.8 1881.3h0M882.6 1881.3h0M885 1880.7h0M890 1880.6h0M898.2 1881.3h0M992.8 1880.6h0M996.2 1880.6h0M999.7 1881.4h0M1005.3 1880.8h0M1010.4 1880.6h0M1012.7 1881h0M1013.9 1881.2h0M1023.1 1881.2h0M1051.3 1880.8h0M1085.6 1881.2h0M820.7 1882.1h0M850 1882.3h0M869.6 1881.5h0M878.1 1881.6h0M892.4 1881.9h0M893.6 1882.4h0M896.1 1882.5h0M897.6 1881.9h0M905.2 1882.1h0M990.7 1882.5h0M994.3 1882.5h0M998.4 1881.7h0M1003 1882h0M1045.4 1881.8h0M1055.7 1882h0M1067.9 1881.5h0M792.1 1883.5h0M861.2 1883h0M866.5 1882.9h0M871 1882.9h0M889.2 1882.7h0M893.8 1882.5h0M900.1 1883.4h0M905.9 1883.2h0M989.7 1883.4h0M996.6 1883.1h0M1000.3 1882.7h0M1002.1 1883.3h0M1002.2 1882.9h0M1009 1883.1h0M1012.7 1883.3h0M1084.7 1882.7h0M849.9 1883.6h0M857.1 1883.9h0M885.1 1883.9h0M886 1883.9h0M901.5 1883.6h0M903.6 1884.1h0M908.3 1883.6h0M995.4 1883.6h0M997.4 1884.3h0M1012.1 1884.1h0M1014.8 1883.8h0M1020.3 1883.8h0M1029 1883.8h0M1039.2 1883.8h0M1061.6 1883.8h0M1075.4 1884.1h0M818.1 1884.9h0M834.7 1884.8h0M864.1 1885.2h0M873.1 1885h0M877.6 1885.5h0M885.4 1885.1h0M899.8 1885.3h0M903 1885.4h0M903.7 1885.1h0M998.2 1885.3h0M1011.7 1884.7h0M1027.7 1884.5h0M1041.8 1885h0M782.1 1885.9h0M791.7 1885.6h0M851.9 1886.2h0M873.9 1885.8h0M880.1 1886.2h0M886 1885.9h0M890.3 1886h0M892.4 1886h0M900.5 1886.1h0M908.1 1886.2h0M992.6 1885.6h0M992.7 1886.4h0M1037.6 1886.2h0M838.2 1887.2h0M845.4 1886.8h0M850.5 1887.1h0M882.9 1887.4h0M905.5 1887.1h0M990.9 1886.9h0M997.5 1887h0M1003.1 1887.3h0M1006.5 1887h0M1007 1886.5h0M1015.8 1887.3h0M1025 1886.7h0M1061.5 1887.3h0M842.3 1888h0M883.5 1887.7h0M899 1887.8h0M908.2 1888.1h0M988.7 1888.4h0M995.1 1887.8h0M996.9 1887.8h0M997.9 1887.9h0M999.2 1887.6h0M1008.2 1888.4h0M1030.5 1888.1h0M1037.5 1888.5h0M1058.1 1887.7h0M786.7 1888.9h0M834.4 1889.3h0M859.2 1889.4h0M868.1 1889.4h0M871.4 1888.9h0M871.5 1888.6h0M882.5 1889.4h0M884.8 1889h0M888.1 1888.9h0M890.3 1889.3h0M891.7 1889.4h0M893 1889.4h0M997.2 1889.3h0M998.5 1888.8h0M1000.1 1888.7h0M1001.3 1889.2h0M1002.1 1889.3h0M1028.6 1889.2h0M1053.5 1889.4h0M1087.4 1889.3h0M838.3 1890.5h0M861.5 1889.8h0M885.5 1890.5h0M886.9 1889.7h0M896.4 1889.7h0M905.9 1890.3h0M995.4 1889.6h0M1013.8 1890.1h0M1014 1889.7h0M1046.8 1889.6h0M1073.3 1889.9h0M843.4 1890.7h0M863.9 1891.1h0M868 1891.2h0M876.7 1891.3h0M881.6 1890.7h0M886.7 1891h0M887.9 1890.7h0M894.4 1890.9h0M910.4 1890.8h0M990.3 1891.2h0M994.1 1891.4h0M997.6 1891.4h0M1010 1890.5h0M1032.5 1891.4h0M843.9 1892.2h0M859.4 1891.7h0M874.9 1891.8h0M905.5 1891.7h0M909.3 1891.8h0M991.2 1892.2h0M1001.8 1891.6h0M1004.4 1891.7h0M1007.3 1891.6h0M1028.5 1892.2h0M1081.8 1892.3h0M872.7 1892.9h0M874.5 1893.3h0M891.1 1893.1h0M900.5 1892.8h0M903.2 1893.1h0M994.2 1893.3h0M1000.8 1893.5h0M1009.9 1892.8h0M1023.3 1892.6h0M1088.4 1892.8h0M847.1 1893.7h0M863.2 1894.5h0M865.4 1893.6h0M866.7 1893.6h0M868.3 1893.7h0M885.7 1893.6h0M904.2 1894.3h0M990.9 1894.3h0M995.6 1894.2h0M998 1894h0M1000.9 1894.1h0M1012.1 1893.9h0M1016.2 1893.7h0M1022.4 1894.1h0M1025.6 1893.8h0M1034.5 1894.5h0M1039 1893.9h0M779.9 1894.8h0M797.3 1895h0M862.8 1895.5h0M875.1 1894.7h0M888.9 1895.5h0M898.9 1895.1h0M912.4 1894.8h0M988.6 1895.3h0M993.1 1894.9h0M999.8 1894.9h0M1008.4 1894.7h0M1010 1895.3h0M1015.2 1894.8h0M1016.5 1894.7h0M1051.9 1894.7h0M859.7 1895.8h0M865.7 1896.5h0M873 1896h0M876.1 1896.4h0M877.2 1895.8h0M878.2 1896.4h0M882.9 1896.2h0M886.4 1896.1h0M903.9 1896.2h0M912.3 1896.5h0M992.8 1896.2h0M997.6 1895.9h0M1007.6 1896.3h0M1008.5 1896.2h0M1034.4 1896.4h0M1035 1896h0M1044 1896.3h0M1055.2 1895.9h0M849.3 1896.6h0M871.2 1896.8h0M880.6 1896.9h0M886.9 1897.3h0M893.5 1896.9h0M894.3 1896.6h0M899.8 1897.3h0M999.5 1897h0M1065.1 1896.7h0M826.2 1898.5h0M845 1897.7h0M877.9 1897.7h0M881.6 1898.5h0M885.5 1898.4h0M897.2 1897.6h0M904.8 1898.2h0M905.6 1897.7h0M908.2 1898.5h0M993.9 1897.8h0M1011.1 1898.4h0M1012.7 1897.5h0M1037.2 1898.4h0M1050.4 1898.1h0M1055.9 1897.8h0M806.9 1898.7h0M852.5 1898.8h0M876 1899.2h0M888.7 1898.5h0M893.7 1899h0M911.2 1899.2h0M989.1 1898.5h0M999.3 1899.5h0M1000.2 1898.9h0M1005.8 1898.6h0M1025.5 1898.9h0M1067.3 1898.7h0M774.7 1899.9h0M821.8 1900h0M858.7 1899.9h0M863.8 1899.9h0M865.7 1900.1h0M883.6 1899.7h0M888.7 1900.5h0M897.6 1899.9h0M996.2 1900.4h0M1003.9 1899.6h0M1011.6 1899.5h0M1014.6 1900.5h0M1024 1899.8h0M1026.8 1900.5h0M839.1 1900.9h0M871 1900.7h0M901.9 1900.6h0M902.1 1900.5h0M905 1900.8h0M910.7 1901h0M988.5 1900.8h0M1006.1 1901.3h0M1009.2 1900.8h0M1012.4 1901.2h0M1024.8 1900.5h0M1040.4 1901.3h0M818.8 1902.4h0M890.6 1901.6h0M895.5 1901.6h0M904.6 1902.4h0M909.7 1902.4h0M990.5 1901.5h0M993.1 1901.6h0M1012 1902.4h0M1015 1901.9h0M1048 1902h0M1077.2 1902.2h0M776.9 1903.1h0M891.1 1903h0M891.2 1903.3h0M893 1902.5h0M895.9 1903.4h0M913.3 1903.2h0M1002 1903h0M1037.3 1903.5h0M804.5 1904.3h0M857.1 1903.6h0M859.5 1904h0M862 1904h0M866.9 1903.6h0M888.1 1904.2h0M894.1 1903.7h0M898.6 1903.8h0M904.2 1903.5h0M906.8 1903.6h0M912.5 1903.8h0M991.1 1903.7h0M998.8 1904h0M1000.1 1904.1h0M1001.8 1904.1h0M1007 1903.6h0M1016.1 1903.8h0M1028.7 1903.8h0M1044 1903.8h0M1044.6 1904.4h0M863.3 1905.3h0M879.3 1904.9h0M883.1 1904.7h0M891.8 1905.1h0M904.7 1905.1h0M1001.8 1904.7h0M1004.1 1905.3h0M1021.1 1905.2h0M1025 1904.8h0M1063 1904.5h0M1118.1 1905.3h0M847 1906.5h0M879.1 1905.8h0M883.5 1906.2h0M884.5 1905.8h0M910.7 1905.9h0M912.1 1905.8h0M912.5 1905.7h0M988.8 1905.7h0M999.8 1905.9h0M1000.4 1905.5h0M1006.3 1906.2h0M1017.2 1906.3h0M1022.5 1905.8h0M1024.2 1906.4h0M1027.8 1905.9h0M1044.6 1906.1h0M1054.1 1906.3h0M810.4 1907h0M835 1907.4h0M848.4 1906.5h0M870.1 1907.3h0M875.2 1906.9h0M879.8 1907.5h0M886.2 1907h0M887.2 1907h0M889.9 1906.7h0M894.7 1906.5h0M900.4 1907h0M903.3 1907.3h0M988.6 1906.8h0M997 1906.8h0M998.6 1907.4h0M1008.4 1906.9h0M1019.3 1906.6h0M1033.9 1906.7h0M863.7 1908.2h0M874.8 1908.1h0M889.4 1908.4h0M893.2 1907.6h0M898.7 1907.7h0M905.7 1907.8h0M992.1 1907.7h0M1004.2 1907.5h0M1006 1907.7h0M1036 1907.9h0M1042.6 1908.4h0M825.7 1909.4h0M884.8 1909.4h0M993.4 1908.9h0M995.4 1909.2h0M1002.3 1909.5h0M1003.1 1909.3h0M1015.4 1909.1h0M1016.2 1908.6h0M809.5 1910.2h0M871.4 1909.5h0M881.4 1909.5h0M889 1909.7h0M900.5 1910.2h0M908.8 1909.8h0M994.6 1909.9h0M1004.6 1909.9h0M1011.6 1910.5h0M1018 1909.7h0M1023 1909.6h0M1044.4 1909.8h0M892.2 1911h0M893.4 1910.6h0M905 1911h0M995.8 1910.9h0M1000 1910.8h0M1003.9 1910.9h0M1029.9 1910.7h0M1033.1 1910.8h0M772.1 1912.5h0M774.7 1911.5h0M786.7 1912h0M831.9 1911.7h0M846.1 1912.3h0M881.4 1911.6h0M884.3 1911.8h0M893.7 1911.6h0M901.2 1911.6h0M904.3 1912.2h0M904.6 1911.9h0M907.4 1911.6h0M1004.2 1912.3h0M1008 1912.1h0M1008.9 1912.5h0M1012.9 1912h0M1069.6 1911.7h0M828.7 1913.5h0M858.9 1913h0M870.4 1912.7h0M883.6 1913.3h0M887.1 1912.9h0M896.8 1912.9h0M998.2 1913.4h0M999.5 1913.4h0M1004.7 1912.6h0M1008.3 1913h0M1010.5 1913.5h0M1020.8 1913.3h0M1043.7 1912.8h0M1060 1912.9h0M837.1 1914.3h0M870.3 1913.9h0M891.5 1914.5h0M902.3 1914.4h0M994.6 1914.3h0M995.6 1913.8h0M1012.8 1913.8h0M1019.2 1914h0M1039.6 1913.6h0M1073.1 1913.7h0M815.6 1915.1h0M848.6 1914.9h0M854.4 1914.6h0M886 1914.8h0M905.6 1915h0M991.8 1914.7h0M996.8 1914.5h0M999.8 1914.8h0M1003.8 1914.8h0M1010.6 1915.2h0M1020.9 1914.6h0M871.2 1915.8h0M882.3 1916.4h0M895.6 1916.1h0M898.1 1915.5h0M908.6 1916.2h0M910.3 1915.5h0M992.4 1915.6h0M995.5 1916h0M1023.3 1915.8h0M1029.4 1916h0M839.8 1917.5h0M851.6 1916.7h0M867.7 1917h0M890.2 1916.7h0M905.5 1917.4h0M910.7 1917.2h0M1004.4 1916.7h0M1043.8 1917.3h0M1053.6 1917.3h0M1066.5 1916.6h0M841.7 1917.9h0M851.5 1918.3h0M864.1 1918h0M870.6 1917.8h0M902.2 1918.3h0M907 1917.5h0M995.2 1917.8h0M1003.7 1918.3h0M1005.7 1918.2h0M1081 1917.9h0M830.1 1918.9h0M853.2 1919.2h0M892.5 1919.2h0M904.8 1918.7h0M994.4 1919h0M997.8 1919h0M1001.7 1918.9h0M1004.4 1919h0M1019.9 1919.1h0M1046 1919.5h0M871.4 1919.8h0M893.9 1919.8h0M901.6 1919.9h0M902 1920h0M909.4 1919.8h0M1017.4 1919.7h0M834.6 1921.1h0M898.4 1920.7h0M904.3 1921.1h0M1002.2 1921.3h0M1004.3 1921h0M848.7 1922.3h0M907.8 1921.7h0M994.4 1922.2h0M999.9 1921.6h0M1030.8 1922.1h0M1040.5 1921.7h0M865.1 1922.5h0M884.8 1923.3h0M886.8 1923.2h0M900.5 1923h0M992.6 1923h0M996.4 1923.3h0M1009 1923.2h0M1030.2 1923.2h0M877.5 1923.9h0M879.6 1924.2h0M890 1923.8h0M892.2 1923.9h0M892.8 1923.9h0M906 1924.2h0M907.2 1923.7h0M991.7 1923.7h0M998.7 1923.8h0M1000.4 1923.6h0M1003.9 1923.9h0M1022.3 1924.4h0M901.4 1924.7h0M905.4 1924.9h0M990.5 1924.6h0M1010.4 1925.1h0M908.7 1925.9h0M910.5 1925.7h0M988.3 1925.6h0M911.9 1926.8h0M987.8 1927.5h0M987.9 1926.7h0M912.9 1927.5h0M913.6 1929.1h0M914.2 1928.8h0M986.3 1928.9h0M986 1930.6h0M914.9 1931.5h0M915.7 1932.3h0M986 1932.1h0M916.4 1932.9h0M916.8 1933.2h0M983.8 1932.9h0M985.4 1933.5h0M917.6 1934.3h0M983.5 1934.1h0M918.4 1934.9h0M981.9 1934.8h0M919.6 1935.7h0M921.7 1935.8h0M922.1 1935.5h0M978.6 1936h0M979.6 1935.8h0M981.1 1935.8h0M924.3 1936.8h0M924.4 1937.3h0M978.2 1937.1h0M974.4 1937.7h0M976.7 1937.9h0M976.7 1937.6h0M925.7 1939h0M926.3 1938.8h0M926.7 1939.4h0M927.4 1939.4h0M972.7 1939.1h0M929.9 1940.4h0M969.9 1940.4h0M971.1 1939.6h0M973.1 1939.5h0M930.9 1941.4h0M931.2 1940.8h0M967.6 1942.2h0M969 1941.6h0M932.9 1942.6h0M934.3 1943.1h0M965.9 1943.2h0M966.2 1943h0M934.4 1943.7h0M962 1943.6h0M962.7 1944.5h0M963.2 1944.3h0M936.4 1944.6h0M937.8 1945.3h0M939.1 1944.5h0M958.6 1945.6h0M959.9 1945.5h0M960.6 1945.6h0M940.5 1946.9h0M941.3 1947.3h0M957.7 1946.6h0M942.7 1947.8h0M943.4 1947.7h0M954.5 1947.7h0M955.9 1947.9h0M956.9 1947.5h0M945.3 1948.7h0M952.8 1948.8h0M946 1950.2h0M948 1949.7h0M950.1 1950.3h0M950.1 1949.6h0M948.7 1951.4h0" stroke="#619CFF" stroke-width="3.8" stroke-linecap="round" fill="none"/>
<path d="M776.7 1519.5h0M889.8 1613h0M827.2 1650.4h0M934.9 1667.1h0M921.7 1687.5h0M920.9 1689.8h0M924.3 1704.5h0M928.5 1707.3h0M880 1708h0M911.2 1709.5h0M847.5 1712.5h0M926.9 1719.6h0M931.6 1725.4h0M853.2 1730.4h0M935.1 1734.3h0M915.3 1736.6h0M860.5 1743h0M869.5 1743.7h0M928.2 1746.4h0M935.9 1749.1h0M876.6 1749.8h0M930.1 1751.3h0M935.2 1751.2h0M901.2 1752.5h0M863.2 1756.6h0M893.8 1757.2h0M853.1 1761.5h0M914.9 1760.6h0M862.5 1770.3h0M856.5 1770.8h0M882.9 1771.1h0M935.5 1771.3h0M871.3 1772.1h0M932.1 1772h0M908.8 1774.4h0M930.8 1774.3h0M932.2 1773.9h0M905.7 1775.8h0M866.9 1780.9h0M902.7 1781.7h0M921 1782.1h0M935.8 1782.1h0M921.7 1783.3h0M862 1784.5h0M871.8 1784.1h0M905.9 1784h0M932.6 1783.7h0M847.7 1785.3h0M875.5 1784.9h0M896.9 1785.2h0M934.8 1785.2h0M935.9 1785.1h0M907.8 1786.6h0M930.3 1786.7h0M893.1 1788.8h0M911.4 1788.8h0M921.3 1788.7h0M887.1 1790h0M930.9 1790.2h0M933.1 1790.5h0M927.5 1791.3h0M929.5 1791.2h0M924.6 1792.2h0M935.9 1792.1h0M928.6 1794.4h0M902.4 1795.2h0M883.9 1797.3h0M896.1 1798h0M922.3 1798.1h0M920 1799.1h0M844.3 1800.2h0M903.1 1800.4h0M913.5 1801h0M918 1800.8h0M884.9 1802.2h0M921.5 1802.5h0M926.9 1801.9h0M933.4 1802.3h0M933.8 1801.6h0M929 1803.4h0M931.5 1802.5h0M878.8 1805.4h0M915 1805.2h0M833.3 1806.3h0M884.1 1806.9h0M890.6 1807.4h0M907.7 1806.7h0M918.5 1806.5h0M929.5 1807.1h0M914.4 1808.4h0M924.6 1807.5h0M901.8 1809h0M918.6 1809h0M916.8 1810h0M868 1811.1h0M903.5 1810.6h0M914.4 1810.6h0M921.7 1810.6h0M907.4 1812.6h0M915.8 1813.4h0M918 1812.8h0M921.5 1813.1h0M821.3 1814.8h0M879.9 1815.4h0M904.6 1815.4h0M931.3 1816h0M878.7 1816.6h0M931.3 1817h0M858.2 1817.9h0M869 1818.9h0M873.9 1818.5h0M915.5 1819.3h0M923.3 1818.7h0M935.3 1819.4h0M850.4 1820.5h0M853.4 1819.6h0M900.9 1820.2h0M929 1819.5h0M929.9 1819.9h0M931.1 1820h0M883.3 1821h0M886.1 1821.6h0M903.9 1822.2h0M916.5 1822.6h0M924.5 1823h0M863.7 1823.8h0M915.8 1824.3h0M921.3 1824.5h0M924.3 1824h0M928.1 1824.2h0M932 1823.8h0M933.2 1823.6h0M858.4 1825.1h0M892.3 1825.3h0M903 1824.9h0M927.1 1825.1h0M906.9 1825.6h0M917 1825.8h0M918 1826.3h0M918.2 1825.9h0M921.5 1826.2h0M930.3 1825.6h0M862.3 1826.8h0M868.8 1826.5h0M920 1826.7h0M874.6 1827.7h0M883.6 1828.4h0M897.9 1828.4h0M923.8 1828.1h0M861 1828.6h0M873.3 1828.6h0M876.9 1829.4h0M907.4 1828.7h0M870.7 1830.5h0M908.2 1829.8h0M916.2 1829.9h0M934.7 1830.2h0M915.2 1831h0M920.3 1830.8h0M921.8 1830.7h0M926.6 1831.4h0M927.5 1830.6h0M896.8 1832.3h0M922.7 1832.3h0M833.4 1832.6h0M898.6 1832.9h0M874.4 1834h0M896.4 1834.2h0M913.1 1833.9h0M929.6 1834h0M860.2 1834.8h0" stroke="#00BA38" stroke-width="3.8" stroke-linecap="round" fill="none"/>
<path d="M960 1725h3M959 1726h5M958 1727h7M958 1728h7M958 1729h7M959 1730h6M959 1731h7M959 1732h7M959 1733h7M960 1734h5M959 1735h7M958 1736h8M958 1737h8M958 1738h8M958 1739h8M958 1740h8M958 1741h8M958 1742h8M958 1743h9M958 1744h9M958 1745h9M958 1746h10M958 1747h10M958 1748h10M958 1749h9M958 1750h9M958 1751h9M958 1752h9M958 1753h9M958 1754h9M958 1755h10M958 1756h11M958 1757h11M958 1758h11M958 1759h10M958 1760h10M958 1761h10M958 1762h11M958 1763h11M959 1764h10M958 1765h11M958 1766h11M958 1767h12M958 1768h12M958 1769h12M959 1770h11M958 1771h12M958 1772h12M958 1773h12M958 1774h12M958 1775h12M958 1776h12M958 1777h12M958 1778h12M958 1779h12M958 1780h11M958 1781h12M958 1782h13M958 1783h13M958 1784h13M958 1785h13M959 1786h12M959 1787h12M959 1788h12M959 1789h12M959 1790h12M959 1791h12M958 1792h14M958 1793h14M958 1794h14M958 1795h14M958 1796h13M958 1797h14M958 1798h15M958 1799h15M958 1800h15M959 1801h14M959 1802h15M958 1803h16M958 1804h16M958 1805h16M958 1806h16M958 1807h17M958 1808h18M958 1809h18M958 1810h18M958 1811h18M958 1812h18M958 1813h18M958 1814h18M958 1815h18M959 1816h17M959 1817h16M959 1818h15M958 1819h17M958 1820h17M958 1821h17M959 1822h15M960 1823h13M961 1824h3M965 1824h9M960 1825h15M959 1826h17M959 1827h17M959 1828h17M959 1829h17M959 1830h18M959 1831h18M959 1832h18M959 1833h17M959 1834h17M960 1835h15M961 1836h13" stroke="#F8766D" stroke-width="1.1" fill="none" shape-rendering="crispEdges"/>
<path d="M962.5 1525.7h0M1011 1530.2h0M962.5 1556.9h0M964.7 1559.4h0M960.8 1562h0M960.5 1573.7h0M972.6 1580.9h0M980.7 1580.9h0M959.8 1583.7h0M962.7 1605.5h0M959.6 1624.1h0M959.7 1627.7h0M962.8 1631.7h0M972.8 1637.3h0M963.1 1642.2h0M967.5 1644.3h0M962.2 1654.2h0M961.1 1657.1h0M963.5 1675.3h0M990.2 1678.3h0M960.2 1681.4h0M959.5 1683.2h0M973.5 1684.3h0M958.9 1684.7h0M1066.3 1685.1h0M959.2 1687.3h0M959.4 1689.4h0M973 1689.9h0M977.6 1689.5h0M959.2 1691.4h0M1075.5 1691.3h0M959.8 1692.4h0M961.9 1694.1h0M959.2 1694.6h0M960.4 1695.4h0M960.2 1696.4h0M959.4 1697.5h0M960.3 1697.9h0M960.2 1698.9h0M960.7 1698.6h0M960.5 1700h0M1037.6 1700.7h0M959.1 1702.4h0M960.9 1702.7h0M960.1 1703.6h0M959.1 1704.6h0M961.3 1705.1h0M967 1704.5h0M961 1705.6h0M960 1707.3h0M961.5 1706.7h0M982 1708.4h0M959.2 1709.5h0M960.1 1708.8h0M960.6 1709.5h0M961.7 1710h0M989.7 1709.6h0M1007.4 1710.4h0M960 1711.6h0M1021.9 1712.2h0M1088.7 1712.1h0M960.2 1713.1h0M960.8 1713.3h0M961.4 1712.7h0M964.9 1714h0M961.6 1716.2h0M961.6 1715.9h0M967.7 1715.8h0M959.7 1717.1h0M961.5 1717.6h0M962.2 1718.4h0M972.2 1719h0M1025 1720.3h0M961.7 1721.2h0M962.9 1720.9h0M959.2 1721.7h0M961.2 1721.8h0M959.5 1723.5h0M960.4 1723h0M979.3 1723h0M959.5 1723.7h0M961.8 1723.6h0M959.6 1725.1h0M962.4 1724.6h0M961.8 1726.4h0M977 1725.6h0M959.5 1727.1h0M1025.3 1727.5h0M1067.6 1727h0M959.4 1727.8h0M962.5 1728h0M963.4 1728.2h0M1036.7 1727.5h0M959.7 1730.7h0M962.6 1731.2h0M963.8 1731.7h0M1034.1 1731.8h0M1055.4 1731.7h0M961.3 1733.3h0M962.8 1733.2h0M969.3 1733.1h0M972.7 1733.5h0M981.3 1733.4h0M989.5 1732.6h0M1018.2 1733.7h0M961.1 1735h0M963 1735.2h0M967.1 1735.1h0M1015.1 1734.6h0M959.2 1736.5h0M964 1735.9h0M969.9 1736.3h0M963.8 1737h0M964.4 1737.1h0M968.2 1737.2h0M1033.1 1737.8h0M964.1 1738.9h0M964.3 1739.2h0M958.9 1740.5h0M991.6 1739.9h0M959.5 1740.9h0M964.1 1740.8h0M959 1742.6h0M959 1743.9h0M964.6 1743.7h0M978.6 1744.4h0M988.3 1745.1h0M959.2 1746.6h0M967.2 1747.2h0M964.8 1748.8h0M965.1 1749.5h0M1016 1749.3h0M959.5 1749.8h0M965 1751h0M958.9 1752.4h0M965 1752.4h0M993.4 1752.6h0M1014.5 1752.7h0M958.9 1755.3h0M959.4 1755.4h0M1002.2 1754.9h0M1012 1754.6h0M965.7 1755.9h0M969.3 1756.7h0M959.2 1758.4h0M999.6 1758.2h0M965.5 1758.7h0M966 1758.9h0M959.3 1760.8h0M965.5 1761.2h0M959 1762.4h0M959 1762.2h0M966.2 1761.8h0M1034 1762.2h0M966.6 1763h0M969.7 1762.5h0M993 1763h0M974.7 1763.7h0M1016.2 1763.7h0M959.8 1764.6h0M967 1764.9h0M959.4 1766h0M959.5 1767.1h0M966.9 1766.7h0M1007.2 1766.6h0M959 1768.2h0M970.5 1768.1h0M990 1767.8h0M991.4 1768.1h0M960.4 1768.7h0M960.3 1769.5h0M986.1 1769.8h0M991 1770h0M960.4 1771.3h0M967.6 1771h0M1001.9 1771.1h0M958.9 1772.1h0M967.7 1772h0M1054.5 1771.5h0M959.5 1772.6h0M967.8 1773.5h0M990 1773h0M991.8 1773.3h0M1005.8 1773.9h0M1085.5 1774.1h0M959.4 1775.4h0M967.5 1776.1h0M968.5 1775.6h0M974 1775.9h0M975.6 1776.3h0M978.1 1776.3h0M959.1 1777.2h0M1093.7 1776.6h0M968.1 1778.2h0M968.3 1777.7h0M971.7 1777.9h0M972.4 1777.8h0M980.9 1777.8h0M999.6 1777.8h0M959.3 1778.8h0M966.9 1779.1h0M988.7 1778.9h0M1051.7 1779h0M967.1 1779.9h0M973.1 1780.4h0M998.3 1780.1h0M967 1781.5h0M1019.3 1781.2h0M959.3 1782.1h0M968.6 1782.2h0M973.6 1782h0M1041.1 1781.8h0M1044.9 1782h0M970.7 1783.1h0M1002.4 1782.9h0M959 1784.5h0M975.6 1784.4h0M979.1 1784.3h0M969 1784.8h0M1061.3 1784.7h0M969.2 1786.2h0M1012.3 1786.2h0M1030 1785.7h0M1037.8 1786h0M1042.2 1785.8h0M959.6 1786.7h0M1010.8 1787h0M959.8 1788.1h0M974.2 1787.6h0M975 1787.9h0M995 1787.9h0M1012.9 1787.8h0M1028.6 1787.6h0M1060.9 1787.7h0M960.3 1789.3h0M969.1 1788.8h0M980.2 1788.6h0M991.7 1789.4h0M960.1 1790.2h0M976.6 1790.2h0M968.9 1790.6h0M973 1790.7h0M974.5 1790.7h0M960.4 1792.4h0M959.2 1792.7h0M959.3 1793.4h0M971.6 1792.9h0M1030.4 1793h0M1045.9 1793.1h0M969.8 1794.4h0M986.3 1794.2h0M978.2 1795.5h0M1042 1795.4h0M959.1 1796.2h0M978.1 1795.6h0M984.5 1795.8h0M994.5 1796.4h0M968.9 1796.6h0M974.6 1797.3h0M995.4 1797h0M1027.2 1796.8h0M959.2 1798h0M971.9 1797.9h0M1052 1797.9h0M1054.2 1797.7h0M1078.7 1797.9h0M959.1 1798.5h0M1047 1798.9h0M960.2 1799.7h0M970.6 1800.3h0M991.1 1799.6h0M960.4 1800.7h0M977.5 1801.2h0M1011.6 1801.2h0M1068.8 1800.6h0M959.7 1801.9h0M959.7 1802.2h0M978.1 1801.7h0M1010.4 1802.5h0M1015.4 1801.9h0M973 1803h0M1023.7 1803.2h0M959.4 1804.5h0M971.9 1803.5h0M986.1 1804.3h0M998.5 1804.3h0M1076.7 1803.9h0M972.5 1805h0M1072.7 1805h0M994.1 1805.7h0M998.5 1806.1h0M1013.6 1806h0M959.2 1806.9h0M979.5 1807.2h0M989.4 1807.4h0M1013 1806.7h0M1015.9 1806.7h0M1023.1 1806.6h0M1074.6 1807h0M959.3 1807.5h0M973.3 1808.1h0M975.7 1808.4h0M983.9 1808.4h0M994.1 1807.9h0M1017.7 1807.7h0M959.4 1809.4h0M976.4 1809.3h0M1005.8 1809.3h0M1039.8 1809.1h0M1058.8 1808.7h0M983 1810.5h0M973.8 1810.8h0M987.9 1811.4h0M959.3 1812.2h0M1014.1 1811.8h0M1025.4 1812.3h0M1040.4 1811.9h0M959.4 1814.5h0M974.2 1814h0M994.4 1813.8h0M1033 1813.6h0M1049.5 1814.2h0M959.7 1815.5h0M980.2 1815.4h0M992.4 1814.8h0M1016.6 1814.8h0M973.8 1816.3h0M975.5 1816.5h0M978.9 1815.9h0M1002.5 1815.6h0M1015.6 1816.3h0M1038.5 1815.8h0M981.8 1817.1h0M1001.7 1816.9h0M959.6 1817.5h0M1016.1 1818.4h0M971.8 1818.9h0M977 1818.5h0M1025.7 1818.9h0M959.2 1819.8h0M974.5 1819.7h0M992.8 1819.7h0M1007.6 1820.3h0M1016.6 1820h0M960.2 1821.3h0M971.9 1820.6h0M1003.2 1820.8h0M1018.6 1820.6h0M1064.7 1820.9h0M960.4 1822.4h0M965.1 1821.5h0M965.3 1822.1h0M970.8 1822.4h0M984 1821.8h0M990.1 1822.2h0M1015.1 1821.6h0M959.8 1823.4h0M961.9 1823.2h0M966.1 1822.5h0M971.3 1823.2h0M992.4 1822.9h0M1007.2 1822.8h0M1027.3 1822.9h0M1047.1 1822.8h0M959.8 1823.7h0M960.6 1823.6h0M962.1 1823.9h0M965.6 1823.6h0M977.3 1824.1h0M987.2 1824.2h0M1008.3 1823.6h0M1028.5 1823.6h0M1071.6 1824.1h0M962.4 1825h0M971.6 1825.1h0M972.2 1824.7h0M975.3 1825.1h0M993 1824.5h0M1005.8 1825h0M960 1825.8h0M965.2 1826.4h0M978.5 1826.2h0M994.4 1825.8h0M995 1825.6h0M959.9 1827.3h0M974.3 1826.6h0M987.6 1826.7h0M1003.2 1827.4h0M1008.5 1826.9h0M1031 1827.5h0M1040 1827.3h0M1053.5 1827.3h0M1068.1 1826.9h0M974.3 1827.7h0M981.1 1827.8h0M984.5 1828h0M988.7 1828.2h0M999.9 1828.3h0M959.8 1828.6h0M978.8 1829.1h0M989.9 1828.5h0M1002.1 1828.8h0M1004.8 1828.7h0M1015.5 1828.7h0M989.5 1829.6h0M991.6 1829.6h0M1019 1830.2h0M974.9 1831.2h0M979.4 1830.6h0M991.8 1831h0M998.3 1831h0M1002.1 1830.9h0M1005.8 1830.7h0M1023 1830.6h0M1025.5 1831.1h0M1048.4 1831.3h0M1085.8 1831.1h0M960 1832.2h0M960.3 1831.6h0M973.6 1832.1h0M979.4 1832.2h0M1004.9 1831.6h0M1022.3 1832.4h0M1071.2 1831.5h0M959.7 1833.1h0M991 1833.4h0M1004.6 1833.5h0M1021.2 1832.5h0M1022.9 1832.7h0M961.2 1833.8h0M973.2 1833.7h0M974.2 1833.9h0M979.1 1834.4h0M981.8 1834.3h0M985 1834.1h0M1019 1834h0M1026.3 1834.4h0M960 1835.3h0M962 1835.4h0M963.5 1835.5h0M964.2 1834.6h0M964.9 1834.7h0M966.4 1835.5h0M967.5 1835.1h0M969.3 1834.7h0M970.4 1835h0M972.6 1834.6h0M974.2 1834.6h0M980.6 1834.7h0M1020.2 1834.8h0M1082.5 1834.5h0" stroke="#F8766D" stroke-width="3.8" stroke-linecap="round" fill="none"/>
<rect x="730.2" y="1498.6" width="413.7" height="474.5" fill="none" stroke="#d8d8d8" stroke-width="1.2"/>
<path d="M948.4 1498.6V1973.1M730.2 1835.7H1143.9" stroke="#2a2a2a" stroke-width="1.5" stroke-dasharray="3.6 2.2 1.2 2.2" fill="none"/>
<path d="M746.4 1973.1v3M847.4 1973.1v3M948.4 1973.1v3M1049.4 1973.1v3M730.2 1951.6h-3M730.2 1862.5h-3M730.2 1773.4h-3M730.2 1684.3h-3M730.2 1595.2h-3M730.2 1506.1h-3" stroke="#444" stroke-width="1" fill="none"/>
<g font-size="9.1" fill="#444">
<text x="746.4" y="1984.5" text-anchor="middle">-5.0</text>
<text x="847.4" y="1984.5" text-anchor="middle">-2.5</text>
<text x="948.4" y="1984.5" text-anchor="middle">0.0</text>
<text x="1049.4" y="1984.5" text-anchor="middle">2.5</text>
<text x="725.6" y="1954.9" text-anchor="end">0</text>
<text x="725.6" y="1865.8" text-anchor="end">1</text>
<text x="725.6" y="1776.7" text-anchor="end">2</text>
<text x="725.6" y="1687.6" text-anchor="end">3</text>
<text x="725.6" y="1598.5" text-anchor="end">4</text>
<text x="725.6" y="1509.4" text-anchor="end">5</text>
</g>
<text x="943.7" y="1479" font-size="42.6" text-anchor="middle">Control vs 3-BP</text>
<text x="956" y="2022" font-size="28" text-anchor="middle">log2FoldChange</text>
<text transform="translate(709.3 1746.3) rotate(-90)" font-size="28" text-anchor="middle">-log10(p value)</text>
<text x="1177.4" y="1671.7" font-size="20" fill="#111">Significant</text>
<rect x="1177.4" y="1686" width="30" height="31" fill="#f3f3f3"/>
<circle cx="1192.4" cy="1701.7" r="3.4" fill="#F8766D"/>
<text x="1217.9" y="1708.2" font-size="16" fill="#111">UP</text>
<text x="1281.8" y="1708.9" font-size="17.3" fill="#111">673</text>
<rect x="1177.4" y="1721" width="30" height="31" fill="#f3f3f3"/>
<circle cx="1192.4" cy="1737.2" r="3.4" fill="#00BA38"/>
<text x="1217.9" y="1743.7" font-size="16" fill="#111">DOWN</text>
<text x="1283.9" y="1744.4" font-size="17.3" fill="#111">178</text>
<rect x="1177.4" y="1756" width="30" height="31" fill="#f3f3f3"/>
<circle cx="1192.4" cy="1770.2" r="3.4" fill="#619CFF"/>
<text x="1217.9" y="1776.7" font-size="16" fill="#111">NO</text>
<text x="1274.3" y="1777.4" font-size="17.3" fill="#111">19195</text>
<path d="M1687 1767h3M1686 1768h5M1685 1769h7M1685 1770h8M1685 1771h8M1685 1772h8M1685 1773h7M1686 1774h5M1686 1775h5M1685 1776h7M1685 1777h7M1685 1778h7M1685 1779h7M1685 1780h7M1685 1781h7M1685 1782h7M1685 1783h8M1685 1784h8M1685 1785h8M1685 1786h8M1685 1787h7M1685 1788h7M1685 1789h7M1684 1790h8M1684 1791h9M1684 1792h9M1685 1793h8M1685 1794h7M1685 1795h7M1685 1796h7M1684 1797h9M1684 1798h9M1675 1799h3M1684 1799h9M1674 1800h5M1684 1800h9M1673 1801h7M1684 1801h9M1673 1802h7M1684 1802h9M1673 1803h7M1684 1803h9M1673 1804h7M1684 1804h9M1673 1805h7M1684 1805h9M1673 1806h7M1684 1806h9M1673 1807h7M1684 1807h9M1673 1808h7M1684 1808h9M1673 1809h7M1684 1809h9M1673 1810h7M1684 1810h9M1673 1811h7M1684 1811h9M1673 1812h8M1684 1812h9M1673 1813h8M1684 1813h9M1673 1814h8M1684 1814h9M1673 1815h8M1684 1815h9M1673 1816h8M1684 1816h9M1673 1817h8M1684 1817h9M1673 1818h8M1684 1818h9M1673 1819h8M1684 1819h9M1673 1820h8M1684 1820h9M1673 1821h8M1684 1821h9M1673 1822h8M1684 1822h9M1673 1823h7M1684 1823h9M1673 1824h8M1684 1824h9M1673 1825h8M1684 1825h9M1673 1826h8M1684 1826h9M1673 1827h8M1684 1827h9M1672 1828h9M1683 1828h10M1672 1829h10M1683 1829h10M1672 1830h10M1683 1830h10M1673 1831h9M1683 1831h10M1673 1832h9M1683 1832h10M1673 1833h9M1683 1833h10M1673 1834h9M1683 1834h10M1672 1835h10M1683 1835h10M1672 1836h10M1683 1836h10M1672 1837h10M1683 1837h10M1672 1838h9M1683 1838h9M1672 1839h10M1683 1839h10M1672 1840h10M1683 1840h10M1672 1841h10M1683 1841h10M1672 1842h10M1683 1842h10M1673 1843h9M1683 1843h10M1672 1844h10M1683 1844h10M1672 1845h10M1683 1845h10M1672 1846h10M1683 1846h10M1672 1847h10M1683 1847h10M1672 1848h10M1683 1848h10M1672 1849h10M1683 1849h10M1672 1850h10M1683 1850h10M1673 1851h9M1683 1851h10M1673 1852h9M1683 1852h10M1672 1853h10M1683 1853h10M1672 1854h10M1683 1854h10M1672 1855h10M1683 1855h10M1672 1856h10M1683 1856h10M1672 1857h10M1683 1857h10M1672 1858h10M1683 1858h10M1672 1859h21M1672 1860h21M1672 1861h21M1672 1862h21M1672 1863h21M1673 1864h20M1673 1865h20M1673 1866h20M1673 1867h20M1672 1868h21M1672 1869h21M1672 1870h21M1672 1871h21M1673 1872h20M1672 1873h21M1672 1874h21M1672 1875h21M1673 1876h20M1646 1877h4M1652 1877h48M1702 1877h11M1714 1877h3M1641 1878h81M1737 1878h3M1742 1878h3M1748 1878h4M1774 1878h3M1620 1879h4M1640 1879h83M1735 1879h11M1747 1879h6M1773 1879h5M1616 1880h9M1639 1880h85M1734 1880h20M1772 1880h7M1614 1881h13M1639 1881h85M1733 1881h21M1772 1881h7M1613 1882h15M1639 1882h85M1733 1882h21M1772 1882h7M1604 1883h4M1612 1883h17M1635 1883h89M1733 1883h20M1757 1883h3M1773 1883h5M1603 1884h8M1612 1884h18M1634 1884h91M1733 1884h19M1756 1884h5M1774 1884h3M1602 1885h28M1633 1885h93M1733 1885h18M1755 1885h7M1602 1886h28M1633 1886h94M1733 1886h17M1755 1886h8M1602 1887h27M1633 1887h94M1733 1887h20M1755 1887h8M1602 1888h27M1633 1888h94M1733 1888h21M1756 1888h7M1603 1889h27M1634 1889h94M1732 1889h23M1756 1889h7M1604 1890h27M1634 1890h94M1732 1890h30M1602 1891h3M1606 1891h25M1633 1891h95M1732 1891h29M1601 1892h30M1633 1892h94M1733 1892h26M1600 1893h126M1733 1893h26M1600 1894h126M1733 1894h26M1600 1895h7M1608 1895h118M1727 1895h3M1734 1895h16M1751 1895h9M1600 1896h6M1609 1896h7M1617 1896h114M1734 1896h12M1752 1896h8M1599 1897h8M1610 1897h122M1735 1897h11M1752 1897h8M1592 1898h5M1599 1898h9M1613 1898h119M1734 1898h11M1752 1898h7M1591 1899h7M1599 1899h9M1612 1899h120M1733 1899h18M1753 1899h5M1590 1900h19M1612 1900h7M1620 1900h132M1754 1900h3M1590 1901h9M1600 1901h9M1612 1901h146M1590 1902h9M1600 1902h9M1612 1902h147M1591 1903h7M1600 1903h10M1612 1903h147M1592 1904h5M1600 1904h11M1612 1904h9M1622 1904h110M1733 1904h10M1744 1904h15M1601 1905h11M1613 1905h8M1622 1905h122M1745 1905h14M1602 1906h11M1614 1906h7M1622 1906h122M1746 1906h3M1750 1906h8M1764 1906h3M1603 1907h10M1615 1907h129M1750 1907h7M1763 1907h6M1602 1908h11M1614 1908h129M1749 1908h7M1759 1908h11M1601 1909h141M1748 1909h8M1758 1909h13M1601 1910h140M1748 1910h8M1757 1910h14M1601 1911h138M1748 1911h8M1757 1911h14M1602 1912h17M1621 1912h117M1748 1912h22M1602 1913h17M1622 1913h115M1747 1913h22M1602 1914h16M1623 1914h3M1627 1914h109M1738 1914h4M1746 1914h20M1603 1915h14M1622 1915h121M1745 1915h18M1604 1916h11M1621 1916h123M1745 1916h17M1608 1917h7M1617 1917h3M1621 1917h137M1609 1918h5M1616 1918h142M1608 1919h5M1615 1919h142M1607 1920h7M1615 1920h141M1606 1921h150M1605 1922h151M1604 1923h11M1616 1923h10M1627 1923h110M1738 1923h17M1604 1924h10M1617 1924h8M1626 1924h109M1739 1924h11M1751 1924h3M1604 1925h9M1618 1925h6M1625 1925h111M1740 1925h8M1605 1926h5M1625 1926h111M1741 1926h6M1606 1927h3M1625 1927h111M1742 1927h3M1626 1928h109M1627 1929h108M1627 1930h107M1627 1931h106M1628 1932h104M1629 1933h100M1632 1934h93M1639 1935h82M1645 1936h71M1650 1937h63M1652 1938h59M1658 1939h48M1661 1940h43M1664 1941h35M1667 1942h30M1671 1943h22M1676 1944h13M1679 1945h8" stroke="#619CFF" stroke-width="1.1" fill="none" shape-rendering="crispEdges"/>
<path d="M1690.1 1635.6h0M1689.7 1638.6h0M1690.2 1668.2h0M1689.9 1678.3h0M1687.3 1694.6h0M1689.6 1707.2h0M1685.8 1728h0M1688.9 1727.9h0M1686.9 1734.7h0M1686.8 1738.4h0M1692.1 1738.9h0M1689.5 1742h0M1676.2 1747.6h0M1686.2 1753.3h0M1675 1755.2h0M1686.7 1756.1h0M1689.9 1756h0M1688.9 1761h0M1688.1 1763.3h0M1689.1 1764.5h0M1687 1764.7h0M1687.6 1765.3h0M1688.8 1765.2h0M1689.1 1765.9h0M1687.1 1767.3h0M1689.1 1767.1h0M1687.7 1768.4h0M1688.2 1768.1h0M1689.2 1768.1h0M1673.9 1768.7h0M1676.1 1769.1h0M1686.6 1768.9h0M1688.9 1769.3h0M1689.7 1769h0M1686.2 1770.6h0M1692.2 1770.6h0M1689.5 1772.1h0M1688.8 1773.2h0M1677.2 1773.7h0M1687.2 1773.6h0M1689.4 1773.6h0M1686.3 1775.4h0M1686.7 1775.2h0M1686.4 1776.1h0M1686.8 1776.2h0M1689.1 1775.8h0M1689.7 1777.2h0M1686 1778.1h0M1686.3 1778.8h0M1678.1 1779.6h0M1686 1780.4h0M1689.6 1780.4h0M1678.3 1781.1h0M1689.7 1781h0M1673.3 1781.5h0M1675.6 1781.8h0M1686 1781.7h0M1686.5 1782.4h0M1685.9 1782.6h0M1690 1782.8h0M1690.5 1783.4h0M1686 1783.9h0M1691.4 1784.7h0M1675.4 1785.9h0M1678.2 1785.6h0M1686.3 1787.3h0M1686.2 1787.7h0M1689.7 1787.9h0M1676.4 1789h0M1685.8 1789.5h0M1690.5 1789.5h0M1685.8 1790.4h0M1690.1 1790h0M1675.5 1791.1h0M1676.3 1791.4h0M1690.4 1791.2h0M1676.8 1792h0M1677.4 1792.1h0M1685.9 1791.6h0M1690.6 1792.4h0M1675.6 1792.8h0M1690.3 1793.2h0M1675.1 1793.7h0M1676.2 1793.6h0M1677.3 1793.8h0M1677.5 1794.4h0M1685.7 1793.8h0M1675.1 1794.9h0M1676.2 1795.4h0M1685.8 1794.7h0M1689.6 1794.5h0M1676.6 1796.3h0M1685.8 1796h0M1675.7 1796.7h0M1676.7 1797.2h0M1689.8 1796.8h0M1689.9 1797.3h0M1675 1797.8h0M1675.3 1798.4h0M1677 1798.4h0M1677.4 1798h0M1685.3 1797.8h0M1690.6 1797.9h0M1677.4 1798.6h0M1685.3 1798.9h0M1690.7 1798.6h0M1675.3 1800h0M1677.3 1799.7h0M1685.4 1800h0M1690.5 1799.6h0M1674.9 1801.4h0M1677 1800.7h0M1674.5 1802.3h0M1677.7 1801.7h0M1685.1 1802h0M1674.4 1802.8h0M1677.8 1803.1h0M1690.5 1803.1h0M1677.7 1803.8h0M1685.1 1803.8h0M1674.4 1805.1h0M1677.7 1804.8h0M1685.3 1805.3h0M1690.7 1805.1h0M1678.2 1806.2h0M1685.2 1807.3h0M1674.1 1808.1h0M1677.7 1808.1h0M1684.9 1807.6h0M1685.4 1808.4h0M1690.7 1808.2h0M1674.3 1808.9h0M1677.9 1809.1h0M1674.4 1810.3h0M1674.5 1810.4h0M1684.9 1809.9h0M1685.4 1810.2h0M1674 1811.5h0M1678.3 1811.2h0M1684.9 1811.1h0M1690.8 1810.6h0M1678.1 1812.1h0M1684.9 1812.1h0M1690.5 1812.4h0M1678.5 1812.6h0M1673.9 1813.7h0M1685 1814.4h0M1674.5 1814.5h0M1678.5 1815h0M1685.4 1815.3h0M1690.6 1814.6h0M1673.9 1815.9h0M1685.1 1816.2h0M1685.2 1816.1h0M1690.6 1816.8h0M1674.3 1818h0M1678.7 1818h0M1678.8 1818.1h0M1684.7 1818h0M1674 1818.9h0M1685.3 1818.9h0M1690.7 1819.1h0M1674.3 1820.2h0M1678.8 1819.5h0M1684.8 1820.3h0M1674 1821.4h0M1690.9 1820.7h0M1678.5 1821.5h0M1684.8 1821.7h0M1690.6 1821.5h0M1673.6 1823.4h0M1678.3 1822.8h0M1684.6 1822.7h0M1685.4 1822.5h0M1673.8 1823.7h0M1678.1 1823.9h0M1684.7 1824.5h0M1685.1 1824.1h0M1679.1 1824.5h0M1684.6 1825h0M1690.7 1824.6h0M1674 1825.9h0M1678.6 1826h0M1673.6 1827h0M1674.5 1826.8h0M1684.5 1827.2h0M1690.7 1827.1h0M1679.3 1828.3h0M1685.2 1827.5h0M1673.4 1829.2h0M1679.3 1828.8h0M1684.4 1828.5h0M1690.5 1828.7h0M1690.6 1829.3h0M1679.5 1830.3h0M1684.2 1829.9h0M1674.2 1830.8h0M1674.5 1832h0M1684.2 1831.7h0M1691 1831.5h0M1673.6 1833.4h0M1679.6 1833.2h0M1684.4 1832.9h0M1690.7 1833.5h0M1674.2 1834.1h0M1691.1 1834.4h0M1684.3 1834.8h0M1673.5 1836.5h0M1690.9 1835.6h0M1679.3 1836.7h0M1673.3 1837.7h0M1678.8 1838.1h0M1679.1 1837.8h0M1684.2 1838.3h0M1689.6 1838.4h0M1679.9 1840.5h0M1684.3 1839.8h0M1673.4 1841.1h0M1684 1841.2h0M1691 1840.6h0M1691.1 1841.6h0M1674.1 1842.8h0M1679.7 1842.9h0M1680 1843h0M1684.2 1842.7h0M1691.2 1843h0M1674.5 1843.6h0M1691.2 1844.4h0M1673.5 1845.4h0M1679.5 1844.8h0M1684.5 1844.8h0M1690.8 1844.7h0M1673.5 1847.2h0M1680 1847.2h0M1684.4 1847h0M1673.5 1848h0M1684.3 1847.7h0M1673.3 1848.9h0M1683.9 1849h0M1690.5 1849.4h0M1690.8 1848.5h0M1679.6 1849.5h0M1683.7 1850.1h0M1690.5 1850.1h0M1674.2 1850.5h0M1679.7 1850.7h0M1684 1851.1h0M1673.7 1851.5h0M1680.2 1851.8h0M1684.2 1852.5h0M1691.3 1852.4h0M1679.5 1852.8h0M1679.6 1852.6h0M1684.5 1853.4h0M1673.4 1853.5h0M1680.3 1854.4h0M1683.7 1854.2h0M1690.8 1854.5h0M1691.3 1853.7h0M1680.5 1855.4h0M1679.7 1856.3h0M1683.8 1856.3h0M1691 1856.2h0M1679.5 1857.1h0M1680.2 1857.5h0M1683.6 1857.4h0M1683.7 1856.5h0M1684.2 1857.1h0M1673.3 1857.8h0M1691 1858.4h0M1691.1 1858h0M1673.4 1858.6h0M1679.8 1858.5h0M1679.9 1859h0M1684.1 1859.2h0M1690.7 1859.5h0M1683.5 1859.8h0M1673.4 1860.7h0M1673.3 1862.2h0M1691.4 1862h0M1690.7 1863h0M1674.2 1864h0M1691.2 1863.7h0M1674 1865.5h0M1690.5 1864.7h0M1674.5 1867h0M1691.4 1866.6h0M1674.5 1867.6h0M1690.5 1868.4h0M1690.7 1869.3h0M1673.4 1869.7h0M1690.7 1871.1h0M1691 1871.8h0M1673.8 1873.3h0M1673.8 1872.5h0M1690.5 1874.2h0M1690.7 1873.7h0M1673.8 1874.6h0M1673.7 1876.3h0M1690.8 1875.9h0M1691.3 1877.2h0M1647.3 1878.5h0M1648.1 1878.2h0M1652.8 1878.2h0M1653.9 1878.2h0M1655.3 1878.4h0M1657 1878.4h0M1659.8 1878.5h0M1660.2 1878.2h0M1661.7 1878h0M1663.6 1878.3h0M1664.2 1878.3h0M1667.8 1878.2h0M1667.9 1878.4h0M1671.3 1878.3h0M1672.2 1878.1h0M1673.3 1877.8h0M1691.7 1878.1h0M1692.1 1878.3h0M1693.3 1878.3h0M1695.3 1878.4h0M1697.3 1878.4h0M1703.5 1878.3h0M1704.9 1878h0M1705.8 1878.1h0M1708.7 1878.4h0M1709.7 1878h0M1711.2 1878.2h0M1714.6 1878.5h0M1578.8 1878.7h0M1588.6 1879.4h0M1592 1879.2h0M1594.3 1878.7h0M1598.8 1878.6h0M1600.7 1878.7h0M1606.4 1878.5h0M1611 1878.9h0M1616.6 1878.5h0M1620.6 1879.1h0M1621.9 1879.3h0M1623.3 1879.2h0M1638.6 1879.2h0M1642.1 1878.8h0M1643.1 1878.6h0M1644 1879.2h0M1645.5 1879.3h0M1646.2 1879.2h0M1650.4 1878.6h0M1650.9 1878.8h0M1699.3 1878.9h0M1700.7 1878.5h0M1701.6 1879.3h0M1711.9 1878.7h0M1713.5 1879.2h0M1714.4 1879.4h0M1718 1879.3h0M1718.6 1878.9h0M1719.6 1879.3h0M1720.2 1879h0M1725.9 1879.2h0M1733.8 1879.4h0M1738.4 1879.5h0M1743.3 1878.8h0M1747.9 1878.9h0M1750.1 1878.6h0M1756.5 1878.9h0M1757.7 1879.1h0M1766.6 1879.2h0M1770.2 1878.8h0M1774.8 1879.1h0M1791.7 1878.9h0M1607.3 1879.8h0M1608.5 1879.7h0M1610.1 1880.1h0M1612 1880.3h0M1612.9 1880h0M1622.8 1879.5h0M1631.2 1880.4h0M1633.2 1880.1h0M1635.2 1879.8h0M1722.4 1879.9h0M1727.5 1879.7h0M1734.9 1879.5h0M1740.3 1880.5h0M1742.1 1880.1h0M1743.9 1879.8h0M1748.4 1879.6h0M1752.5 1880.1h0M1756.2 1879.8h0M1772.8 1879.9h0M1778.3 1879.9h0M1796.5 1879.5h0M1803.5 1879.9h0M1806.4 1880.4h0M1582 1881h0M1583.1 1881.4h0M1594.2 1881.3h0M1598 1880.8h0M1605.8 1881.5h0M1613.2 1880.7h0M1616.8 1881h0M1617.9 1881.4h0M1618.7 1881h0M1627.1 1881.2h0M1722.1 1880.6h0M1725.8 1880.8h0M1730.5 1880.6h0M1733.1 1881.4h0M1734.4 1880.7h0M1745 1881.1h0M1745.1 1880.6h0M1752.3 1880.8h0M1756 1880.7h0M1757.5 1880.6h0M1800.9 1881.3h0M1802.4 1881h0M1563.7 1882.2h0M1565.1 1881.9h0M1571.2 1882.5h0M1573.9 1882.2h0M1598.7 1882.4h0M1604.1 1882.4h0M1605.9 1882.1h0M1611.8 1881.7h0M1613.9 1882.5h0M1615.5 1881.9h0M1624.7 1881.5h0M1625.1 1882.3h0M1632.6 1881.9h0M1634.1 1882.1h0M1639.8 1881.8h0M1640.3 1881.6h0M1760.8 1882.2h0M1762.9 1882.2h0M1764.5 1881.9h0M1767.3 1882.4h0M1770.5 1881.7h0M1772 1881.7h0M1776.5 1882h0M1565.5 1883.3h0M1578.4 1882.8h0M1581.9 1883.4h0M1584.5 1882.6h0M1627.2 1882.9h0M1631.2 1882.8h0M1633 1883.4h0M1726.1 1883.2h0M1733.7 1883.1h0M1749.7 1882.9h0M1750.4 1882.7h0M1756.5 1883.5h0M1761.6 1882.7h0M1764.2 1883.2h0M1774.4 1882.9h0M1776.8 1883.3h0M1778.6 1883.2h0M1785.1 1883.2h0M1785.7 1883.3h0M1788 1883.5h0M1793.8 1883.4h0M1798.4 1883.1h0M1810.7 1882.9h0M1566.1 1883.7h0M1576.6 1883.8h0M1594.2 1883.6h0M1597.2 1883.6h0M1603.7 1883.6h0M1606.4 1883.6h0M1633.4 1883.8h0M1635.6 1884h0M1637.1 1884.1h0M1639.3 1884.2h0M1722 1883.8h0M1727.7 1884.2h0M1748.8 1884h0M1750.8 1883.6h0M1759.3 1883.7h0M1759.9 1884.3h0M1766.7 1884.1h0M1780.1 1883.5h0M1791.1 1883.9h0M1565.4 1885.5h0M1587.3 1884.5h0M1597.4 1884.7h0M1599.5 1884.8h0M1608.4 1884.8h0M1612.7 1885.1h0M1627.7 1884.6h0M1634.7 1885h0M1725.1 1885.3h0M1734.1 1885.4h0M1748.5 1884.8h0M1751.9 1884.9h0M1756.1 1885h0M1763.5 1885h0M1766.6 1885.4h0M1778.9 1885.2h0M1788.5 1885.5h0M1801.1 1885.2h0M1805.7 1884.6h0M1807.4 1884.9h0M1575.8 1886.2h0M1589.9 1886.5h0M1600.4 1886.4h0M1603 1885.7h0M1611.1 1885.7h0M1626.9 1885.5h0M1627.2 1886.3h0M1726.9 1886.3h0M1753.9 1886h0M1760 1886.1h0M1779.6 1885.8h0M1782.2 1886.3h0M1785.6 1886.2h0M1788.5 1886.2h0M1809.5 1886.3h0M1566.9 1886.5h0M1594.2 1887.4h0M1595.6 1886.8h0M1634 1887h0M1751.9 1887.2h0M1761.9 1887.3h0M1763.7 1886.9h0M1770 1887.2h0M1770.9 1887.1h0M1778.6 1886.8h0M1779.1 1887.5h0M1784.4 1886.6h0M1797.7 1887.1h0M1804.8 1886.8h0M1568.4 1887.8h0M1570.1 1887.8h0M1575.2 1888.2h0M1583.6 1888.3h0M1635.4 1887.6h0M1724.9 1888.5h0M1733.7 1887.7h0M1749.2 1887.8h0M1751.6 1888.2h0M1757.2 1887.9h0M1767.9 1888.4h0M1773.6 1888.1h0M1784.6 1888.3h0M1786.4 1888.1h0M1795.2 1887.6h0M1572.9 1888.6h0M1583.2 1889.1h0M1584.9 1889.4h0M1591.1 1888.5h0M1592 1889.2h0M1595.8 1889.5h0M1597.5 1889.4h0M1603 1889.4h0M1606.4 1889.2h0M1724.8 1889.5h0M1729.9 1888.8h0M1730.4 1888.6h0M1734.4 1889.5h0M1752.8 1888.5h0M1765.5 1889.4h0M1777.3 1889.4h0M1779.4 1888.9h0M1793.8 1889.3h0M1797.3 1888.6h0M1805.2 1888.5h0M1600.7 1889.5h0M1630.3 1889.7h0M1726.2 1889.9h0M1733.4 1889.6h0M1758.2 1890.4h0M1760.6 1890.4h0M1778.7 1890.4h0M1780.2 1889.6h0M1784.1 1890.1h0M1789.1 1890.1h0M1802 1889.6h0M1571.1 1890.6h0M1629.4 1890.6h0M1634.8 1891.2h0M1725.4 1891.3h0M1726 1891.1h0M1729.6 1890.7h0M1753.6 1891.1h0M1761.4 1890.6h0M1762.5 1890.7h0M1763.9 1890.8h0M1779.6 1891.4h0M1785.5 1891.2h0M1793.3 1891.3h0M1567.5 1892.2h0M1585.1 1892.4h0M1585.9 1892h0M1587 1891.7h0M1594.1 1892.1h0M1595.1 1891.9h0M1601.3 1891.6h0M1602.4 1891.6h0M1602.7 1892.2h0M1606.8 1892h0M1628.8 1891.7h0M1634.4 1892.5h0M1730.2 1892.1h0M1774.2 1891.5h0M1778.4 1892h0M1787.5 1891.9h0M1792.7 1892.1h0M1798.1 1892h0M1577.1 1893.3h0M1592.1 1892.7h0M1595.7 1893.2h0M1602.1 1893.3h0M1604.7 1892.7h0M1633.7 1893h0M1724.4 1893.4h0M1734.1 1893.3h0M1734.5 1893.2h0M1750.2 1893.3h0M1777.2 1893.2h0M1781.3 1893h0M1787.1 1893.5h0M1788.9 1892.9h0M1569 1893.7h0M1577.8 1894.4h0M1590.8 1893.6h0M1600.7 1893.9h0M1607.4 1893.7h0M1615.5 1893.9h0M1632.8 1894h0M1633.4 1894.4h0M1724.4 1894.5h0M1744.9 1893.7h0M1745.6 1893.6h0M1751.7 1893.6h0M1752.3 1894.3h0M1757.1 1894.4h0M1762.4 1894.2h0M1769.6 1894.2h0M1794.4 1894.1h0M1802.9 1894h0M1808.3 1893.7h0M1809.8 1894.1h0M1586.1 1894.8h0M1586.7 1894.6h0M1588.5 1895.2h0M1589 1895.4h0M1594.2 1895.1h0M1604.3 1895.2h0M1610.1 1894.8h0M1723.5 1894.8h0M1734.8 1894.6h0M1761.3 1894.6h0M1764.3 1894.7h0M1771.2 1895.4h0M1785.2 1894.5h0M1795.6 1894.8h0M1567.9 1896.5h0M1570.7 1895.7h0M1573.7 1895.7h0M1582.6 1895.8h0M1586.5 1896.4h0M1590.7 1895.8h0M1601 1896.5h0M1611.4 1896h0M1617.8 1895.7h0M1723.5 1896.2h0M1723.8 1895.8h0M1727.9 1896.1h0M1731.1 1896.3h0M1743.6 1895.7h0M1748 1896.3h0M1753 1896.5h0M1760.2 1896.4h0M1768.6 1896.5h0M1785.4 1895.7h0M1796.7 1895.9h0M1565.7 1896.9h0M1571.6 1896.6h0M1573 1897h0M1577.8 1896.5h0M1613.7 1897.2h0M1617.9 1897.5h0M1725.2 1896.6h0M1731.4 1897h0M1743.4 1897.2h0M1753.5 1897.4h0M1757 1896.5h0M1758.1 1897.2h0M1774.9 1896.8h0M1776 1896.7h0M1777.4 1897.4h0M1790.8 1896.8h0M1799 1897.3h0M1556.7 1898.4h0M1597.5 1897.6h0M1606.1 1898h0M1613.1 1897.9h0M1613.9 1898.4h0M1616.3 1897.9h0M1729.8 1898h0M1736.4 1897.5h0M1751.6 1898.4h0M1755.6 1898.5h0M1764.6 1898.2h0M1788.1 1898.1h0M1570.3 1899.4h0M1579.5 1899.1h0M1591.3 1898.9h0M1593.5 1899.3h0M1596.8 1898.8h0M1597.8 1899.2h0M1620.9 1899.1h0M1729.9 1899.3h0M1734.8 1899.2h0M1754.6 1899.3h0M1755.3 1898.5h0M1768.3 1899.1h0M1770.4 1899h0M1775.7 1898.8h0M1791.7 1899.1h0M1582.2 1900.1h0M1584.7 1899.6h0M1596.9 1900.3h0M1616.7 1899.6h0M1621.4 1900.2h0M1734.1 1900.4h0M1744.2 1900.1h0M1745.2 1900h0M1747.9 1899.7h0M1750.3 1900h0M1763.7 1899.8h0M1767 1899.8h0M1772.2 1900.1h0M1790.9 1899.8h0M1563.8 1901.2h0M1565.9 1901.4h0M1591.2 1901h0M1596.7 1901.1h0M1597.5 1901h0M1600.6 1900.6h0M1606.8 1901.4h0M1612.8 1901.2h0M1616.7 1901.4h0M1731 1900.7h0M1749.7 1901.5h0M1755.3 1901.3h0M1761.1 1901.1h0M1773.7 1901.2h0M1780.3 1901.3h0M1791.3 1901.5h0M1792.6 1901.5h0M1797.1 1901.1h0M1568.7 1901.5h0M1595.7 1901.8h0M1601.5 1902.2h0M1617.5 1902.4h0M1619.4 1901.8h0M1621.3 1902h0M1621.9 1901.7h0M1742.2 1902h0M1751.7 1901.6h0M1756.4 1901.7h0M1757.7 1902.1h0M1758.2 1901.9h0M1786.3 1902.5h0M1789.5 1901.8h0M1796.4 1901.8h0M1576 1903.4h0M1583.4 1903.2h0M1587.8 1902.9h0M1592.5 1903h0M1595.6 1903h0M1622.6 1902.9h0M1729.9 1903.1h0M1730.4 1903.4h0M1733.9 1903h0M1734.3 1903.3h0M1758.5 1902.6h0M1761.2 1902.8h0M1763.9 1902.6h0M1791.1 1903h0M1798.7 1902.6h0M1807.1 1902.9h0M1586.4 1903.8h0M1592.9 1903.8h0M1598.9 1904.2h0M1608.2 1904.3h0M1612.2 1903.5h0M1729.6 1903.7h0M1748.7 1904.1h0M1763.2 1904h0M1765 1903.9h0M1766.8 1903.9h0M1775.5 1904.1h0M1776.3 1904.2h0M1779.8 1903.9h0M1802.5 1904.1h0M1806.2 1903.7h0M1574.9 1904.6h0M1578.1 1904.8h0M1582 1904.9h0M1600.5 1905.4h0M1609.2 1905.1h0M1610.4 1905h0M1612.8 1905.3h0M1614.6 1904.6h0M1619.4 1905h0M1730.2 1905.1h0M1733.7 1905.3h0M1740.7 1905h0M1744.9 1904.6h0M1751 1904.6h0M1765.3 1905h0M1776.6 1904.7h0M1791.2 1905.4h0M1800.9 1905.4h0M1597 1906.5h0M1604 1905.7h0M1609.6 1906.4h0M1615.8 1905.7h0M1616 1906.2h0M1623.1 1906.3h0M1731.6 1905.8h0M1732.1 1906.4h0M1742.5 1906.1h0M1744 1906.2h0M1745.4 1905.8h0M1756.7 1906.1h0M1769.8 1906.1h0M1773.2 1906h0M1775.4 1906.4h0M1778.5 1906.1h0M1804.6 1906.5h0M1565 1906.9h0M1572.6 1907.4h0M1593.3 1906.5h0M1611 1906.8h0M1615.9 1907.3h0M1743 1907.3h0M1747.1 1906.7h0M1754.4 1907.4h0M1764 1907.1h0M1768.9 1907h0M1775.9 1906.7h0M1786.7 1906.7h0M1791.2 1906.8h0M1797.6 1907.4h0M1807.6 1907.4h0M1565.3 1908h0M1578.3 1907.6h0M1579.4 1907.8h0M1594.4 1907.6h0M1597.7 1908.1h0M1604.4 1907.7h0M1620.7 1908.2h0M1739.6 1907.6h0M1747 1907.6h0M1758.7 1908.5h0M1764.5 1907.6h0M1766.3 1908.3h0M1770 1908.5h0M1770.5 1907.7h0M1773.7 1908.4h0M1777.1 1908.4h0M1781.4 1907.6h0M1799.9 1907.5h0M1805.8 1907.6h0M1582.4 1909.5h0M1602.7 1909h0M1614.9 1909.1h0M1738.5 1908.9h0M1740.1 1909.4h0M1745.9 1909.5h0M1746.7 1909h0M1749.2 1908.9h0M1757.6 1909.5h0M1760.5 1908.6h0M1762.9 1908.7h0M1773.2 1909.3h0M1794.2 1908.6h0M1541.4 1909.7h0M1567.2 1910.4h0M1574.9 1910.3h0M1583.4 1910.5h0M1587.5 1909.6h0M1595.5 1909.7h0M1600 1910h0M1612.4 1909.9h0M1618.9 1909.6h0M1620.8 1909.9h0M1754.3 1910.3h0M1769 1910.5h0M1779.3 1909.5h0M1787.4 1909.9h0M1788.3 1910.3h0M1586.8 1911.4h0M1590 1911.4h0M1592.7 1910.6h0M1593.7 1910.7h0M1597.1 1911.4h0M1598.1 1910.6h0M1603.1 1911.3h0M1617.3 1910.6h0M1622.1 1910.7h0M1744.5 1911.3h0M1744.8 1910.8h0M1745.2 1910.5h0M1748.5 1910.5h0M1769 1911.4h0M1808.5 1910.7h0M1566.6 1911.5h0M1592.8 1911.5h0M1625.3 1912.4h0M1735.3 1912.3h0M1737.1 1912.5h0M1742.7 1911.9h0M1749.2 1911.8h0M1757.6 1912.4h0M1766.6 1911.7h0M1772.4 1911.8h0M1775.1 1912.4h0M1795.1 1911.8h0M1570.3 1912.5h0M1602.6 1912.6h0M1602.9 1913.4h0M1615.6 1913.4h0M1628.4 1912.7h0M1754.5 1912.8h0M1764 1912.9h0M1777.3 1912.8h0M1779.1 1912.9h0M1784.4 1913.3h0M1574.8 1913.9h0M1589.2 1914.3h0M1596.8 1914.3h0M1599.4 1914.2h0M1599.5 1913.7h0M1614.2 1913.7h0M1619.2 1914.2h0M1622 1913.5h0M1628.1 1914.3h0M1734.4 1913.9h0M1742.4 1914.4h0M1744.4 1913.5h0M1746.3 1913.6h0M1761.1 1914.3h0M1798.2 1914.1h0M1568.4 1915.1h0M1572.7 1914.9h0M1581.7 1915.4h0M1588.5 1915.4h0M1598.4 1915.3h0M1602.3 1914.7h0M1603.1 1915.1h0M1604.8 1915.3h0M1606.3 1915.2h0M1622.4 1914.7h0M1624.4 1914.6h0M1628 1915.3h0M1734 1914.5h0M1738.8 1914.8h0M1739.7 1915.2h0M1741.2 1914.8h0M1746.1 1914.9h0M1747.3 1915h0M1758.2 1914.8h0M1781.7 1915.1h0M1786 1914.6h0M1801 1914.6h0M1572.7 1916h0M1595.6 1916.1h0M1613 1916.2h0M1617.2 1916.1h0M1622.1 1915.8h0M1624.5 1915.8h0M1735.6 1916.1h0M1736 1915.9h0M1771.1 1915.8h0M1784.4 1915.6h0M1789.4 1916.2h0M1833 1916.3h0M1593.3 1917h0M1598.4 1916.9h0M1609.2 1917.4h0M1611.9 1917.2h0M1618.5 1917h0M1621.7 1916.7h0M1742.1 1916.7h0M1760.9 1916.9h0M1768.4 1916.9h0M1775.6 1916.8h0M1782.2 1917.1h0M1789.5 1917.2h0M1808.1 1916.6h0M1808.9 1916.9h0M1576.6 1918.2h0M1582.8 1918.5h0M1600.5 1918.4h0M1603.3 1918h0M1610.5 1918.5h0M1611.3 1918.4h0M1742.8 1918h0M1754.9 1917.9h0M1755.8 1918.1h0M1756.2 1917.8h0M1799.2 1918h0M1575.9 1918.7h0M1592.2 1918.6h0M1592.6 1919.5h0M1601.3 1919.4h0M1607.6 1919.1h0M1619.8 1919.1h0M1621.4 1918.9h0M1778.2 1918.8h0M1785.8 1918.5h0M1576.9 1920.3h0M1578.7 1920.4h0M1583.9 1920h0M1589.3 1920.1h0M1616.2 1919.6h0M1757.9 1920.5h0M1759.9 1919.9h0M1788.3 1920.1h0M1793.8 1919.6h0M1803.8 1920h0M1810.9 1920.5h0M1858.4 1919.9h0M1569.7 1920.7h0M1572.9 1921.2h0M1581.3 1920.8h0M1590.9 1921h0M1594.5 1921h0M1600.9 1921.2h0M1611.9 1921h0M1626.1 1920.6h0M1738.1 1921.4h0M1754.5 1921.1h0M1758.6 1921.4h0M1761.4 1921.4h0M1770 1921.1h0M1784.9 1921.4h0M1584.1 1922.4h0M1605.3 1922.2h0M1607 1922.4h0M1615.4 1922h0M1616.4 1922.1h0M1624.5 1922.1h0M1628.2 1921.6h0M1734.2 1921.5h0M1735.4 1922.4h0M1739.3 1922.4h0M1750 1922h0M1750.7 1922.3h0M1756.8 1922h0M1762.7 1922.1h0M1763.9 1921.7h0M1774.3 1922.1h0M1784.9 1921.9h0M1791.8 1921.7h0M1583 1923.4h0M1602.2 1922.8h0M1613 1923.1h0M1628.2 1923.1h0M1748.5 1922.6h0M1753.3 1923.1h0M1764.1 1922.6h0M1766.2 1923h0M1807.5 1923.2h0M1807.5 1923h0M1577.4 1924.5h0M1581.8 1924.4h0M1589.6 1924.3h0M1600.2 1923.7h0M1602.3 1923.5h0M1603.8 1924.1h0M1609.4 1923.6h0M1612.3 1923.5h0M1618.2 1923.6h0M1621.9 1923.8h0M1628.4 1924.2h0M1732.9 1924.3h0M1739.2 1923.7h0M1745.6 1923.8h0M1751.9 1924.3h0M1756.9 1923.9h0M1763.3 1924h0M1764.4 1924h0M1769 1924.3h0M1788.3 1923.7h0M1792.4 1923.9h0M1568.8 1924.6h0M1595.7 1924.5h0M1597.1 1924.7h0M1603.8 1924.7h0M1605.3 1924.8h0M1613.1 1924.6h0M1619.3 1925.1h0M1625 1924.5h0M1732.5 1924.6h0M1733.5 1925.2h0M1745.2 1924.7h0M1758.9 1925.1h0M1766.6 1924.7h0M1583.8 1925.6h0M1614.8 1926.3h0M1618.4 1926.4h0M1734.7 1925.8h0M1735.5 1926.3h0M1737.1 1925.9h0M1741.8 1926h0M1742.7 1925.9h0M1756.6 1925.6h0M1763 1925.9h0M1607.1 1926.5h0M1623.7 1926.9h0M1624.3 1927h0M1626.1 1926.8h0M1626.4 1927.2h0M1626.7 1927.1h0M1732.8 1927.1h0M1747.2 1926.7h0M1760.9 1926.6h0M1732.8 1928.4h0M1628.4 1929.2h0M1732.6 1929.1h0M1731.1 1930.4h0M1731.8 1929.8h0M1628 1931.2h0M1628.4 1930.6h0M1727.5 1931.1h0M1727.7 1930.6h0M1729.2 1931.1h0M1630.1 1931.8h0M1630.9 1932.1h0M1632.4 1932.2h0M1726.1 1931.8h0M1727 1931.6h0M1632.7 1932.5h0M1635.4 1932.8h0M1636.4 1932.7h0M1637.9 1933.3h0M1720.8 1932.9h0M1721.3 1932.7h0M1722.9 1932.7h0M1639.8 1933.8h0M1641 1933.5h0M1641.3 1933.6h0M1642.3 1934.2h0M1643 1934.3h0M1716.9 1934.1h0M1717.2 1934h0M1718.1 1933.8h0M1718.5 1933.7h0M1645.5 1934.8h0M1648.8 1934.7h0M1649.6 1935h0M1650.4 1935.4h0M1712.2 1935.4h0M1712.2 1934.6h0M1713.6 1934.8h0M1651.3 1936.1h0M1711.1 1935.6h0M1653.3 1936.6h0M1655.8 1936.5h0M1656.2 1936.6h0M1657.9 1936.9h0M1704.7 1936.7h0M1705.2 1937.1h0M1707 1937h0M1708.6 1936.6h0M1658.9 1937.9h0M1660.8 1938.3h0M1661.4 1938h0M1703.7 1937.5h0M1703.7 1938.1h0M1663.3 1938.9h0M1663.9 1938.8h0M1664.2 1939.4h0M1698.1 1939h0M1698.4 1939.5h0M1699.7 1938.5h0M1700.2 1938.5h0M1702.1 1938.5h0M1665.3 1939.8h0M1666.8 1940.1h0M1695.7 1939.9h0M1696.6 1939.9h0M1697.2 1939.6h0M1667.8 1940.5h0M1669 1940.5h0M1669.4 1940.6h0M1670.5 1941.1h0M1693.1 1940.8h0M1695 1940.6h0M1672.2 1941.6h0M1675.2 1941.5h0M1675.2 1942.1h0M1688.2 1942.4h0M1689.5 1941.5h0M1691.2 1941.6h0M1677.3 1943.1h0M1678.6 1943h0M1686.1 1942.6h0M1686.4 1943.2h0M1687.4 1942.7h0M1679.6 1943.6h0M1681.5 1943.7h0M1683.6 1943.6h0" stroke="#619CFF" stroke-width="3.8" stroke-linecap="round" fill="none"/>
<path d="M1669 1790h3M1668 1791h5M1667 1792h7M1666 1793h8M1665 1794h9M1665 1795h9M1665 1796h9M1666 1797h8M1665 1798h8M1665 1799h9M1665 1800h9M1665 1801h9M1665 1802h9M1665 1803h10M1665 1804h10M1664 1805h11M1664 1806h11M1663 1807h12M1662 1808h12M1662 1809h13M1662 1810h13M1661 1811h14M1661 1812h14M1661 1813h13M1662 1814h12M1661 1815h14M1661 1816h14M1661 1817h14M1661 1818h13M1660 1819h15M1660 1820h15M1660 1821h15M1660 1822h15M1660 1823h15M1659 1824h16M1658 1825h17M1657 1826h17M1657 1827h17M1657 1828h18M1656 1829h19M1655 1830h20M1655 1831h20M1655 1832h20M1655 1833h20M1655 1834h20M1655 1835h19M1655 1836h20M1654 1837h21M1653 1838h22M1653 1839h22M1653 1840h22M1653 1841h22M1654 1842h21M1653 1843h22M1652 1844h23M1652 1845h22M1652 1846h23M1651 1847h24M1650 1848h25M1650 1849h25M1650 1850h25M1649 1851h26M1648 1852h27M1648 1853h27M1648 1854h27M1648 1855h27M1648 1856h27M1649 1857h26M1648 1858h27M1647 1859h28M1646 1860h28M1646 1861h28M1646 1862h28M1645 1863h30M1645 1864h30M1645 1865h30M1645 1866h30M1645 1867h30M1644 1868h31M1643 1869h32M1635 1870h3M1643 1870h31M1634 1871h5M1643 1871h31M1633 1872h7M1642 1872h32M1633 1873h7M1641 1873h34M1633 1874h42M1634 1875h41M1635 1876h3M1639 1876h35M1639 1877h35M1640 1878h10M1651 1878h22M1641 1879h8M1654 1879h4M1662 1879h3M1668 1879h4" stroke="#00BA38" stroke-width="1.1" fill="none" shape-rendering="crispEdges"/>
<path d="M1632.9 1601.5h0M1597.3 1639.9h0M1655 1651.6h0M1660.5 1661.1h0M1655 1665.5h0M1669.2 1665h0M1662.5 1675.5h0M1644.8 1688.3h0M1626.6 1688.7h0M1639.4 1693.8h0M1548.9 1695.2h0M1659.8 1706.1h0M1570.8 1707.1h0M1642.9 1710.3h0M1649.2 1713.1h0M1644.8 1718h0M1649.7 1721.6h0M1558.5 1726.3h0M1635.8 1725.9h0M1651.5 1727.2h0M1668.6 1728.4h0M1669 1729.4h0M1654.8 1735.2h0M1620 1737.4h0M1626.8 1741.1h0M1658.6 1740.8h0M1662.6 1741h0M1643.1 1741.7h0M1543.4 1745h0M1563.7 1749.8h0M1652.3 1750.3h0M1660.7 1752h0M1612.2 1752.6h0M1538.1 1755.2h0M1645.7 1754.7h0M1665.9 1754.7h0M1671.5 1755.6h0M1560.1 1757.1h0M1670.3 1757.5h0M1650.4 1758h0M1608.6 1759.6h0M1668.8 1759.8h0M1636.4 1761.5h0M1661.8 1761.8h0M1619.4 1763h0M1637.3 1763.1h0M1644.3 1762.6h0M1645.6 1762.8h0M1663.2 1763.1h0M1502.4 1765.3h0M1617.9 1766.2h0M1592.5 1768.8h0M1638.1 1770.3h0M1608.5 1771.1h0M1655.7 1771.1h0M1663 1771h0M1556.5 1771.5h0M1668.5 1771.6h0M1615.5 1774h0M1600.5 1775.1h0M1637.1 1774.8h0M1655.3 1775h0M1600.4 1776.1h0M1634.4 1775.7h0M1665.3 1776.1h0M1661.1 1777h0M1508.8 1778.3h0M1651.6 1777.5h0M1658 1778.2h0M1658.8 1778.3h0M1669.6 1778.8h0M1653.7 1780h0M1668.6 1779.7h0M1540.7 1780.5h0M1613.9 1781.5h0M1640.3 1781.9h0M1662.8 1782.5h0M1663.1 1781.8h0M1604.8 1784h0M1629.7 1787h0M1636.6 1787.4h0M1631.3 1787.9h0M1663.9 1787.7h0M1638.9 1789.2h0M1667.1 1788.8h0M1672.4 1788.8h0M1603.5 1789.9h0M1669.5 1789.6h0M1671.2 1790.4h0M1671.6 1789.7h0M1563.1 1791.2h0M1591.8 1790.7h0M1629.4 1790.7h0M1636.8 1790.7h0M1640.7 1791.5h0M1672.3 1790.8h0M1634.5 1791.6h0M1669.2 1792h0M1672.4 1791.9h0M1587.1 1792.9h0M1665.2 1792.7h0M1666.9 1792.6h0M1622.8 1793.8h0M1630.4 1793.7h0M1671.7 1794.1h0M1672.3 1794.3h0M1666.4 1795h0M1672.9 1796.4h0M1588.3 1796.7h0M1645.1 1796.6h0M1671.2 1797h0M1595.8 1798.2h0M1625.6 1798h0M1667.2 1798.1h0M1556.5 1799.2h0M1648.4 1799.2h0M1665.9 1799.3h0M1671 1799.5h0M1614.8 1800.4h0M1657.9 1800h0M1672.8 1800.3h0M1610 1801.4h0M1616.3 1800.7h0M1671.5 1801h0M1639.1 1802.4h0M1661.8 1802.1h0M1665.5 1801.6h0M1665.6 1803h0M1672.3 1802.6h0M1639.2 1803.7h0M1672.9 1804.2h0M1650.3 1804.7h0M1672.6 1805.4h0M1585.5 1806.5h0M1608.9 1806.4h0M1658.4 1806.3h0M1665.1 1805.9h0M1659.8 1806.9h0M1664.9 1806.8h0M1672.4 1807.2h0M1599.7 1807.7h0M1664.3 1808.2h0M1652.4 1809.1h0M1655.5 1809.3h0M1663 1809h0M1672.4 1808.7h0M1632.5 1810h0M1643.1 1810.1h0M1657.1 1810.4h0M1672.9 1810.4h0M1601.8 1811.5h0M1654.4 1811.1h0M1562.3 1811.7h0M1604.9 1812.2h0M1616.6 1811.8h0M1636.9 1812.4h0M1662.5 1812.3h0M1672 1812.1h0M1631.2 1813.3h0M1652 1813.2h0M1663.2 1812.5h0M1630.1 1814.1h0M1662.6 1813.5h0M1663.3 1814.5h0M1599.5 1815h0M1671.6 1814.6h0M1672.5 1814.8h0M1483.8 1816.5h0M1662.1 1815.9h0M1672.6 1816.2h0M1628.4 1816.9h0M1631.9 1817.2h0M1653.8 1817.5h0M1646.5 1817.8h0M1657.5 1818.1h0M1661.8 1817.7h0M1661.9 1818.3h0M1672.1 1818h0M1637.7 1819.3h0M1642.9 1819.8h0M1659.5 1819.9h0M1672.6 1820.3h0M1635.8 1821.4h0M1643.4 1820.8h0M1647 1821.1h0M1648.7 1820.8h0M1660.8 1821.1h0M1661 1820.6h0M1562.9 1821.6h0M1661.2 1821.7h0M1672.7 1822.3h0M1568 1823.3h0M1610 1822.9h0M1642.2 1823.3h0M1642.7 1823.3h0M1652.2 1823h0M1654.1 1823.2h0M1617.3 1824.2h0M1656.1 1823.9h0M1661.3 1824h0M1672.6 1823.6h0M1574.9 1825.5h0M1610.6 1825.3h0M1634.9 1824.7h0M1659.3 1824.7h0M1660.4 1824.8h0M1671.7 1824.8h0M1671.9 1825h0M1643.8 1826h0M1654.1 1825.8h0M1655.8 1825.8h0M1658.9 1826.1h0M1659.5 1826.5h0M1616.8 1827.5h0M1616.9 1827.1h0M1632.3 1826.5h0M1650.8 1827.3h0M1658.4 1826.8h0M1671.7 1827.2h0M1671.8 1827.5h0M1644.6 1827.8h0M1645.8 1828.3h0M1672 1827.9h0M1586 1828.8h0M1607.9 1828.5h0M1648.7 1828.6h0M1653.8 1829.3h0M1672.7 1829.3h0M1557.7 1830.4h0M1621.3 1829.6h0M1657.3 1829.9h0M1515.5 1831.3h0M1638.5 1831.3h0M1639.6 1831.4h0M1656.4 1831.5h0M1672.7 1831h0M1605.1 1831.8h0M1672.8 1832.7h0M1576.2 1834.4h0M1597.7 1833.7h0M1622.6 1834.3h0M1656.1 1833.8h0M1585.5 1834.6h0M1597.3 1835.5h0M1627.2 1834.5h0M1656.2 1834.7h0M1672.3 1835.2h0M1607.9 1836.3h0M1632.2 1835.8h0M1650.1 1835.8h0M1672.4 1835.5h0M1593.5 1836.7h0M1638.1 1837.3h0M1672.6 1836.9h0M1552.6 1838.1h0M1557.6 1837.6h0M1602.2 1838.2h0M1619.9 1838.4h0M1621.6 1837.7h0M1643.2 1838.2h0M1651.7 1838h0M1654.9 1837.7h0M1655 1838.2h0M1611 1838.9h0M1623.2 1838.7h0M1650.3 1839h0M1672.8 1838.7h0M1595.2 1840.4h0M1615.6 1840.2h0M1654.4 1840.3h0M1672.8 1839.9h0M1578.6 1840.6h0M1583.5 1840.6h0M1637.9 1842.3h0M1655.4 1842h0M1655.4 1842.4h0M1672.6 1841.7h0M1632 1843.2h0M1650.7 1842.6h0M1654.5 1842.7h0M1672.5 1842.9h0M1578.8 1844.1h0M1618.8 1843.6h0M1637.8 1844.4h0M1640.2 1844h0M1654 1844h0M1671.5 1843.9h0M1671.8 1843.9h0M1559 1845.4h0M1585.2 1845.5h0M1625.6 1844.8h0M1637.9 1844.8h0M1641.9 1845h0M1671.7 1845.2h0M1505.3 1845.6h0M1616 1845.9h0M1626.8 1846.5h0M1627 1845.6h0M1632.6 1845.5h0M1646.7 1846.1h0M1647.5 1845.9h0M1653.4 1846.1h0M1672 1845.8h0M1575 1846.8h0M1598.3 1847h0M1617.3 1846.9h0M1622.6 1846.9h0M1643.8 1846.7h0M1649.2 1847.6h0M1651.8 1847.9h0M1672.6 1847.7h0M1556.3 1849.3h0M1630.1 1849.1h0M1641.6 1849.2h0M1650.9 1849.3h0M1672.8 1849h0M1585.8 1850.2h0M1627 1850.2h0M1629.4 1850.7h0M1636.4 1850.7h0M1650.6 1851.4h0M1651.3 1851h0M1597.9 1852.1h0M1608.4 1851.5h0M1615.7 1851.7h0M1625.8 1851.7h0M1633.2 1851.8h0M1639.2 1852.1h0M1648.1 1852.3h0M1584.4 1852.7h0M1622.5 1852.6h0M1647 1853.5h0M1672.6 1853.2h0M1672.8 1852.6h0M1585.9 1854.2h0M1598.7 1854.4h0M1612.7 1854.4h0M1615.1 1854h0M1633.9 1854h0M1640.8 1854h0M1601.4 1855.3h0M1624.8 1855.1h0M1636.3 1854.9h0M1649.1 1854.8h0M1672.8 1855h0M1595.7 1856.2h0M1611.4 1855.9h0M1616 1856.3h0M1642.7 1855.9h0M1554 1856.8h0M1600.6 1857.2h0M1625.1 1856.6h0M1639.3 1856.6h0M1650.1 1856.6h0M1672.5 1856.8h0M1589 1858.1h0M1612.1 1858.3h0M1625.8 1858.1h0M1642 1857.6h0M1649.8 1857.5h0M1672.7 1858.3h0M1598.6 1859.1h0M1599.1 1859h0M1604.8 1859.3h0M1607 1858.9h0M1628.1 1859.3h0M1631.3 1858.9h0M1647.9 1859.4h0M1648.5 1858.9h0M1649.3 1859.2h0M1581.5 1860h0M1609.7 1860.4h0M1620.4 1859.9h0M1624.6 1860h0M1647.6 1859.7h0M1584.7 1860.6h0M1636.2 1860.7h0M1671.8 1861.3h0M1672 1861.1h0M1672.2 1860.6h0M1574.2 1862.1h0M1591.8 1861.9h0M1603.2 1862h0M1617.8 1862.2h0M1618.8 1861.7h0M1622.8 1862.2h0M1600.4 1863h0M1630.4 1863.3h0M1631.4 1862.8h0M1647.4 1862.9h0M1671.8 1863.4h0M1580.9 1863.8h0M1602.6 1863.9h0M1622.1 1864.1h0M1646.3 1864.2h0M1672.5 1863.5h0M1586.8 1865.3h0M1592.3 1864.7h0M1594.7 1865h0M1609.8 1865.1h0M1617.3 1864.7h0M1619.1 1864.9h0M1624.1 1864.7h0M1633.1 1865.4h0M1646.3 1864.9h0M1672.7 1864.8h0M1581.2 1865.6h0M1623.4 1866h0M1626.3 1865.7h0M1672.5 1866.4h0M1550 1867.3h0M1574.6 1866.7h0M1600.4 1867.1h0M1623.9 1867.3h0M1628.4 1867.3h0M1637.2 1867.3h0M1639.1 1866.6h0M1606.8 1867.7h0M1609.6 1868h0M1626.3 1868.3h0M1635.5 1867.6h0M1639.6 1867.8h0M1646.5 1868.5h0M1672.8 1867.8h0M1568.8 1868.7h0M1611.2 1869.4h0M1627.6 1868.5h0M1643.9 1869.3h0M1644.3 1869.2h0M1671.9 1869.1h0M1578.6 1870.4h0M1672.3 1870.3h0M1580.2 1870.8h0M1634.6 1870.7h0M1636.2 1870.6h0M1671.6 1871.1h0M1603 1872.4h0M1606.6 1871.6h0M1608.4 1872.3h0M1616.8 1872.3h0M1633.4 1872.1h0M1638 1871.6h0M1643.9 1872h0M1671.8 1872.5h0M1567.6 1872.9h0M1592.4 1873.1h0M1620.8 1873.3h0M1642 1872.7h0M1597.8 1873.8h0M1599.6 1873.5h0M1633.5 1874.3h0M1635.5 1873.6h0M1638.4 1874.4h0M1642.4 1874.1h0M1552.6 1874.8h0M1594.4 1874.6h0M1606.5 1875.5h0M1633.5 1875.4h0M1638.8 1874.8h0M1671.9 1875.4h0M1672.1 1875.3h0M1609.8 1875.9h0M1618.8 1876.5h0M1620.5 1875.9h0M1622.7 1875.5h0M1648.7 1876.1h0M1650.5 1875.8h0M1544.3 1876.9h0M1559 1877h0M1566.7 1877.2h0M1575.1 1876.6h0M1582.4 1876.6h0M1610.6 1876.8h0M1617.3 1877h0M1620.1 1877.3h0M1636.7 1876.7h0M1640.3 1876.8h0M1648.1 1876.9h0M1652.7 1877.3h0M1653.5 1877h0M1656.6 1876.6h0M1657.8 1876.7h0M1659.2 1876.6h0M1659.6 1877.2h0M1662.1 1877.1h0M1663.7 1876.5h0M1664.4 1876.5h0M1664.8 1876.8h0M1666.2 1877.2h0M1671.5 1876.5h0M1671.8 1876.8h0M1642.5 1877.6h0M1643 1877.8h0M1646 1877.9h0M1647.3 1877.6h0M1655.8 1877.6h0M1662.7 1877.9h0M1669.1 1877.9h0M1670.4 1877.8h0" stroke="#00BA38" stroke-width="3.8" stroke-linecap="round" fill="none"/>
<path d="M1695 1750h3M1694 1751h5M1693 1752h7M1693 1753h8M1693 1754h8M1692 1755h9M1692 1756h9M1692 1757h10M1691 1758h12M1691 1759h13M1691 1760h13M1691 1761h13M1691 1762h13M1691 1763h13M1692 1764h11M1691 1765h12M1691 1766h12M1691 1767h13M1691 1768h13M1691 1769h13M1691 1770h13M1691 1771h13M1691 1772h13M1691 1773h14M1691 1774h14M1691 1775h14M1691 1776h14M1691 1777h14M1691 1778h14M1691 1779h14M1692 1780h14M1692 1781h14M1691 1782h15M1691 1783h14M1691 1784h14M1691 1785h14M1691 1786h14M1691 1787h14M1691 1788h15M1691 1789h15M1691 1790h15M1691 1791h16M1691 1792h16M1691 1793h16M1691 1794h16M1691 1795h16M1691 1796h16M1691 1797h16M1691 1798h16M1691 1799h17M1691 1800h17M1691 1801h17M1691 1802h17M1691 1803h18M1691 1804h18M1691 1805h18M1691 1806h17M1691 1807h17M1691 1808h17M1691 1809h17M1691 1810h17M1691 1811h18M1691 1812h19M1691 1813h19M1691 1814h19M1691 1815h18M1691 1816h19M1691 1817h20M1691 1818h20M1691 1819h20M1691 1820h19M1691 1821h18M1691 1822h19M1691 1823h19M1691 1824h19M1691 1825h20M1691 1826h20M1691 1827h20M1691 1828h21M1691 1829h21M1691 1830h21M1691 1831h22M1691 1832h22M1691 1833h23M1691 1834h24M1691 1835h24M1691 1836h24M1691 1837h23M1691 1838h23M1691 1839h23M1691 1840h24M1691 1841h25M1691 1842h25M1691 1843h25M1691 1844h25M1691 1845h26M1691 1846h26M1691 1847h26M1691 1848h27M1691 1849h27M1691 1850h27M1691 1851h27M1691 1852h28M1691 1853h29M1691 1854h29M1691 1855h29M1691 1856h28M1691 1857h28M1691 1858h28M1691 1859h29M1691 1860h30M1691 1861h30M1691 1862h31M1691 1863h31M1692 1864h31M1692 1865h32M1692 1866h33M1691 1867h35M1691 1868h36M1691 1869h37M1691 1870h38M1691 1871h39M1691 1872h39M1691 1873h39M1691 1874h38M1691 1875h38M1691 1876h38M1692 1877h37M1693 1878h35M1701 1879h4M1706 1879h3M1711 1879h16" stroke="#F8766D" stroke-width="1.1" fill="none" shape-rendering="crispEdges"/>
<path d="M1721.1 1513.4h0M1702.4 1624.5h0M1714.3 1639.9h0M1722.5 1651.4h0M1697.2 1651.6h0M1697.8 1656.3h0M1779.9 1660.3h0M1696 1660.9h0M1729.5 1662h0M1697.4 1666.1h0M1696.2 1667.8h0M1785.5 1674.2h0M1786.2 1674.9h0M1703.9 1682.3h0M1708.6 1683.3h0M1710.6 1685.9h0M1699.6 1689.8h0M1697.9 1691.4h0M1739 1693.1h0M1692.5 1695.8h0M1694.5 1695.8h0M1718.3 1696.8h0M1700.2 1697.9h0M1700.8 1699.5h0M1710.7 1700.9h0M1697.8 1703.7h0M1693.7 1705.5h0M1704.7 1706.2h0M1706.3 1706.2h0M1718 1707.3h0M1722.5 1706.5h0M1697.5 1708.3h0M1700.4 1708.1h0M1706.4 1707.5h0M1712.6 1711.8h0M1729.6 1717.5h0M1741.1 1717.2h0M1770.8 1718.3h0M1714.1 1720.3h0M1692.4 1720.8h0M1706.3 1722.1h0M1708.9 1727.1h0M1692.5 1728.6h0M1698.5 1730.4h0M1701.7 1730.2h0M1768.4 1730.4h0M1701.9 1737.9h0M1706.4 1738.4h0M1785.9 1737.7h0M1697.2 1739h0M1702.2 1740.1h0M1702.7 1740.9h0M1718.6 1741h0M1694.9 1741.6h0M1712 1742.3h0M1729.9 1742.3h0M1699.3 1743.3h0M1700.1 1743.1h0M1808.3 1743.5h0M1760.1 1745.3h0M1695.2 1747.1h0M1696 1747.4h0M1704.8 1747.5h0M1725.6 1747h0M1695.6 1748.8h0M1695.6 1749h0M1695.9 1748.8h0M1715.7 1749h0M1696.9 1749.7h0M1696.4 1751.3h0M1697.3 1750.6h0M1722.3 1750.8h0M1745.1 1750.7h0M1708.5 1752.1h0M1693.7 1752.6h0M1697.8 1752.9h0M1711.5 1753.1h0M1698.7 1754.2h0M1707.4 1755.5h0M1692.8 1756.2h0M1740.8 1755.7h0M1698.8 1757.4h0M1770.6 1756.8h0M1692.7 1758.4h0M1699.9 1757.7h0M1705 1758.5h0M1702.9 1759.2h0M1705.7 1758.8h0M1720.1 1759.2h0M1692.4 1759.9h0M1702 1760.1h0M1692.2 1761.8h0M1702.3 1762.4h0M1715.6 1762h0M1723.4 1762.2h0M1700.6 1762.5h0M1730.3 1763.1h0M1739.3 1763h0M1692.6 1764.2h0M1692.9 1763.6h0M1701.2 1764h0M1750 1764h0M1700.9 1764.9h0M1761.8 1764.6h0M1692.3 1766h0M1700.8 1766h0M1701 1766.3h0M1701.4 1766h0M1709 1767.1h0M1712.3 1766.9h0M1720.9 1766.9h0M1734.4 1766.6h0M1691.8 1768.3h0M1706 1768.1h0M1736.4 1767.8h0M1692.4 1769.2h0M1701.9 1768.9h0M1702.1 1770.4h0M1707 1769.8h0M1781.4 1769.8h0M1692.1 1770.7h0M1692.5 1772.4h0M1727.5 1772.2h0M1692.3 1773.1h0M1701.9 1772.8h0M1703.5 1773.8h0M1717.9 1774.5h0M1691.8 1775h0M1692.1 1776.2h0M1702.6 1776.9h0M1710.2 1777.3h0M1717.6 1777.1h0M1727.1 1776.7h0M1691.8 1778.3h0M1703.2 1778.3h0M1716.4 1779.2h0M1740 1778.7h0M1692.7 1780.5h0M1703.6 1781.2h0M1703.7 1781.1h0M1716.9 1782.3h0M1691.7 1783.3h0M1702.7 1783h0M1742 1782.5h0M1691.8 1784.7h0M1692 1785.5h0M1711.6 1785h0M1732.9 1785.5h0M1744 1784.6h0M1751.4 1784.7h0M1691.7 1786.3h0M1702.7 1786.1h0M1703.1 1786.3h0M1691.8 1787.3h0M1710.1 1787.3h0M1732.5 1787.2h0M1735.7 1787.1h0M1692.2 1788.4h0M1702.8 1788.4h0M1704.4 1789.4h0M1721.4 1788.9h0M1692.2 1790.5h0M1707.7 1790.2h0M1720 1789.8h0M1795.4 1790.5h0M1691.6 1790.8h0M1711.8 1791.4h0M1718.3 1790.6h0M1753.2 1791.5h0M1692.2 1792.1h0M1705.3 1792.5h0M1691.6 1792.8h0M1704.9 1792.9h0M1705.3 1793.4h0M1735.1 1792.5h0M1692.5 1794.2h0M1710.9 1794.2h0M1717.9 1793.8h0M1691.6 1794.6h0M1704.8 1795h0M1713.5 1794.9h0M1716.9 1794.9h0M1734.2 1794.9h0M1737.6 1794.6h0M1761.6 1795.1h0M1692.3 1796.9h0M1710.3 1796.7h0M1760.3 1796.5h0M1704.8 1798.4h0M1714.4 1798.2h0M1716.8 1798.8h0M1751.3 1798.9h0M1758.6 1799.3h0M1705.6 1800.3h0M1734.7 1800.4h0M1692.1 1800.5h0M1705.6 1800.9h0M1706.5 1801.6h0M1711.2 1802.1h0M1713.7 1801.6h0M1706.2 1803.1h0M1713 1803.3h0M1716.5 1803h0M1734.5 1802.9h0M1692 1804.1h0M1707.8 1803.5h0M1692.3 1804.9h0M1721.8 1804.6h0M1705.8 1805.6h0M1705.5 1806.5h0M1762.4 1807.1h0M1691.7 1808.4h0M1738.4 1808h0M1741.5 1808.2h0M1784.4 1808.5h0M1691.9 1808.7h0M1706.1 1809.1h0M1706.2 1808.8h0M1711.9 1808.6h0M1691.6 1809.9h0M1727.7 1809.8h0M1772.1 1810.4h0M1691.9 1811.4h0M1705.7 1811.4h0M1715 1811.1h0M1732.7 1811.1h0M1707.1 1812.3h0M1708.8 1812.2h0M1710.4 1813.3h0M1727.4 1813.3h0M1728.3 1813.2h0M1691.7 1814.3h0M1707.1 1813.9h0M1748.3 1814.3h0M1771.1 1813.8h0M1706.5 1815.2h0M1711.2 1814.9h0M1735.9 1814.5h0M1756.1 1815.1h0M1691.9 1816h0M1706.8 1815.6h0M1718.1 1816.1h0M1722.1 1815.6h0M1731.5 1815.6h0M1708.1 1816.9h0M1713.3 1817.1h0M1691.8 1817.9h0M1726.5 1817.9h0M1733.7 1818.3h0M1691.6 1818.6h0M1707.9 1819.3h0M1710.6 1818.8h0M1715.4 1818.8h0M1732 1819.2h0M1742 1818.7h0M1692.3 1819.5h0M1707.5 1820.5h0M1798.1 1820.3h0M1691.8 1820.9h0M1729.3 1821h0M1731.9 1821.4h0M1776.6 1821.4h0M1692.5 1822.2h0M1714.5 1821.9h0M1731 1822.2h0M1754.6 1822h0M1708.3 1822.8h0M1717 1822.8h0M1743.9 1822.7h0M1692.4 1824.3h0M1708.1 1824.1h0M1712.8 1823.8h0M1729.6 1824.5h0M1740.7 1823.7h0M1724.1 1825.4h0M1767 1825h0M1780.9 1825.4h0M1691.8 1825.5h0M1708.6 1825.5h0M1715.4 1826.1h0M1735.1 1826.1h0M1750 1826.1h0M1692.1 1827.1h0M1708.8 1826.7h0M1709.1 1826.8h0M1708.6 1827.8h0M1738.9 1827.8h0M1750.4 1828.1h0M1692.3 1829.4h0M1716.3 1829.1h0M1762.2 1828.9h0M1691.6 1829.9h0M1710 1830h0M1710.4 1830.1h0M1692.1 1831.3h0M1710.1 1831.4h0M1715 1831.1h0M1720.4 1830.8h0M1729.5 1830.8h0M1733.6 1830.9h0M1691.9 1831.8h0M1710.7 1832.4h0M1730.1 1832.1h0M1742.9 1832h0M1780.4 1832h0M1692.4 1833.2h0M1764.3 1832.5h0M1782.4 1832.9h0M1713.6 1833.8h0M1716.9 1834.1h0M1726 1834.5h0M1692.2 1835.1h0M1712.6 1835.3h0M1740.7 1834.5h0M1725.5 1836.3h0M1727.5 1835.8h0M1732.4 1836.1h0M1808.4 1835.5h0M1692.1 1836.8h0M1711.8 1836.6h0M1691.6 1837.6h0M1716.1 1838.4h0M1730.3 1838h0M1692 1839.2h0M1712.1 1839.4h0M1715.6 1839.5h0M1720.5 1838.6h0M1745.6 1838.9h0M1691.9 1839.5h0M1716.4 1839.8h0M1738.4 1839.6h0M1749.8 1839.7h0M1691.9 1841.3h0M1712.5 1841.5h0M1716.7 1841.4h0M1722.9 1840.8h0M1774 1841.2h0M1691.6 1841.6h0M1728.2 1842.4h0M1691.9 1842.6h0M1713.6 1842.8h0M1719.5 1843.4h0M1723.7 1842.5h0M1738 1842.7h0M1814.2 1843.2h0M1691.8 1843.9h0M1728.2 1844.1h0M1732.7 1843.6h0M1692 1845.3h0M1731.6 1845.2h0M1739.4 1845.3h0M1785.4 1845h0M1714.5 1846.2h0M1738.1 1846.3h0M1740.9 1846h0M1745.7 1846.3h0M1758.2 1846.2h0M1782.8 1845.8h0M1691.9 1847h0M1719 1847.4h0M1753.2 1846.6h0M1755.8 1847.1h0M1803.3 1846.9h0M1691.8 1847.9h0M1785.1 1848.2h0M1805.7 1847.9h0M1691.7 1848.5h0M1692 1849.4h0M1717.1 1849.4h0M1723.4 1848.5h0M1724.8 1848.9h0M1728.1 1848.9h0M1730.1 1848.7h0M1760.7 1849.2h0M1762.5 1848.6h0M1720.2 1850.2h0M1740.8 1849.9h0M1692.1 1851.5h0M1715.9 1851.3h0M1736.5 1851.2h0M1740.7 1850.7h0M1758.7 1851.1h0M1771.5 1850.8h0M1772.3 1851.1h0M1716 1851.9h0M1726.8 1851.9h0M1740.3 1852.1h0M1691.8 1853.4h0M1718 1853.5h0M1734.1 1852.6h0M1718.5 1853.7h0M1730.9 1853.7h0M1742.2 1853.7h0M1746 1853.9h0M1716.5 1855.2h0M1734.7 1855.3h0M1691.7 1856.2h0M1753.5 1856.3h0M1756.6 1856.5h0M1692.3 1857.3h0M1729.5 1857.1h0M1735.6 1857.2h0M1741.4 1856.8h0M1743.1 1857.3h0M1786.3 1856.9h0M1716.8 1857.8h0M1717.5 1857.7h0M1757.4 1857.5h0M1765.6 1858.1h0M1692 1858.7h0M1720.5 1859.1h0M1728.4 1859.1h0M1729.7 1858.8h0M1738 1858.7h0M1775.2 1859h0M1719.2 1860.2h0M1729.5 1859.9h0M1732.4 1860.4h0M1733.1 1859.8h0M1740.2 1860.2h0M1749 1860.2h0M1750.4 1859.5h0M1751.7 1859.9h0M1767.2 1860.4h0M1692.1 1860.8h0M1692.2 1860.6h0M1730.8 1861.3h0M1732.3 1861.4h0M1744.9 1861.3h0M1754.7 1860.9h0M1756.1 1860.8h0M1781.4 1860.9h0M1691.6 1861.7h0M1719.4 1862h0M1727.7 1862.2h0M1750 1861.8h0M1751.3 1861.7h0M1773.8 1862.1h0M1692.7 1862.6h0M1719.6 1863.4h0M1724.2 1863h0M1726.5 1862.8h0M1740.5 1863.2h0M1742.8 1862.8h0M1759.3 1862.8h0M1692.5 1864.1h0M1693.2 1864.3h0M1719.9 1864.4h0M1734.1 1863.8h0M1735.8 1863.6h0M1738.5 1863.8h0M1727.8 1864.7h0M1730.9 1864.9h0M1731.1 1864.5h0M1762.6 1864.8h0M1763.9 1865.4h0M1722.2 1865.8h0M1730.2 1865.6h0M1780.9 1866.5h0M1693.2 1867.1h0M1722.7 1866.9h0M1724.9 1867.5h0M1747.9 1867h0M1750 1866.9h0M1785.1 1866.7h0M1692 1867.6h0M1729.6 1868.5h0M1736.2 1867.7h0M1741.6 1868.4h0M1742.6 1868.4h0M1764.8 1867.5h0M1692.4 1869.2h0M1724.8 1869.2h0M1734 1869.3h0M1738.3 1869.3h0M1739.8 1869.4h0M1747.4 1869.1h0M1755.8 1869.5h0M1794.5 1869.4h0M1728.1 1870.1h0M1729.5 1871.1h0M1752.1 1871.2h0M1692.2 1871.8h0M1729.8 1872.4h0M1739.5 1872h0M1742.6 1872h0M1692.4 1873.1h0M1736.3 1873.3h0M1739.7 1873.4h0M1772 1872.9h0M1799.4 1872.5h0M1727 1873.8h0M1733.6 1874.3h0M1749.5 1874.3h0M1766.3 1873.7h0M1773.2 1874.3h0M1780.9 1874h0M1810.7 1873.8h0M1740.8 1875.3h0M1741.8 1875.2h0M1746.5 1874.9h0M1748.1 1874.7h0M1757 1874.5h0M1770.8 1874.5h0M1801.6 1875.1h0M1692.5 1875.7h0M1726.9 1876.1h0M1740.8 1876h0M1741.3 1875.9h0M1747 1876h0M1749.2 1875.9h0M1765.2 1876.4h0M1694.2 1877.1h0M1695.7 1877.1h0M1696.6 1876.8h0M1697.9 1876.8h0M1698.8 1877.1h0M1699.1 1876.6h0M1699.8 1877.1h0M1704.7 1876.8h0M1705.6 1877h0M1709 1877.1h0M1710.1 1876.9h0M1725.8 1877.3h0M1732.7 1876.7h0M1742 1876.7h0M1758.9 1876.7h0M1771.5 1877h0M1780.2 1877.3h0M1692.7 1877.8h0M1702.9 1877.9h0M1706.8 1877.9h0M1711.8 1877.8h0M1713.6 1877.9h0M1716.9 1877.7h0M1717.8 1877.9h0M1719.7 1877.8h0M1722.3 1877.9h0M1722.8 1877.5h0M1726.7 1877.6h0" stroke="#F8766D" stroke-width="3.8" stroke-linecap="round" fill="none"/>
<rect x="1463.8" y="1492.3" width="414.3" height="474.3" fill="none" stroke="#d8d8d8" stroke-width="1.2"/>
<path d="M1682.1 1492.3V1966.6M1463.8 1877.9H1878.1" stroke="#2a2a2a" stroke-width="1.5" stroke-dasharray="3.6 2.2 1.2 2.2" fill="none"/>
<path d="M1478.7 1966.6v3M1580.4 1966.6v3M1682.1 1966.6v3M1783.8 1966.6v3M1463.8 1944.5h-3M1463.8 1842.1h-3M1463.8 1739.7h-3M1463.8 1637.3h-3M1463.8 1534.9h-3" stroke="#444" stroke-width="1" fill="none"/>
<g font-size="9.1" fill="#444">
<text x="1478.7" y="1978" text-anchor="middle">-6</text>
<text x="1580.4" y="1978" text-anchor="middle">-3</text>
<text x="1682.1" y="1978" text-anchor="middle">0</text>
<text x="1783.8" y="1978" text-anchor="middle">3</text>
<text x="1459.2" y="1947.8" text-anchor="end">0</text>
<text x="1459.2" y="1845.4" text-anchor="end">2</text>
<text x="1459.2" y="1743" text-anchor="end">4</text>
<text x="1459.2" y="1640.6" text-anchor="end">6</text>
<text x="1459.2" y="1538.2" text-anchor="end">8</text>
</g>
<text x="1686" y="1476" font-size="42.6" text-anchor="middle">Aβ vs Aβ+3-BP</text>
<text x="1685" y="2016" font-size="28" text-anchor="middle">log2FoldChange</text>
<text transform="translate(1436.4 1740.4) rotate(-90)" font-size="28" text-anchor="middle">-log10(p value)</text>
<text x="1910.3" y="1653.9" font-size="20" fill="#111">Significant</text>
<rect x="1910.3" y="1668.2" width="30" height="31" fill="#f3f3f3"/>
<circle cx="1925.3" cy="1683.7" r="3.4" fill="#F8766D"/>
<text x="1950.8" y="1690.2" font-size="16" fill="#111">UP</text>
<text x="2010.2" y="1690.9" font-size="17.3" fill="#111">1209</text>
<rect x="1910.3" y="1703.2" width="30" height="31" fill="#f3f3f3"/>
<circle cx="1925.3" cy="1719.2" r="3.4" fill="#00BA38"/>
<text x="1950.8" y="1725.7" font-size="16" fill="#111">DOWN</text>
<text x="2016" y="1726.4" font-size="17.3" fill="#111">801</text>
<rect x="1910.3" y="1738.2" width="30" height="31" fill="#f3f3f3"/>
<circle cx="1925.3" cy="1752.7" r="3.4" fill="#619CFF"/>
<text x="1950.8" y="1759.2" font-size="16" fill="#111">NO</text>
<text x="2006" y="1759.9" font-size="17.3" fill="#111">17786</text>
<path d="M112 2577h43M156 2577h20M177 2577h12M193 2577h22M238 2577h14M254 2577h14M269 2577h3M110 2578h107M236 2578h38M291 2578h3M298 2578h3M302 2578h3M341 2578h1M109 2579h109M235 2579h40M289 2579h18M339 2579h5M109 2580h109M235 2580h40M288 2580h20M338 2580h7M108 2581h111M234 2581h42M288 2581h21M337 2581h9M108 2582h111M234 2582h42M282 2582h3M287 2582h22M337 2582h10M108 2583h111M234 2583h42M280 2583h30M336 2583h11M108 2584h112M234 2584h43M279 2584h32M337 2584h11M108 2585h112M234 2585h44M279 2585h32M337 2585h11M108 2586h112M234 2586h78M338 2586h11M107 2587h113M233 2587h79M334 2587h1M339 2587h9M106 2588h114M233 2588h61M295 2588h16M332 2588h5M341 2588h7M106 2589h115M233 2589h59M295 2589h17M327 2589h2M330 2589h10M342 2589h5M105 2590h116M233 2590h61M296 2590h17M314 2590h3M318 2590h1M325 2590h17M344 2590h1M105 2591h116M232 2591h54M288 2591h7M296 2591h25M324 2591h19M106 2592h115M232 2592h64M297 2592h25M324 2592h19M106 2593h115M232 2593h64M299 2593h23M323 2593h21M107 2594h115M232 2594h65M301 2594h42M109 2595h113M232 2595h65M302 2595h41M111 2596h111M231 2596h65M303 2596h39M113 2597h109M231 2597h66M304 2597h37M115 2598h107M231 2598h47M282 2598h15M304 2598h35M116 2599h107M231 2599h47M281 2599h16M305 2599h5M311 2599h26M118 2600h105M231 2600h48M282 2600h16M307 2600h29M120 2601h104M231 2601h48M282 2601h20M306 2601h28M122 2602h102M231 2602h49M283 2602h49M123 2603h101M230 2603h49M282 2603h1M284 2603h46M125 2604h99M230 2604h49M280 2604h49M128 2605h96M230 2605h48M279 2605h49M130 2606h94M230 2606h96M132 2607h93M230 2607h94M134 2608h91M229 2608h90M135 2609h90M229 2609h88M137 2610h88M229 2610h86M139 2611h86M228 2611h86M142 2612h84M228 2612h84M144 2613h82M228 2613h82M146 2614h80M228 2614h80M148 2615h78M227 2615h78M151 2616h75M227 2616h53M281 2616h22M154 2617h72M227 2617h73M156 2618h142M160 2619h135M162 2620h130M164 2621h125M167 2622h116M284 2622h1M170 2623h112M173 2624h107M177 2625h99M183 2626h89M185 2627h3M189 2627h78M191 2628h71M197 2629h59M205 2630h43M223 2631h15" stroke="#619CFF" stroke-width="1.1" fill="none" shape-rendering="crispEdges"/>
<path d="M110.4 2579.4h0M113.7 2579.3h0M114.4 2579.3h0M115.7 2579.5h0M117.9 2579.3h0M119.4 2579.5h0M121.3 2579.3h0M122.8 2579.4h0M124.6 2579h0M127 2579.4h0M128.9 2579.3h0M130.3 2579.2h0M133.4 2579.3h0M135.1 2578.9h0M137.8 2579.3h0M140.7 2579.1h0M144.9 2579.3h0M146.6 2579.3h0M147.2 2579.1h0M150.1 2579.4h0M151.6 2578.8h0M153 2579.1h0M156.7 2579h0M158.7 2579.4h0M159.7 2579.4h0M162.6 2579.4h0M164.1 2579.3h0M164.9 2579.2h0M167.4 2579h0M169.1 2578.8h0M170.1 2579h0M172.4 2579.3h0M173.9 2579.4h0M178.2 2579.1h0M180.4 2579.4h0M182.4 2579.1h0M184.7 2579.3h0M186.4 2579.5h0M194.2 2579.4h0M194.6 2578.9h0M197.7 2579.1h0M198.4 2578.9h0M200.7 2579.3h0M201.7 2578.8h0M205.2 2579.1h0M208.2 2579.1h0M209.5 2579.1h0M210.9 2579.4h0M213.6 2579.2h0M215.4 2579.3h0M237.9 2579.2h0M240.5 2579.3h0M241.5 2579.3h0M243.8 2578.8h0M245.8 2579.1h0M248.8 2579h0M250.3 2579.3h0M254.7 2579.5h0M257.8 2579.3h0M259.5 2579.1h0M261.1 2578.9h0M262.9 2578.9h0M264.5 2579.4h0M270.1 2579.1h0M272.6 2579.1h0M273.1 2579.5h0M109.9 2579.7h0M111.6 2580.1h0M112.1 2579.6h0M155.4 2579.6h0M155.8 2579.8h0M176.7 2580.3h0M188.4 2580.2h0M190.3 2579.8h0M191.7 2580.5h0M192.8 2580.2h0M215.1 2579.6h0M215.7 2579.8h0M250.5 2580h0M253.5 2580.4h0M253.8 2579.5h0M267 2580.1h0M268.2 2580.1h0M272.5 2579.8h0M292.2 2579.6h0M298.8 2580h0M302.5 2579.7h0M315.9 2579.8h0M320.3 2579.7h0M339.9 2580.4h0M110.3 2581.3h0M236.8 2581.2h0M273.1 2580.9h0M282.3 2581h0M282.5 2581.5h0M290.1 2581.4h0M295.4 2581.4h0M306.3 2581.2h0M329.8 2581.4h0M343.1 2581h0M350 2581h0M110.2 2581.8h0M236.4 2582.2h0M273.1 2582.4h0M280.1 2581.5h0M216.2 2582.8h0M236.2 2582.9h0M272.8 2582.9h0M280.4 2583.4h0M306.2 2582.6h0M318.9 2582.6h0M319.7 2583.4h0M324.4 2583h0M331.6 2582.8h0M337.1 2583.1h0M344.1 2582.8h0M110 2584.5h0M110.3 2583.9h0M272.8 2583.6h0M273.4 2583.6h0M288 2583.5h0M320.5 2583.5h0M350.6 2583.9h0M216.5 2584.6h0M236 2584.6h0M284.9 2584.8h0M285.6 2585.2h0M307.7 2584.6h0M313 2585.4h0M331 2584.5h0M334.1 2585.4h0M339 2584.5h0M341.2 2585.1h0M109.7 2586.2h0M216.6 2586.5h0M217.3 2586.4h0M235.9 2586.2h0M275 2586.3h0M280.7 2585.6h0M291.9 2585.9h0M309.1 2586.1h0M346.3 2586h0M110 2586.7h0M235.9 2587.2h0M318.6 2586.9h0M216.8 2587.9h0M217.2 2587.8h0M277.6 2587.8h0M286.4 2587.6h0M288.9 2588.5h0M342.9 2587.8h0M235.5 2588.6h0M333.7 2589.1h0M106.2 2590.1h0M107.9 2589.8h0M217.9 2589.7h0M295.7 2589.9h0M320.5 2590.1h0M326.2 2590.4h0M107.7 2590.8h0M235.2 2591h0M289.8 2590.8h0M300.3 2591.3h0M309.8 2591.2h0M331.4 2590.9h0M337.8 2590.8h0M343 2591h0M344.4 2590.9h0M217.8 2592h0M234.4 2591.6h0M283.3 2592.2h0M292.5 2592.3h0M302.4 2591.8h0M330 2592.4h0M341.8 2592.4h0M343.6 2592.5h0M111.3 2592.5h0M234.2 2593h0M313.3 2592.5h0M325.6 2593.4h0M340.5 2592.8h0M111.2 2593.6h0M112.8 2593.7h0M218.4 2594.3h0M284.7 2593.7h0M286.8 2594.5h0M294.4 2594.2h0M304.1 2593.7h0M340.8 2593.8h0M114.4 2595h0M115 2595.4h0M218.8 2595.2h0M279.4 2595.5h0M280.4 2594.7h0M280.6 2595.5h0M319.8 2594.9h0M324 2595.4h0M338.2 2595.2h0M338.8 2595.3h0M115.6 2595.7h0M233.7 2595.7h0M310.3 2595.8h0M321.9 2596h0M336.7 2596.3h0M117.5 2596.6h0M118 2597.5h0M233.5 2597.4h0M275.3 2596.9h0M334.9 2596.9h0M335 2597.3h0M120.3 2598.4h0M219 2598.4h0M275.5 2597.6h0M294.2 2598.2h0M306.4 2597.5h0M333.8 2598.3h0M120.7 2599.1h0M122.1 2598.9h0M218.6 2599.1h0M275.2 2599.5h0M331.6 2599.5h0M123.1 2600.3h0M219.6 2599.6h0M232.6 2600.2h0M274.7 2600.1h0M283.1 2599.6h0M312.6 2600.3h0M328.9 2600.2h0M329.7 2599.9h0M123.6 2600.5h0M125.3 2601.4h0M219.5 2600.8h0M233.2 2601h0M276.5 2600.6h0M308.3 2601.4h0M327.5 2601.4h0M126.2 2602h0M128 2601.7h0M220.5 2601.5h0M278.7 2602.4h0M279.5 2601.5h0M285.7 2602.3h0M296.1 2601.7h0M326.7 2602.2h0M130.1 2603.2h0M233.5 2603.1h0M299.4 2603.2h0M325.8 2602.6h0M130.8 2604h0M131.7 2604.2h0M132.3 2603.6h0M220.6 2604.4h0M231.9 2603.9h0M274.9 2603.8h0M275.3 2604.2h0M303.9 2604.4h0M323.8 2603.6h0M133.6 2605.2h0M231.7 2605.3h0M281.2 2604.8h0M318.6 2604.9h0M320.8 2604.8h0M134.7 2606.4h0M220.6 2605.8h0M281.7 2606.4h0M283.1 2605.5h0M283.6 2605.6h0M317.4 2605.8h0M135.8 2606.8h0M137.1 2607.5h0M232.2 2607h0M314.4 2607.3h0M315.4 2606.9h0M137.9 2607.7h0M138.9 2607.7h0M222 2608.1h0M279.1 2608h0M313.2 2608.1h0M140.9 2608.9h0M141.2 2609.5h0M142.4 2609.2h0M222.2 2609.5h0M231 2608.9h0M311.3 2609.1h0M142.7 2609.8h0M309.3 2609.7h0M311.2 2609.9h0M145 2610.7h0M145.3 2611.2h0M145.8 2610.5h0M306.8 2611.2h0M307.8 2610.6h0M147.5 2611.8h0M221.9 2611.6h0M230.4 2612.1h0M303.8 2612h0M305.7 2612h0M149.3 2612.9h0M150 2612.6h0M150.5 2613.1h0M222.8 2612.6h0M279.3 2612.7h0M280.9 2612.6h0M281 2613.4h0M301.5 2612.6h0M152.8 2613.6h0M154.3 2613.5h0M222.8 2613.8h0M230.4 2614.4h0M300.5 2614.1h0M155.6 2615h0M276.5 2614.5h0M297.8 2614.6h0M157.3 2616.2h0M158.4 2616.4h0M158.8 2615.6h0M160.3 2616h0M223.3 2616h0M229.3 2615.9h0M296 2616.1h0M160.8 2616.6h0M161.6 2616.6h0M223 2617.5h0M229.4 2617.1h0M282.5 2616.8h0M291 2617.2h0M292.8 2616.8h0M162.8 2617.8h0M288.6 2617.9h0M288.9 2618.4h0M290.2 2618h0M165.1 2618.7h0M167.5 2619h0M224.2 2618.7h0M279.4 2619h0M285.4 2618.6h0M287.3 2618.7h0M169.3 2620.2h0M169.6 2619.7h0M280.7 2619.6h0M281.8 2619.5h0M283.2 2619.9h0M171.1 2620.6h0M172.1 2621h0M173.5 2621.4h0M279.4 2620.6h0M280.3 2621.2h0M174.4 2621.5h0M175.2 2621.6h0M177.2 2621.7h0M276.2 2622h0M277.3 2621.8h0M179.9 2623h0M181.5 2623.3h0M181.8 2622.6h0M182 2623.1h0M271.1 2622.7h0M271.7 2623.3h0M271.9 2623.1h0M273.2 2623h0M185.1 2624.2h0M188.9 2624.2h0M189.2 2624.4h0M266.6 2624.1h0M268.9 2623.7h0M270.1 2623.7h0M186.2 2624.6h0M190.8 2625.1h0M191.3 2624.8h0M260.6 2625.1h0M260.7 2624.7h0M262.3 2625.3h0M263.4 2624.8h0M264.3 2624.9h0M193.4 2625.8h0M194.5 2626.1h0M196.2 2626h0M255.5 2626h0M257.2 2625.9h0M258 2625.6h0M197.8 2626.7h0M199.5 2626.9h0M200 2626.7h0M200.7 2627h0M201.8 2626.7h0M202.5 2627.4h0M204.4 2626.9h0M248.6 2627.3h0M250.3 2627.1h0M252.9 2626.9h0M253 2626.7h0M205.6 2627.6h0M207.8 2627.6h0M210.9 2627.9h0M211.8 2628.3h0M215 2627.8h0M217 2628.2h0M218.9 2627.9h0M221.8 2628h0M223.3 2628.3h0M237.5 2627.7h0M239 2627.8h0M241.3 2628.2h0M243.1 2627.9h0M244 2627.7h0M245.8 2627.8h0M224.3 2628.8h0M226.1 2628.7h0M229.1 2628.5h0M230.6 2628.5h0M232 2628.5h0M233.2 2628.6h0M235.6 2628.5h0" stroke="#619CFF" stroke-width="5" stroke-linecap="round" fill="none"/>
<path d="M205 2465h1M203 2466h5M202 2467h7M202 2468h7M201 2469h9M202 2470h7M202 2471h7M203 2472h5M205 2473h1M207 2499h2M205 2500h6M204 2501h8M204 2502h8M203 2503h10M204 2504h8M204 2505h8M205 2506h7M206 2507h7M206 2508h8M205 2509h10M202 2510h1M205 2510h10M200 2511h16M199 2512h17M199 2513h17M198 2514h18M198 2515h18M198 2516h18M199 2517h17M199 2518h17M200 2519h16M202 2520h14M201 2521h15M200 2522h16M200 2523h16M199 2524h18M200 2525h17M200 2526h17M200 2527h17M200 2528h17M199 2529h18M199 2530h18M199 2531h18M189 2532h1M200 2532h17M187 2533h5M199 2533h18M186 2534h7M199 2534h18M186 2535h7M198 2535h19M185 2536h9M198 2536h19M185 2537h9M197 2537h20M186 2538h7M195 2538h22M186 2539h7M194 2539h23M187 2540h5M194 2540h23M189 2541h1M193 2541h24M194 2542h23M193 2543h24M192 2544h25M192 2545h26M190 2546h28M189 2547h29M189 2548h28M179 2549h1M188 2549h30M177 2550h5M188 2550h30M175 2551h8M188 2551h31M174 2552h9M188 2552h31M174 2553h10M188 2553h31M165 2554h1M173 2554h11M188 2554h31M163 2555h5M173 2555h10M188 2555h31M162 2556h8M173 2556h11M188 2556h31M157 2557h1M161 2557h10M173 2557h12M188 2557h31M155 2558h5M161 2558h11M174 2558h11M188 2558h31M154 2559h18M174 2559h12M189 2559h30M154 2560h31M187 2560h1M189 2560h30M153 2561h66M154 2562h65M154 2563h28M184 2563h35M155 2564h25M183 2564h36M156 2565h24M183 2565h36M154 2566h27M183 2566h36M153 2567h28M182 2567h38M153 2568h67M142 2569h2M152 2569h68M140 2570h6M152 2570h68M139 2571h8M152 2571h67M139 2572h8M150 2572h70M138 2573h82M139 2574h81M139 2575h81M140 2576h80M142 2577h2M147 2577h73M147 2578h72M148 2579h13M162 2579h57M150 2580h1M153 2580h3M157 2580h2M164 2580h3M169 2580h4M174 2580h44M180 2581h24M205 2581h4M212 2581h4" stroke="#00BA38" stroke-width="1.1" fill="none" shape-rendering="crispEdges"/>
<path d="M173.5 2185.8h0M177.1 2247.5h0M173.5 2291.8h0M179.5 2344.5h0M163.8 2353.4h0M190.3 2353.4h0M175.9 2393.9h0M172.3 2399.6h0M115.6 2405.4h0M167.5 2405.4h0M173.5 2407.4h0M161.4 2409.3h0M162.6 2420.8h0M165 2424.7h0M198.8 2426.6h0M171.1 2434.3h0M180.7 2434.3h0M107.2 2437.4h0M192.9 2438.9h0M148.2 2445.9h0M92.7 2449.1h0M200.5 2449.5h0M169 2454.8h0M127.7 2455.5h0M192.2 2457.8h0M180.7 2461.3h0M177.1 2463.2h0M202.4 2463.2h0M190.3 2465.1h0M189.4 2466.3h0M204.8 2467.1h0M202.5 2467.7h0M207.5 2468.9h0M203.8 2469.9h0M161.4 2470.9h0M184.5 2472.3h0M206 2472.8h0M209.9 2473.4h0M196.3 2475.2h0M209.5 2475.4h0M209 2477.2h0M171.1 2478.6h0M201.7 2479.4h0M201.7 2480h0M206.3 2479.7h0M204.9 2481.4h0M172.7 2483.6h0M204.5 2484.3h0M199 2484.6h0M199.8 2485.4h0M191.8 2487.2h0M203.9 2487.3h0M209.8 2486.6h0M196.6 2488.1h0M162.9 2489.3h0M203.5 2489.4h0M209.9 2488.5h0M71.1 2490.2h0M133.5 2489.7h0M201.9 2489.7h0M205.8 2489.5h0M118.1 2490.6h0M179.3 2491.8h0M201.2 2492h0M103.6 2494h0M202.7 2495.1h0M211.3 2495.1h0M193.8 2495.8h0M191.9 2497.2h0M210.2 2496.9h0M96.4 2497.9h0M163.2 2498.2h0M210.8 2498.3h0M202.6 2499.4h0M211.8 2499.3h0M125.3 2499.8h0M200.5 2500.2h0M208.2 2500.7h0M196.9 2502.3h0M200.1 2502.4h0M209.5 2502h0M187.2 2503.4h0M203.8 2503h0M205.9 2503h0M187.9 2503.9h0M209.1 2504.3h0M179.8 2506.2h0M194.2 2506.3h0M197.2 2507.3h0M207.6 2507.7h0M199.7 2508.7h0M207 2509.2h0M208.3 2509.3h0M211.6 2509.3h0M183.6 2509.7h0M171 2510.9h0M207.1 2510.8h0M207.4 2511.3h0M211.7 2510.8h0M174.1 2512h0M181.3 2512.4h0M205.9 2511.7h0M212.7 2512h0M194.5 2513.5h0M201.9 2513.5h0M199.8 2513.9h0M213.2 2515.4h0M106.7 2516.2h0M200.6 2516.8h0M212.6 2516.6h0M196.1 2518.4h0M197.4 2518h0M197.8 2518.1h0M186.5 2519.5h0M187.5 2520.2h0M190 2519.8h0M212.7 2519.6h0M160.2 2520.6h0M185.4 2520.5h0M192.6 2521.4h0M203.7 2521h0M212.5 2520.8h0M193.6 2522.8h0M197.5 2523.4h0M201.8 2523.4h0M212.6 2522.9h0M94.4 2524.1h0M147.8 2523.9h0M212.8 2523.5h0M201.6 2525.1h0M213.9 2525.2h0M97.8 2525.8h0M120.7 2527.4h0M159.2 2526.8h0M181.3 2527h0M202.3 2527.2h0M202.5 2526.6h0M185.8 2527.7h0M213.6 2528.2h0M152.8 2529h0M187.8 2529.5h0M195.7 2530h0M201.4 2529.9h0M202.2 2530.8h0M213.6 2531.4h0M149.1 2532.5h0M194.8 2532.5h0M202.2 2533.3h0M214.2 2532.9h0M177.9 2533.9h0M186.1 2533.6h0M192.3 2533.9h0M213.8 2534h0M158.9 2534.9h0M187.7 2535.2h0M191.2 2535.3h0M193.2 2534.9h0M200.2 2535.3h0M175.7 2536.3h0M178.8 2535.7h0M214 2536.3h0M186.7 2537.5h0M199.6 2537.2h0M160 2538.2h0M190.4 2537.7h0M199.1 2538.2h0M214.2 2537.7h0M121.1 2540.1h0M189.4 2540.1h0M195.2 2539.6h0M213.7 2539.7h0M186 2541h0M183.3 2541.7h0M196.2 2542.1h0M213.7 2541.6h0M142.9 2543.3h0M166 2543.3h0M161.5 2544h0M195.1 2543.5h0M213.6 2543.8h0M160.7 2545h0M168.7 2545h0M173.1 2545h0M194.2 2545.2h0M213.7 2545.3h0M113.3 2545.9h0M177.6 2546.2h0M129.9 2547.1h0M186.5 2546.5h0M213.8 2547.4h0M185.2 2547.7h0M189.7 2548.3h0M154.6 2548.6h0M181.3 2549h0M184.1 2548.7h0M214.5 2549.6h0M179.6 2551h0M215.2 2550.6h0M215.5 2551h0M142.6 2552.3h0M174.3 2551.6h0M176.5 2552h0M181.6 2551.6h0M190 2552.7h0M215.6 2552.8h0M215.7 2554.4h0M127.9 2554.6h0M164.6 2555.2h0M190.1 2555.4h0M174.5 2555.9h0M180.3 2555.7h0M215.9 2556.5h0M189.6 2557.3h0M118.7 2557.8h0M163.1 2558.1h0M169.1 2558.2h0M181.8 2558.2h0M117.6 2559.5h0M141.8 2559.1h0M156.7 2558.9h0M175.7 2558.7h0M216.1 2559.4h0M148.1 2560.3h0M157.8 2559.8h0M162.5 2560.1h0M191.3 2559.7h0M121.3 2561.4h0M149.1 2561.4h0M154.2 2560.7h0M169.9 2561.2h0M175 2561h0M179.5 2560.7h0M180.3 2561.3h0M185.4 2560.8h0M215.7 2561.3h0M99.6 2561.8h0M109.8 2562.1h0M124.4 2562.3h0M133.4 2563.3h0M136.6 2563.4h0M156.6 2562.5h0M177.1 2563.3h0M187.3 2563.4h0M215.9 2563.2h0M126 2563.9h0M145 2565.3h0M150.1 2564.9h0M184.6 2565.1h0M216.2 2565.4h0M142.9 2565.9h0M215.9 2566.4h0M178.1 2566.9h0M215.9 2567.3h0M133.1 2568.4h0M145.1 2568h0M153.2 2568h0M155.9 2568.1h0M183.8 2568.5h0M216.7 2569.2h0M136.2 2570.3h0M180.8 2570.4h0M132.1 2571.1h0M119.5 2572.3h0M140.8 2571.7h0M142.8 2571.8h0M143.6 2572.5h0M216.1 2571.7h0M140.3 2572.7h0M145.5 2573.1h0M153.1 2573.2h0M216.6 2572.7h0M102.5 2573.7h0M144.1 2573.7h0M149.9 2573.6h0M217.1 2573.7h0M131.4 2574.7h0M148.4 2574.9h0M216.5 2575.3h0M102.2 2575.7h0M136 2576.4h0M107.4 2577.3h0M110.8 2576.7h0M116.8 2577.2h0M131.2 2576.8h0M150.5 2577.2h0M158.5 2577.2h0M168 2577.2h0M172.1 2577.1h0M216.9 2576.6h0M217.3 2576.6h0M124.9 2578.2h0M137 2577.7h0M140.8 2577.8h0M148.7 2578.2h0M153.5 2577.6h0M154.1 2578.3h0M158.4 2578.4h0M163.8 2578.3h0M165.4 2577.7h0M170.9 2578h0M175.2 2578.2h0M177.1 2577.8h0M178.3 2577.7h0M179.1 2578.2h0M202.8 2577.5h0M204.1 2578.1h0M204.2 2577.5h0M205 2577.5h0M209.4 2577.5h0M209.9 2578h0M211.2 2578h0M211.6 2577.6h0M216.8 2578.3h0M217.1 2577.8h0M181 2578.5h0M184.7 2578.5h0M187 2578.7h0M188.5 2578.5h0M191.6 2578.6h0M194.8 2578.8h0M196.2 2578.8h0M198.3 2578.8h0M200.1 2578.7h0M202.5 2578.5h0M206.2 2578.6h0M207 2578.6h0M213.4 2578.8h0M214 2578.5h0" stroke="#00BA38" stroke-width="5" stroke-linecap="round" fill="none"/>
<path d="M254 2434h1M252 2435h5M251 2436h7M251 2437h7M250 2438h9M251 2439h7M251 2440h7M252 2441h5M254 2442h1M249 2468h1M247 2469h5M246 2470h7M245 2471h8M245 2472h9M244 2473h9M244 2474h9M243 2475h9M243 2476h9M243 2477h10M243 2478h11M243 2479h11M243 2480h12M244 2481h12M244 2482h12M245 2483h12M247 2484h1M249 2484h7M249 2485h7M248 2486h9M249 2487h7M249 2488h7M250 2489h5M245 2490h2M252 2490h1M243 2491h6M242 2492h8M242 2493h8M241 2494h11M241 2495h12M241 2496h12M241 2497h13M241 2498h13M241 2499h12M241 2500h14M240 2501h16M240 2502h16M240 2503h17M241 2504h16M240 2505h17M240 2506h17M240 2507h17M240 2508h17M240 2509h18M240 2510h18M241 2511h19M240 2512h21M240 2513h21M240 2514h22M240 2515h22M239 2516h23M239 2517h22M239 2518h22M239 2519h21M239 2520h20M240 2521h18M239 2522h19M239 2523h20M239 2524h21M239 2525h21M239 2526h22M239 2527h21M239 2528h21M239 2529h20M238 2530h21M238 2531h21M238 2532h21M239 2533h20M239 2534h20M238 2535h21M238 2536h21M238 2537h21M238 2538h21M237 2539h23M237 2540h23M237 2541h24M237 2542h24M237 2543h24M237 2544h23M237 2545h23M236 2546h24M236 2547h25M236 2548h25M236 2549h26M237 2550h25M237 2551h24M236 2552h25M236 2553h24M236 2554h24M236 2555h24M236 2556h25M236 2557h25M235 2558h27M235 2559h28M278 2559h2M235 2560h28M264 2560h2M276 2560h6M235 2561h33M275 2561h8M235 2562h34M275 2562h9M235 2563h34M274 2563h10M235 2564h35M274 2564h11M235 2565h35M274 2565h11M234 2566h35M275 2566h9M234 2567h36M275 2567h9M291 2567h2M234 2568h36M276 2568h7M289 2568h7M235 2569h36M278 2569h3M288 2569h10M234 2570h37M287 2570h12M234 2571h37M278 2571h2M286 2571h13M234 2572h36M276 2572h6M286 2572h14M234 2573h36M275 2573h8M285 2573h15M234 2574h35M275 2574h8M285 2574h15M234 2575h36M274 2575h27M234 2576h36M274 2576h27M234 2577h35M275 2577h8M285 2577h15M235 2578h34M275 2578h8M285 2578h15M235 2579h33M276 2579h6M286 2579h13M236 2580h30M278 2580h2M288 2580h2M291 2580h3M295 2580h2M238 2581h12M251 2581h11" stroke="#F8766D" stroke-width="1.1" fill="none" shape-rendering="crispEdges"/>
<path d="M279.5 2259h0M255.4 2355.3h0M285.5 2361.1h0M261.4 2368.8h0M257.8 2395.8h0M251.8 2407.4h0M262.6 2422.8h0M254.2 2436.2h0M253 2436.9h0M257.8 2438.2h0M253 2439.1h0M249.3 2440h0M254.3 2440.1h0M250.1 2442.5h0M248.8 2443.7h0M249 2445.1h0M253.8 2447.5h0M249.9 2448.5h0M251.2 2450.4h0M253.9 2449.6h0M248.8 2451.5h0M269.9 2451.7h0M254.6 2457.3h0M246.8 2458.3h0M247.7 2459.3h0M246.7 2460.1h0M250.2 2460.2h0M252.9 2459.8h0M317.1 2459.8h0M253.3 2461.1h0M248.8 2462h0M251.5 2462.1h0M330 2463.2h0M250.9 2465h0M260.9 2465.2h0M246.6 2466.6h0M254.5 2467.1h0M248.1 2469.2h0M249 2469.3h0M247.3 2470.6h0M318.1 2470.9h0M253.4 2472.2h0M246 2474.3h0M249.5 2473.8h0M245.4 2475h0M248.6 2475h0M245 2477.3h0M244.9 2479h0M250.9 2479.3h0M246.4 2481.2h0M249.6 2482.3h0M253.6 2481.7h0M245.3 2483.1h0M250.6 2483.8h0M245.5 2484.7h0M296.4 2486.3h0M247.1 2486.8h0M248.9 2487h0M254 2486.6h0M246 2488.1h0M251.8 2488.3h0M244.5 2490.5h0M247.3 2490.6h0M244.1 2493.5h0M247.2 2494.5h0M243.1 2494.9h0M243.1 2496.3h0M249.5 2496.5h0M250.8 2496.6h0M242.8 2498.6h0M263.8 2500.2h0M242.4 2502.5h0M252 2502.3h0M280.1 2502.5h0M243.4 2502.7h0M253.5 2503.1h0M253.8 2502.8h0M289.9 2503h0M253.7 2505.2h0M242.4 2505.9h0M253.6 2506.3h0M242.3 2507h0M242.3 2508.5h0M254.2 2508.8h0M254.5 2509.9h0M308.5 2510.9h0M259.7 2512.1h0M241.9 2513.5h0M271.2 2512.6h0M260.1 2514.5h0M289.6 2514.8h0M300.7 2515.9h0M241.1 2516.8h0M257.5 2518.4h0M241 2519h0M274.1 2518.6h0M316.9 2518.7h0M255.1 2519.7h0M255.1 2521.5h0M241.4 2523.1h0M255.2 2522.8h0M240.6 2523.8h0M241.1 2525.5h0M258.2 2525.1h0M259.6 2525.6h0M240.5 2527.6h0M279.6 2528h0M296.1 2528.1h0M255.6 2529h0M240 2530.9h0M255.7 2531.9h0M256.1 2533.5h0M269.3 2535.4h0M301.1 2535.3h0M321.6 2535h0M239.9 2536.2h0M256 2536.8h0M264 2536.5h0M302.1 2536.7h0M239.7 2537.8h0M263.1 2538.4h0M269.5 2537.8h0M277.6 2538.1h0M239.8 2538.9h0M240.3 2539.3h0M255.6 2539h0M239.1 2539.5h0M260 2540.8h0M239.2 2541.7h0M256.5 2542.7h0M238.6 2543.9h0M256.6 2544h0M256.6 2544.9h0M292.1 2545h0M306.5 2547.1h0M238.3 2547.7h0M239.2 2549.1h0M260 2548.9h0M258.6 2549.5h0M303.6 2550.5h0M239.1 2550.8h0M267 2550.9h0M238.8 2552.1h0M257.2 2551.6h0M238 2552.7h0M277.7 2553.1h0M238.4 2553.7h0M267.6 2554.4h0M237.8 2555.3h0M256.7 2554.7h0M268.2 2555h0M269.1 2555.2h0M270.8 2555.3h0M238.2 2555.7h0M256.7 2556.4h0M266.6 2556.4h0M329 2555.6h0M238.3 2557.4h0M257.5 2556.7h0M296.1 2557h0M237.9 2557.9h0M300.6 2558.1h0M237.2 2558.7h0M307.6 2558.9h0M260.3 2559.5h0M302.2 2560.3h0M314 2559.6h0M270.9 2561.1h0M271.4 2560.7h0M278.6 2560.6h0M288.7 2560.7h0M289.6 2560.8h0M335.1 2560.9h0M236.8 2561.9h0M265.3 2561.9h0M276.5 2561.8h0M237.5 2563h0M262 2563.3h0M263.8 2562.9h0M270.1 2563.4h0M281 2563.3h0M285.2 2563.3h0M289.1 2562.7h0M308.7 2563.1h0M271.9 2563.7h0M286.1 2563.9h0M304.7 2563.7h0M236.6 2565h0M298.4 2564.8h0M347.2 2564.6h0M266.3 2566.3h0M275.6 2566.5h0M277.4 2566.4h0M281 2566.1h0M309.7 2566.4h0M236.3 2566.8h0M316.2 2567h0M236.6 2567.7h0M267.3 2569h0M268.5 2568.8h0M279.6 2568.8h0M291.2 2569.3h0M303.5 2568.8h0M236.9 2569.8h0M267.7 2569.8h0M289.6 2569.6h0M294.3 2570.2h0M297.7 2570.2h0M236.3 2571h0M325 2570.7h0M235.9 2572.1h0M267.1 2571.9h0M273 2571.8h0M280.4 2571.7h0M286.5 2571.7h0M236.1 2573.4h0M275.2 2572.6h0M280.3 2574.1h0M297.3 2574.4h0M236.4 2575h0M276.7 2575.2h0M338.2 2575.4h0M235.8 2575.6h0M274.6 2576.5h0M276.3 2575.6h0M282.4 2575.5h0M285.9 2576.2h0M298 2576.4h0M306.9 2576.1h0M309.5 2576.3h0M235.7 2577.3h0M236.3 2576.5h0M267 2576.6h0M268.8 2576.8h0M269.8 2576.8h0M275 2576.9h0M290.1 2576.8h0M294.7 2577.5h0M236.6 2578.4h0M238.3 2577.6h0M250.2 2578.1h0M251.3 2577.7h0M261.6 2577.9h0M262.2 2577.6h0M262.7 2578.1h0M264.7 2577.9h0M271.1 2578.1h0M279.2 2578h0M288.3 2577.8h0M292.3 2577.6h0M296.1 2578.3h0M299.4 2577.7h0M299.4 2578h0M301.5 2577.9h0M318.6 2577.9h0M236.1 2578.6h0M238.6 2578.6h0M241.9 2578.8h0M243.5 2578.7h0M247.6 2578.7h0M251.8 2578.5h0M252.2 2578.8h0M255.4 2578.6h0M257 2578.7h0M258.3 2578.7h0M260.1 2578.6h0" stroke="#F8766D" stroke-width="5" stroke-linecap="round" fill="none"/>
<path d="M226.5 2164.1V2651M61.2 2578.8H433.4" stroke="#bdbdbd" stroke-width="1.7" stroke-dasharray="7 4 1.5 4" fill="none"/>
<path d="M55.2 2164.1V2651H433.4" stroke="#111" stroke-width="1.3" fill="none"/>
<path d="M81.9 2651v3.5M154.2 2651v3.5M226.5 2651v3.5M250.6 2651v3.5M322.9 2651v3.5M419.3 2651v3.5M55.2 2436.2h-3.5M55.2 2243.6h-3.5" stroke="#222" stroke-width="1" fill="none"/>
<g font-size="9" fill="#404040">
<text x="81.9" y="2663.6" text-anchor="middle">-6</text>
<text x="154.2" y="2663.6" text-anchor="middle">-3</text>
<text x="226.5" y="2663.6" text-anchor="middle">0</text>
<text x="250.6" y="2663.6" text-anchor="middle">1</text>
<text x="322.9" y="2663.6" text-anchor="middle">4</text>
<text x="419.3" y="2663.6" text-anchor="middle">8</text>
<text x="49.2" y="2439.6" text-anchor="end">5</text>
<text x="49.2" y="2246.9" text-anchor="end">10</text>
</g>
<text x="252.4" y="2107.7" font-size="39.2" text-anchor="middle">Control vs A<tspan font-family='"Liberation Serif", "Times New Roman", serif'>β</tspan></text>
<text x="244" y="2692.8" font-size="23.3" text-anchor="middle">log2FoldChange</text>
<text transform="translate(18.8 2414) rotate(-90)" font-size="24" text-anchor="middle">-log10(pvalue)</text>
<text x="408.3" y="2256.5" font-size="24.2" fill="#111">pvalue&lt;0.05</text>
<text x="408.3" y="2283.2" font-size="24.2" fill="#111">|log2FoldChange|&gt;0</text>
<rect x="409.5" y="2299" width="35.5" height="34.8" fill="#f3f3f3"/>
<circle cx="427.2" cy="2316.7" r="5.3" fill="#F8766D"/>
<text x="459.3" y="2324.2" font-size="19.3" fill="#111">UP 900</text>
<rect x="409.5" y="2337.6" width="35.5" height="34.6" fill="#f3f3f3"/>
<circle cx="427.2" cy="2354.7" r="5.3" fill="#00BA38"/>
<text x="459.3" y="2362.6" font-size="19.3" fill="#111">DOWN 853</text>
<rect x="409.5" y="2375.6" width="35.5" height="35.1" fill="#f3f3f3"/>
<circle cx="427.2" cy="2393.5" r="5.3" fill="#619CFF"/>
<text x="459.3" y="2400.7" font-size="19.3" fill="#111">NO 21087</text>
<path d="M792 2621h85M892 2621h58M951 2621h35M790 2622h89M890 2622h98M789 2623h91M889 2623h100M789 2624h91M888 2624h101M788 2625h93M888 2625h102M788 2626h93M887 2626h102M788 2627h94M886 2627h103M789 2628h94M885 2628h103M789 2629h94M885 2629h101M790 2630h191M792 2631h184M798 2632h171M804 2633h160M811 2634h147M816 2635h134M825 2636h117M834 2637h99M846 2638h75M861 2639h3M865 2639h41" stroke="#619CFF" stroke-width="1.1" fill="none" shape-rendering="crispEdges"/>
<path d="M791.9 2623.1h0M793.1 2623.4h0M793.7 2623.2h0M795.6 2623.2h0M796.1 2623.3h0M797.9 2623.2h0M798.4 2623.2h0M799.2 2623.3h0M801 2623.3h0M801.2 2623.2h0M802.4 2623.1h0M803 2623.3h0M803.4 2623.2h0M805.6 2623.2h0M806.6 2623.3h0M807.7 2623.5h0M808.1 2623.1h0M809 2623.4h0M809.2 2623.2h0M810.8 2623.2h0M811.4 2623.3h0M812 2623.1h0M812.1 2623.5h0M813.9 2623.3h0M815.8 2623.2h0M816.5 2623.5h0M818.7 2623.4h0M819.2 2623.2h0M821.2 2623.1h0M821.5 2623.4h0M822.8 2623.2h0M823.7 2623.4h0M827.2 2623.4h0M828.6 2623.1h0M830 2623.3h0M832.5 2623.1h0M832.6 2623.5h0M833.1 2623.1h0M834.3 2623.4h0M835.9 2623.2h0M836.4 2623.3h0M837.2 2623.4h0M838 2623.1h0M838.5 2623.3h0M838.6 2623.2h0M840.3 2623.1h0M840.5 2623.4h0M842.7 2623.3h0M843.1 2623.1h0M844.2 2623.1h0M845.9 2623.2h0M846 2623.4h0M848.2 2623.4h0M848.9 2623.3h0M849.4 2623.1h0M851.4 2623.3h0M851.4 2623.1h0M852.7 2623.5h0M852.9 2623.2h0M854.5 2623.1h0M856.1 2623.1h0M857.3 2623.4h0M858.7 2623.4h0M858.8 2623.1h0M859.3 2623.1h0M860.4 2623.3h0M861.8 2623.5h0M862.9 2623.4h0M863.6 2623.2h0M865.8 2623.3h0M866.4 2623.1h0M867.1 2623.3h0M869.1 2623.2h0M870 2623.4h0M873.2 2623.1h0M873.2 2623.5h0M874.2 2623.3h0M874.5 2623.2h0M875.1 2623.2h0M891.6 2623.2h0M892.6 2623.1h0M894.7 2623.2h0M894.8 2623.3h0M896.5 2623.2h0M897.2 2623.3h0M898.6 2623.5h0M900 2623.2h0M900.4 2623.3h0M901.7 2623.5h0M901.7 2623.1h0M903.5 2623.2h0M904.6 2623.3h0M904.8 2623.1h0M905.5 2623.4h0M907.5 2623.1h0M907.8 2623.4h0M909.4 2623.2h0M909.7 2623.3h0M910.1 2623.4h0M911.1 2623.2h0M913 2623.3h0M913.4 2623.2h0M914.5 2623.4h0M915.3 2623.3h0M916.2 2623.2h0M917.7 2623.5h0M919.4 2623.2h0M920.1 2623.4h0M921.4 2623.2h0M923.2 2623.2h0M923.3 2623.3h0M924.2 2623.3h0M924.9 2623.1h0M926.4 2623.1h0M927.2 2623.3h0M928.6 2623.3h0M929.6 2623.4h0M930.8 2623.1h0M933.9 2623.1h0M934.2 2623.5h0M936 2623.2h0M937.4 2623.1h0M938 2623.5h0M938.8 2623.2h0M939.6 2623.3h0M939.9 2623.4h0M940.5 2623.1h0M942.2 2623.2h0M942.9 2623.4h0M944.3 2623.2h0M945.3 2623.4h0M946.3 2623.1h0M947.9 2623.2h0M948.4 2623.4h0M952 2623.1h0M952.7 2623.4h0M954.5 2623.2h0M955.5 2623.3h0M956.3 2623.2h0M958.2 2623.4h0M958.8 2623.2h0M959.2 2623.4h0M959.6 2623.1h0M960.9 2623.2h0M961.6 2623.5h0M963 2623.4h0M965 2623.2h0M965.9 2623.5h0M967.3 2623.2h0M969.2 2623.3h0M969.9 2623.2h0M971 2623.4h0M972.6 2623.5h0M973.7 2623.4h0M974.4 2623.1h0M975.5 2623.1h0M976.2 2623.3h0M977.1 2623.5h0M978 2623.2h0M978.6 2623.3h0M979.2 2623.1h0M980.5 2623.2h0M980.9 2623.5h0M982.3 2623.1h0M983 2623.4h0M984.6 2623.1h0M985.4 2623.4h0M985.8 2623.2h0M987.3 2623.3h0M988.7 2623.1h0M989.8 2623.1h0M992.1 2623.1h0M992.5 2623.1h0M994 2623.1h0M790.9 2623.9h0M792 2623.6h0M876.2 2624.4h0M891.4 2624.4h0M948.9 2623.8h0M951.3 2623.6h0M984.7 2624.1h0M990.9 2623.6h0M994 2623.7h0M994.8 2623.7h0M996.1 2623.6h0M1002.3 2624.1h0M876.5 2625.5h0M890.2 2624.9h0M986.4 2625.2h0M989 2625.5h0M990.1 2625h0M991.3 2625.1h0M1032.9 2625.2h0M790.4 2626h0M877.5 2625.5h0M890.4 2626.2h0M987.1 2625.8h0M878 2627.2h0M888.9 2626.7h0M889.2 2627.5h0M980 2627.5h0M981.4 2627h0M981.6 2626.7h0M982.5 2627h0M982.9 2626.7h0M983.9 2626.7h0M1017.6 2626.8h0M790.4 2628.3h0M792.3 2628.4h0M878.9 2628h0M888.5 2627.7h0M974.6 2628.4h0M976 2628.1h0M976.9 2627.9h0M1007.7 2627.9h0M791.8 2628.5h0M793.2 2628.7h0M795.8 2628.8h0M798 2629.1h0M798 2628.8h0M879.8 2629.4h0M968.7 2629.5h0M970.6 2629.1h0M972.8 2628.5h0M973.8 2628.6h0M800.3 2629.7h0M801.8 2630.2h0M802.1 2630.3h0M803.5 2630.5h0M804.2 2629.8h0M880.4 2629.9h0M887.2 2629.9h0M887.4 2629.5h0M963 2630.4h0M963.2 2629.6h0M964.4 2630.3h0M965.8 2629.8h0M966 2629.9h0M806.6 2631h0M808.1 2630.8h0M808.9 2630.7h0M811.4 2630.6h0M880.9 2630.9h0M885.8 2631.5h0M956.7 2630.7h0M957.7 2630.7h0M959.4 2630.9h0M961.1 2630.8h0M812.8 2632h0M814.3 2631.6h0M815 2632.2h0M815.7 2632h0M816.1 2631.9h0M881.8 2632.5h0M885.3 2631.8h0M885.3 2632.2h0M949.7 2632.2h0M949.7 2631.8h0M951.9 2631.6h0M953 2632.1h0M953.3 2631.5h0M955.1 2631.7h0M818.7 2632.6h0M819.2 2632.6h0M822.4 2633.2h0M824.1 2632.6h0M825.4 2632.6h0M941.4 2632.6h0M942.6 2633.1h0M943.8 2632.6h0M945.2 2633h0M947.6 2632.8h0M826.4 2633.6h0M827.4 2633.8h0M827.8 2633.5h0M828.8 2633.8h0M831 2634h0M831.1 2633.7h0M831.5 2633.8h0M831.8 2633.6h0M833.5 2633.6h0M834.3 2634h0M932.6 2633.9h0M932.7 2633.7h0M933.6 2633.9h0M934.7 2633.9h0M935.8 2633.7h0M938.5 2633.7h0M938.6 2633.9h0M836.7 2634.6h0M838.9 2634.9h0M841.7 2634.5h0M842 2635.2h0M844.3 2635.3h0M846.2 2634.7h0M920.4 2635.2h0M920.9 2635.1h0M922.5 2634.9h0M924.5 2635.1h0M926.9 2634.9h0M928.3 2634.9h0M930.4 2634.6h0M846.8 2635.6h0M847.4 2635.6h0M849.2 2635.7h0M851.8 2635.7h0M853.9 2635.6h0M854.9 2635.8h0M857.3 2635.9h0M858.2 2636.3h0M859.5 2636.4h0M862.6 2635.7h0M863.1 2636.2h0M864.8 2636.2h0M906.3 2636.2h0M907 2635.5h0M910 2636.3h0M910.8 2635.9h0M912.3 2635.8h0M913.9 2635.7h0M916.7 2635.6h0M918 2635.5h0M918.8 2635.6h0M867 2636.7h0M868.5 2636.6h0M871.5 2636.7h0M872.8 2636.8h0M873.3 2636.7h0M876.1 2636.9h0M878.4 2636.6h0M879.1 2636.7h0M881.5 2636.7h0M883.2 2636.8h0M884.5 2636.8h0M887.1 2637h0M887.3 2636.8h0M889.4 2636.9h0M892.4 2636.9h0M893.4 2636.8h0M895.5 2636.7h0M897.2 2636.7h0M900.4 2636.6h0M901.3 2636.7h0M903.6 2636.5h0" stroke="#619CFF" stroke-width="5" stroke-linecap="round" fill="none"/>
<path d="M858 2586h3M862 2586h2M856 2587h10M855 2588h12M855 2589h13M854 2590h14M854 2591h15M852 2592h17M850 2593h20M849 2594h21M848 2595h22M847 2596h24M847 2597h24M846 2598h25M846 2599h25M846 2600h26M845 2601h28M845 2602h28M846 2603h28M846 2604h28M847 2605h28M848 2606h27M847 2607h28M847 2608h29M846 2609h30M846 2610h30M845 2611h31M845 2612h32M844 2613h34M844 2614h34M843 2615h36M843 2616h36M842 2617h37M842 2618h37M841 2619h39M841 2620h39M841 2621h40M842 2622h38M842 2623h38M843 2624h36M845 2625h32" stroke="#00BA38" stroke-width="1.1" fill="none" shape-rendering="crispEdges"/>
<path d="M816.1 2426.9h0M823.3 2483.7h0M835.1 2518h0M822.5 2522.3h0M842.6 2528.7h0M832.1 2536.2h0M848.9 2536.2h0M809.1 2538.4h0M852.8 2539.9h0M808 2548h0M849.3 2551.8h0M859.8 2568.4h0M843.7 2571.6h0M856.1 2571.7h0M831.1 2574.3h0M843.5 2576.3h0M862.8 2575.6h0M859.5 2577.1h0M851.3 2580.9h0M854.1 2582h0M854.4 2586h0M845.4 2586.7h0M856 2587.3h0M858.6 2588.5h0M862.9 2588.1h0M861.6 2589.3h0M855.9 2590.4h0M857.4 2589.8h0M865.2 2590.3h0M809.3 2590.9h0M840.8 2590.6h0M866.3 2590.6h0M832.8 2592h0M866.3 2592.4h0M759.5 2593h0M866.1 2593.5h0M851.7 2593.7h0M852.5 2594.8h0M867.2 2595.2h0M850 2595.8h0M867 2596h0M837.8 2596.7h0M840.1 2596.7h0M868.1 2597.3h0M842.1 2598.2h0M847.5 2597.6h0M828.4 2599.5h0M830.3 2600.6h0M839.7 2601.1h0M869 2601.3h0M847.2 2602.1h0M869.9 2601.7h0M840.5 2603.1h0M869.5 2603.4h0M869.8 2603.3h0M814.4 2603.8h0M837.9 2604h0M845 2604.2h0M870.8 2604.2h0M762.2 2604.8h0M824.7 2604.7h0M849.8 2605.7h0M783.8 2606.9h0M849.7 2607.3h0M871.6 2607h0M775.8 2607.7h0M782.7 2608.1h0M812.2 2608.1h0M849.3 2607.9h0M827.4 2609.1h0M838.3 2608.7h0M849.5 2609.5h0M872.6 2608.5h0M832.9 2609.7h0M837.7 2609.6h0M848 2609.9h0M873 2610.3h0M833.3 2610.7h0M873.3 2610.9h0M822 2611.8h0M837.2 2611.8h0M847.1 2611.8h0M873 2611.7h0M819.3 2614.4h0M845.8 2614.2h0M874.6 2613.5h0M831.3 2615h0M846 2615.2h0M875.2 2615.5h0M788.2 2615.6h0M812.1 2615.6h0M845.1 2616.5h0M789.7 2617.2h0M811.1 2616.5h0M828.6 2616.6h0M832.5 2616.6h0M835.6 2617.2h0M836.6 2617.4h0M875.7 2616.6h0M798.7 2617.5h0M802.6 2617.5h0M810 2617.7h0M812.7 2618h0M830.4 2618.4h0M875.7 2618.4h0M790.2 2619.2h0M844.3 2618.7h0M817.7 2619.8h0M877 2619.7h0M796.9 2620.9h0M810.3 2621.4h0M843.4 2621.4h0M844 2621h0M876.9 2620.6h0M776.1 2622h0M800 2621.7h0M824.3 2622.4h0M843.7 2622.3h0M876.2 2621.7h0M823.5 2622.9h0M832.7 2622.6h0M843.4 2622.6h0M846.3 2623h0M848.4 2622.6h0M850 2622.8h0M851.3 2622.5h0M853.7 2622.9h0M855.6 2622.6h0M856 2622.9h0M859.8 2622.8h0M862.1 2622.6h0M864.1 2623h0M865.7 2622.6h0M866.5 2623h0M868.1 2622.5h0M870 2622.9h0M871.8 2623h0M876.9 2622.9h0" stroke="#00BA38" stroke-width="5" stroke-linecap="round" fill="none"/>
<path d="M914 2551h1M912 2552h5M930 2552h1M911 2553h8M928 2553h5M911 2554h10M927 2554h7M910 2555h12M926 2555h8M911 2556h11M926 2556h9M911 2557h12M925 2557h9M912 2558h10M926 2558h8M914 2559h8M926 2559h7M915 2560h6M927 2560h5M917 2561h2M929 2561h1M926 2563h2M924 2564h6M923 2565h8M933 2565h1M923 2566h13M905 2567h1M922 2567h17M941 2567h3M903 2568h5M923 2568h23M902 2569h7M923 2569h24M970 2569h1M902 2570h7M924 2570h23M968 2570h5M901 2571h9M924 2571h24M967 2571h7M901 2572h9M916 2572h2M923 2572h7M931 2572h17M966 2572h8M901 2573h10M914 2573h6M921 2573h9M933 2573h16M966 2573h9M900 2574h11M912 2574h19M935 2574h14M965 2574h9M900 2575h32M934 2575h15M966 2575h8M900 2576h50M966 2576h7M899 2577h51M967 2577h5M899 2578h52M963 2578h2M969 2578h1M899 2579h41M941 2579h10M961 2579h6M900 2580h40M941 2580h10M959 2580h9M900 2581h39M941 2581h11M957 2581h11M901 2582h29M933 2582h6M941 2582h13M956 2582h13M901 2583h30M933 2583h37M901 2584h69M980 2584h2M983 2584h3M900 2585h71M978 2585h10M899 2586h71M977 2586h12M898 2587h73M977 2587h12M898 2588h74M976 2588h14M897 2589h42M940 2589h32M977 2589h13M896 2590h77M977 2590h12M896 2591h78M978 2591h11M895 2592h79M977 2592h11M895 2593h93M895 2594h92M895 2595h90M989 2595h1M895 2596h91M987 2596h5M894 2597h99M894 2598h70M965 2598h28M893 2599h72M967 2599h27M893 2600h73M967 2600h10M978 2600h15M893 2601h73M968 2601h8M978 2601h15M893 2602h74M968 2602h6M975 2602h17M892 2603h99M892 2604h98M891 2605h98M891 2606h97M891 2607h95M891 2608h95M987 2608h1M995 2608h2M998 2608h3M1002 2608h2M891 2609h99M993 2609h13M890 2610h101M992 2610h15M890 2611h117M890 2612h118M890 2613h118M890 2614h117M890 2615h117M889 2616h117M889 2617h117M889 2618h118M889 2619h118M888 2620h119M888 2621h119M889 2622h117M889 2623h117M890 2624h115M892 2625h37M930 2625h73" stroke="#F8766D" stroke-width="1.1" fill="none" shape-rendering="crispEdges"/>
<path d="M946.6 2194.3h0M930.8 2410.8h0M970.6 2447.3h0M1023 2452.6h0M933.5 2456.9h0M977.2 2456.9h0M964 2463.3h0M943.3 2465.5h0M1037.5 2468.7h0M964.5 2469.8h0M917.1 2471.9h0M969.5 2473h0M963.6 2476.2h0M981.5 2480.5h0M966.2 2482.6h0M940 2485.8h0M973.9 2485.8h0M969.5 2488h0M958.6 2498.7h0M923.6 2501.9h0M946.6 2503h0M980.4 2505.1h0M1016.5 2506.2h0M931 2507h0M1032.6 2507.4h0M924 2509.7h0M984.9 2511.6h0M928.3 2515.2h0M942.7 2516.7h0M974.5 2521.3h0M919.1 2521.7h0M954.4 2522h0M930.6 2523h0M924.9 2525.4h0M921.3 2526.9h0M947.1 2528h0M945.6 2529.3h0M958.6 2531.4h0M970.7 2531.4h0M977.6 2532.4h0M1033.6 2531.5h0M935.7 2532.7h0M937.2 2533.3h0M970.9 2532.6h0M1037.4 2534.1h0M917.4 2535.2h0M926.5 2535.1h0M947.1 2534.5h0M963 2536.9h0M972.3 2538h0M931.6 2539.3h0M934.3 2539.3h0M941 2539.4h0M997.7 2538.7h0M930.2 2540h0M928.9 2541.2h0M929.1 2540.6h0M1035.1 2542.1h0M1037.7 2541.5h0M929 2543h0M930.4 2543.8h0M911.9 2545h0M917.1 2544.6h0M915.2 2546.5h0M921 2546.3h0M938.1 2546.1h0M916.4 2547.2h0M940.2 2547.2h0M977 2547.4h0M949.6 2548h0M939.4 2548.8h0M978.5 2549.1h0M1019.9 2549h0M925.9 2549.6h0M931.7 2550.4h0M948.6 2550.2h0M913.4 2551.4h0M954.4 2551.4h0M955.9 2550.9h0M913 2552.9h0M913.8 2553.2h0M922 2553.4h0M930.3 2553h0M947.3 2552.9h0M997 2553.5h0M912.4 2554.2h0M914.8 2553.9h0M928.3 2554.1h0M948.3 2554.5h0M910.3 2555.1h0M917 2554.8h0M938.2 2555.1h0M961.3 2555h0M970.3 2555.3h0M974.3 2555h0M913.2 2556.1h0M928.5 2555.9h0M932.2 2555.8h0M966 2556.4h0M978.4 2555.5h0M938.7 2557.3h0M916.5 2557.7h0M920.1 2557.8h0M943.9 2558.1h0M986.3 2558.1h0M906.8 2559.1h0M924.7 2559.4h0M927.9 2559.2h0M930.1 2559.1h0M963.6 2559.1h0M1027.1 2559.1h0M941 2560.3h0M943.9 2559.6h0M966.5 2560.5h0M915.5 2560.9h0M924.1 2560.6h0M954.9 2561.2h0M959.4 2561.4h0M1017 2560.8h0M942.4 2562.1h0M960.2 2562.2h0M908.2 2562.6h0M917 2562.9h0M933.4 2562.8h0M939.5 2563.3h0M953 2563.3h0M955.1 2562.6h0M1029.2 2563h0M906.6 2563.9h0M916.4 2564h0M946.3 2563.7h0M909.8 2564.6h0M926.7 2564.9h0M949.6 2564.9h0M964.9 2565h0M988.4 2564.6h0M992.5 2564.7h0M994.4 2564.7h0M1022.7 2564.6h0M917.5 2565.7h0M924.8 2565.8h0M948 2565.5h0M988.6 2566.2h0M922.8 2566.8h0M928.7 2567.5h0M974.2 2567.1h0M979.3 2566.7h0M1008.6 2566.5h0M932.5 2568.1h0M934.3 2568.4h0M952.5 2567.6h0M960.5 2567.8h0M971.9 2567.7h0M1051.4 2568.4h0M904.4 2568.7h0M908.9 2569.5h0M917.1 2569.4h0M937.3 2569.1h0M942.2 2569h0M943.1 2568.9h0M954.6 2568.8h0M993.8 2569h0M928.3 2569.7h0M943.9 2570.2h0M953.4 2570.2h0M903.1 2570.6h0M907.1 2570.8h0M914.6 2571h0M915.4 2570.9h0M927.3 2570.8h0M932.6 2571.1h0M969.8 2571h0M987 2570.6h0M1020.3 2570.7h0M917.3 2572.2h0M924.9 2572.4h0M936 2571.7h0M952.7 2571.6h0M971.5 2572.4h0M927 2572.9h0M946.2 2573.1h0M956.3 2573.5h0M967.9 2572.5h0M984.3 2573.2h0M991.1 2572.9h0M1009.3 2572.7h0M907.7 2574.1h0M916.8 2573.8h0M955.4 2574.4h0M960.7 2573.7h0M1044.9 2573.8h0M902.4 2575.5h0M908.3 2575.1h0M921.9 2575.3h0M927.6 2575.4h0M937.1 2574.6h0M967.1 2574.6h0M968.8 2575.1h0M970.4 2574.9h0M997.5 2575.5h0M1029.5 2574.7h0M913.2 2576.1h0M914.4 2575.6h0M920 2576.2h0M939.7 2576h0M946 2575.5h0M955.6 2575.8h0M974.8 2576.3h0M930.1 2576.8h0M934.5 2576.7h0M1005.5 2576.8h0M947.6 2578.1h0M969.4 2577.7h0M992.9 2578.3h0M900.5 2578.7h0M929.9 2578.6h0M937.5 2579.3h0M942.8 2578.7h0M979.9 2578.7h0M985.5 2578.7h0M995.9 2579.4h0M934.5 2579.8h0M962.8 2580.1h0M965.3 2580.3h0M974.6 2580.1h0M999.6 2579.5h0M1019.8 2580h0M1039.4 2580.2h0M1103.9 2580.2h0M947.7 2581.1h0M984.2 2581.3h0M1027.7 2581.4h0M927.4 2581.9h0M935.3 2581.9h0M942.8 2582.5h0M948.9 2581.6h0M957.7 2581.9h0M959.2 2582.1h0M961.5 2581.8h0M991.3 2582h0M998.9 2582.5h0M902.9 2582.8h0M973.7 2583.2h0M1039.8 2583.1h0M927.5 2583.6h0M936.6 2583.9h0M942.1 2584.5h0M952.2 2584.4h0M967.7 2584h0M985.2 2583.9h0M1003.1 2583.8h0M1019.5 2583.9h0M928.8 2584.8h0M952.8 2584.8h0M954.6 2584.6h0M966.5 2585.4h0M978.8 2585.1h0M1009.6 2585.3h0M1042.3 2585.2h0M932.1 2585.8h0M940.1 2586h0M975.3 2585.7h0M980.4 2586.1h0M1045.4 2586.3h0M967.2 2587.1h0M991.3 2586.9h0M1047.1 2586.6h0M899.6 2587.6h0M936 2587.7h0M987 2587.7h0M996.8 2587.9h0M1010.3 2588h0M968.7 2588.7h0M978.7 2589h0M1007.6 2589.7h0M898.4 2591.2h0M937.3 2591.4h0M940.7 2591h0M997.2 2590.7h0M1028.3 2591.4h0M898 2592.3h0M938 2592.3h0M938.1 2592h0M986 2592.4h0M1014.8 2592.3h0M1056.9 2592h0M897.4 2592.6h0M971.5 2593.3h0M979.4 2592.7h0M1000.9 2592.7h0M971.6 2594.4h0M1003.2 2594.4h0M1014 2594.2h0M1023.7 2593.6h0M897.4 2594.7h0M963.2 2595.3h0M964.8 2594.6h0M974.9 2595.2h0M977.1 2595.5h0M982.1 2595.1h0M995.8 2594.5h0M1047.3 2595.2h0M897.4 2595.8h0M965.6 2596.2h0M997.8 2596.2h0M1008.6 2596.1h0M896.8 2597.3h0M960.6 2597.4h0M960.8 2597.2h0M975.5 2596.6h0M977.9 2597.4h0M978.5 2596.9h0M989.7 2597.3h0M991.7 2597.5h0M1028.7 2596.9h0M1051 2597.4h0M969.4 2597.6h0M975.1 2597.7h0M984 2598h0M987.9 2597.5h0M1021.1 2598.5h0M1031.8 2598h0M896 2599.3h0M973.7 2598.7h0M980.4 2599.3h0M1011.5 2599.2h0M895.4 2600h0M968.7 2600.3h0M997 2599.9h0M1002.3 2600.2h0M1005.8 2600.5h0M1021.2 2600h0M1052.6 2599.5h0M963.5 2601.5h0M979.5 2600.8h0M990.3 2601.2h0M1012 2600.7h0M894.9 2602h0M1004 2601.6h0M1054.8 2601.7h0M894.7 2602.7h0M964.2 2602.6h0M970.9 2603.1h0M1012.4 2603.1h0M1018.2 2602.5h0M894 2604.1h0M975.8 2604.1h0M977.9 2603.6h0M986.7 2603.5h0M1002.4 2604.2h0M894.4 2604.8h0M965.9 2605h0M968.1 2604.9h0M974.5 2604.9h0M1015.3 2605.1h0M1026.1 2606h0M1055.1 2606.2h0M893.4 2606.7h0M989.7 2606.8h0M1009.1 2607.3h0M1022.9 2606.7h0M1040 2607.7h0M893.4 2608.6h0M982.8 2608.7h0M993.5 2609.1h0M1003.6 2609.3h0M892.7 2609.5h0M987.5 2609.6h0M998.5 2609.5h0M1026.7 2609.7h0M892.3 2610.8h0M985.9 2610.9h0M1000.4 2610.8h0M1054.9 2610.9h0M892.4 2612.3h0M988.6 2612.3h0M1024.1 2612.2h0M1031.2 2612.3h0M1040 2611.9h0M892.2 2613h0M990.1 2612.7h0M990.3 2613h0M991.6 2613.3h0M992.3 2612.9h0M1004.3 2613.2h0M1007 2612.7h0M1014 2613h0M1041.5 2612.6h0M892.2 2615.9h0M891.3 2617.4h0M1002.5 2617.2h0M1002.8 2617.8h0M1002.9 2618.1h0M890.5 2619.1h0M890.9 2619.6h0M1003.9 2620.1h0M889.5 2621.5h0M891 2620.6h0M1002.6 2621h0M928.1 2622h0M1002.2 2621.5h0M1002.8 2621.9h0M889.7 2622.8h0M891.8 2622.6h0M894 2622.9h0M895.7 2623h0M897.4 2622.9h0M899.2 2622.8h0M901 2622.7h0M901.3 2622.9h0M903.8 2622.9h0M906.4 2623h0M907.9 2622.5h0M909.6 2623h0M911.6 2622.8h0M913 2623h0M915.2 2622.6h0M916.1 2622.9h0M919.4 2622.6h0M921.6 2623.1h0M922.8 2622.6h0M924.8 2622.6h0M926.1 2622.7h0M931.3 2623h0M933.5 2622.6h0M935.5 2622.8h0M936.8 2622.5h0M938.4 2622.8h0M940.9 2622.7h0M942.8 2622.8h0M943.6 2622.9h0M945.8 2623.1h0M947.3 2622.7h0M949.4 2622.9h0M951.9 2622.8h0M953.3 2622.9h0M954.1 2622.7h0M956.8 2623h0M958.5 2622.9h0M960.7 2622.9h0M964.4 2622.8h0M966.7 2622.9h0M969.4 2622.5h0M970.5 2622.8h0M974.6 2623h0M977.9 2622.5h0M978.4 2622.6h0M980.3 2622.8h0M982.2 2622.6h0M985.2 2622.9h0M986.1 2623h0M988.4 2622.6h0M990.1 2623.1h0M992.3 2622.9h0M995.5 2622.8h0M997.9 2622.8h0M1000.2 2622.7h0M1004.7 2623h0" stroke="#F8766D" stroke-width="5" stroke-linecap="round" fill="none"/>
<path d="M883.2 2172V2659.3M748.3 2623.1H1121" stroke="#bdbdbd" stroke-width="1.7" stroke-dasharray="7 4 1.5 4" fill="none"/>
<path d="M742.3 2172V2659.3H1121" stroke="#111" stroke-width="1.3" fill="none"/>
<path d="M752.1 2659.3v3.5M839.5 2659.3v3.5M883.2 2659.3v3.5M926.9 2659.3v3.5M1014.3 2659.3v3.5M1101.7 2659.3v3.5M742.3 2529.8h-3.5M742.3 2422.6h-3.5M742.3 2315.4h-3.5M742.3 2208.2h-3.5" stroke="#222" stroke-width="1" fill="none"/>
<g font-size="9" fill="#404040">
<text x="752.1" y="2671.9" text-anchor="middle">-6</text>
<text x="839.5" y="2671.9" text-anchor="middle">-2</text>
<text x="883.2" y="2671.9" text-anchor="middle">0</text>
<text x="926.9" y="2671.9" text-anchor="middle">2</text>
<text x="1014.3" y="2671.9" text-anchor="middle">6</text>
<text x="1101.7" y="2671.9" text-anchor="middle">10</text>
<text x="736.3" y="2533.1" text-anchor="end">10</text>
<text x="736.3" y="2425.9" text-anchor="end">20</text>
<text x="736.3" y="2318.7" text-anchor="end">30</text>
<text x="736.3" y="2211.5" text-anchor="end">40</text>
</g>
<text x="950.4" y="2109" font-size="39.2" text-anchor="middle">Control vs Lonidamine</text>
<text x="924.5" y="2701" font-size="23.3" text-anchor="middle">log2FoldChange</text>
<text transform="translate(701.8 2401) rotate(-90)" font-size="24" text-anchor="middle">-log10(pvalue)</text>
<text x="1062" y="2228.9" font-size="25.8" fill="#111">pvalue&lt;0.05</text>
<text x="1062" y="2257.3" font-size="25.8" fill="#111">|log2FoldChange|&gt;0</text>
<rect x="1063.3" y="2274" width="38.4" height="38.5" fill="#f3f3f3"/>
<circle cx="1082.5" cy="2293.7" r="5.3" fill="#F8766D"/>
<text x="1116.8" y="2301.2" font-size="20.6" fill="#111">UP 1796</text>
<rect x="1063.3" y="2315.8" width="38.4" height="37.6" fill="#f3f3f3"/>
<circle cx="1082.5" cy="2335" r="5.3" fill="#00BA38"/>
<text x="1116.8" y="2342.1" font-size="20.6" fill="#111">DOWN 702</text>
<rect x="1063.3" y="2356.4" width="38.4" height="38" fill="#f3f3f3"/>
<circle cx="1082.5" cy="2375.6" r="5.3" fill="#619CFF"/>
<text x="1116.8" y="2382.7" font-size="20.6" fill="#111">NO 19596</text>
<path d="M1476 2617h10M1487 2617h7M1496 2617h72M1592 2617h25M1618 2617h6M1625 2617h66M1474 2618h96M1590 2618h103M1473 2619h98M1589 2619h105M1473 2620h98M1588 2620h106M1472 2621h100M1588 2621h107M1472 2622h100M1587 2622h107M1472 2623h101M1586 2623h108M1473 2624h101M1585 2624h108M1473 2625h101M1585 2625h106M1474 2626h101M1584 2626h102M1475 2627h100M1584 2627h100M1477 2628h99M1583 2628h97M1478 2629h98M1582 2629h96M1480 2630h2M1485 2630h92M1582 2630h93M1487 2631h90M1581 2631h90M1490 2632h88M1580 2632h87M1495 2633h83M1580 2633h83M1499 2634h160M1503 2635h152M1508 2636h143M1512 2637h134M1517 2638h125M1524 2639h111M1528 2640h101M1537 2641h84M1545 2642h68M1558 2643h39M1600 2643h3" stroke="#619CFF" stroke-width="1.1" fill="none" shape-rendering="crispEdges"/>
<path d="M1477.5 2619.4h0M1480.5 2619.2h0M1480.5 2619.1h0M1482.8 2619.1h0M1484.3 2619.2h0M1488.4 2619h0M1490.4 2619.2h0M1491 2619.3h0M1497.7 2619.3h0M1499.1 2619.1h0M1500.4 2619.4h0M1502.5 2619.2h0M1503.4 2619.2h0M1508.2 2619.2h0M1508.9 2619.3h0M1511.3 2619.1h0M1512.4 2619.3h0M1515.1 2619.4h0M1517.1 2619.4h0M1517.9 2619.3h0M1520.2 2619.3h0M1522.1 2619.5h0M1522.7 2619.2h0M1524.6 2619.3h0M1527.5 2619.2h0M1529.8 2619.1h0M1532 2619.1h0M1536.4 2619.4h0M1536.5 2619.3h0M1539.9 2619.1h0M1541.7 2619.1h0M1542.7 2619.4h0M1544.2 2619.1h0M1548.7 2619.3h0M1549.4 2619.4h0M1551.1 2619.5h0M1552.8 2619.2h0M1554.3 2619.1h0M1558.3 2619.2h0M1560.4 2619.5h0M1562.2 2619.1h0M1564 2619.3h0M1566.2 2619.3h0M1567.4 2619.5h0M1592.1 2619.2h0M1594.2 2619.2h0M1594.9 2619.2h0M1597.6 2619.1h0M1598.7 2619.4h0M1599.8 2619.3h0M1601.5 2619.1h0M1604.3 2619.4h0M1606.3 2619.5h0M1609.3 2619.5h0M1610.4 2619.4h0M1612.4 2619.1h0M1613.6 2619.1h0M1615.3 2619.1h0M1618.9 2619.2h0M1622 2619.4h0M1627.4 2619.1h0M1628 2619.2h0M1631.2 2619.2h0M1634.5 2619h0M1635.7 2619.4h0M1637.4 2619.1h0M1638.2 2619h0M1642 2619.1h0M1644 2619.1h0M1645.2 2619.4h0M1647 2619.3h0M1648.6 2619.3h0M1650.3 2619.3h0M1652.2 2619.4h0M1656.3 2619.2h0M1658.7 2619.2h0M1660.7 2619.2h0M1661.9 2619.4h0M1663.3 2619.1h0M1665.4 2619.4h0M1667.2 2619.1h0M1668.1 2619.1h0M1670.3 2619.4h0M1673.9 2619.1h0M1676 2619.5h0M1677.9 2619.4h0M1679.9 2619.1h0M1680.2 2619.1h0M1683.2 2619.2h0M1684.5 2619.5h0M1688.5 2619.4h0M1689.8 2619.2h0M1691.2 2619.5h0M1474.3 2619.7h0M1474.9 2620.3h0M1475.7 2619.7h0M1476.1 2619.8h0M1486.4 2619.8h0M1486.8 2619.6h0M1493.2 2619.6h0M1494.6 2620.4h0M1591.7 2619.9h0M1616.2 2620.5h0M1617.7 2620h0M1622.5 2619.8h0M1623.1 2619.6h0M1624.1 2619.7h0M1625.4 2620.1h0M1690.3 2620.1h0M1691.3 2620.4h0M1692.7 2619.5h0M1567.8 2620.6h0M1568.6 2621.4h0M1590.4 2620.6h0M1693.4 2620.6h0M1694.1 2620.7h0M1568.6 2621.5h0M1590 2621.9h0M1690 2621.8h0M1690.7 2621.6h0M1720.6 2621.6h0M1474.9 2623.1h0M1475.3 2623.1h0M1588.8 2623.2h0M1684.6 2622.5h0M1686 2623.4h0M1686.8 2622.7h0M1688.7 2622.6h0M1741.9 2622.8h0M1474.8 2623.5h0M1570 2623.9h0M1587.8 2624.3h0M1684.3 2624h0M1734.1 2624.2h0M1476.3 2624.7h0M1476.8 2625.1h0M1477.3 2624.9h0M1477.5 2625.5h0M1570.6 2625.5h0M1587.3 2625.4h0M1679.4 2625.4h0M1679.6 2624.9h0M1680.6 2625.2h0M1681.1 2624.9h0M1682 2624.7h0M1727 2625h0M1571.5 2626.5h0M1586.6 2626.3h0M1677.6 2626h0M1699.3 2626.4h0M1481 2626.7h0M1482.1 2626.8h0M1482.8 2626.8h0M1483.4 2626.5h0M1484.8 2626.6h0M1485.2 2627.3h0M1585.9 2627.3h0M1674.3 2627h0M1674.6 2626.6h0M1675.9 2626.8h0M1485.8 2627.9h0M1572.2 2627.9h0M1669.7 2628.4h0M1671.6 2628h0M1479 2628.6h0M1489.1 2628.8h0M1489.8 2628.7h0M1665.9 2628.9h0M1667.3 2628.6h0M1668.1 2628.7h0M1491.7 2629.5h0M1494.3 2630.1h0M1494.8 2629.5h0M1495.1 2630.3h0M1572.8 2630.4h0M1573 2629.7h0M1573.3 2630h0M1584.4 2629.9h0M1661.7 2629.7h0M1662.5 2630.3h0M1664.2 2629.6h0M1496.4 2630.7h0M1499.4 2631.1h0M1574 2631.3h0M1583.7 2631h0M1584.2 2631.2h0M1657.9 2630.7h0M1659.1 2631.2h0M1661.1 2630.6h0M1501.1 2631.8h0M1501.9 2632.1h0M1503.2 2631.8h0M1574 2632.4h0M1654.1 2631.7h0M1655.2 2632.1h0M1656.1 2632.1h0M1656.5 2632h0M1504.2 2632.7h0M1506.5 2632.6h0M1507.6 2632.7h0M1582.4 2633.3h0M1651.3 2633h0M1652.8 2632.8h0M1509 2633.6h0M1511.7 2634.3h0M1511.8 2633.7h0M1512.3 2633.6h0M1574.7 2634.2h0M1575.1 2633.7h0M1645.3 2634.4h0M1645.3 2633.6h0M1647.7 2633.8h0M1648.8 2633.6h0M1512.9 2634.7h0M1514.8 2634.9h0M1515.9 2635.2h0M1517.4 2635.1h0M1575.8 2635.1h0M1581.3 2635.2h0M1641.1 2634.8h0M1643.7 2634.6h0M1518 2635.6h0M1519.4 2635.7h0M1522 2635.8h0M1524.1 2636.5h0M1635.8 2635.6h0M1636.4 2635.8h0M1639.7 2635.5h0M1524.7 2636.8h0M1527.4 2637.1h0M1627.6 2637.1h0M1628.4 2637.4h0M1630.7 2637.1h0M1631.1 2636.9h0M1633.1 2636.7h0M1529.3 2637.5h0M1530.8 2637.7h0M1531.8 2637.8h0M1533.5 2637.8h0M1535 2638.2h0M1537 2638.1h0M1620.1 2638.3h0M1620.7 2637.7h0M1623.3 2638.2h0M1625.3 2637.9h0M1626.7 2637.6h0M1539.8 2638.6h0M1541.3 2638.7h0M1541.4 2639h0M1542.5 2639.1h0M1542.5 2638.8h0M1544.1 2639.2h0M1544.4 2638.6h0M1611.7 2639.1h0M1611.9 2638.6h0M1613.5 2639.2h0M1614.4 2639.1h0M1616.9 2638.8h0M1617 2639h0M1618.6 2638.7h0M1545.9 2639.6h0M1548.6 2639.5h0M1549.9 2639.6h0M1552.2 2640h0M1552.5 2639.6h0M1555.7 2640.1h0M1556.4 2640.1h0M1558 2639.9h0M1595.8 2640.4h0M1597 2640.3h0M1598.6 2639.5h0M1602.5 2640.4h0M1604 2639.7h0M1606.1 2639.6h0M1606.8 2639.9h0M1608.4 2639.8h0M1560.9 2640.5h0M1561.3 2640.6h0M1563.9 2640.7h0M1565.2 2640.5h0M1565.7 2641h0M1566.4 2641.1h0M1569.2 2640.8h0M1569.7 2640.5h0M1570.6 2640.8h0M1571.2 2640.6h0M1572.4 2640.8h0M1572.6 2640.7h0M1574.4 2640.8h0M1575.5 2640.7h0M1575.9 2641.1h0M1577.1 2641h0M1579 2640.7h0M1579.6 2641.2h0M1580.4 2640.8h0M1580.8 2640.6h0M1582.4 2640.9h0M1584.2 2640.5h0M1585.5 2640.8h0M1585.6 2641h0M1585.8 2640.7h0M1587.4 2640.8h0M1588.3 2640.5h0M1589.7 2640.8h0M1590.2 2640.7h0M1590.9 2640.9h0M1591.2 2640.5h0M1593.1 2640.9h0M1593.3 2640.6h0M1594.5 2640.9h0M1601 2640.5h0" stroke="#619CFF" stroke-width="5" stroke-linecap="round" fill="none"/>
<path d="M1555 2585h1M1553 2586h5M1551 2587h8M1550 2588h10M1550 2589h11M1549 2590h13M1549 2591h13M1549 2592h14M1548 2593h15M1547 2594h16M1547 2595h17M1546 2596h18M1546 2597h19M1545 2598h20M1544 2599h22M1544 2600h22M1543 2601h24M1544 2602h23M1543 2603h25M1542 2604h26M1541 2605h27M1541 2606h28M1540 2607h29M1529 2608h1M1531 2608h1M1540 2608h29M1527 2609h7M1541 2609h29M1526 2610h9M1539 2610h31M1526 2611h9M1537 2611h33M1525 2612h46M1525 2613h10M1536 2613h35M1524 2614h47M1524 2615h48M1525 2616h47M1525 2617h47M1526 2618h7M1534 2618h37M1528 2619h3M1534 2619h37M1535 2620h35M1537 2621h31" stroke="#00BA38" stroke-width="1.1" fill="none" shape-rendering="crispEdges"/>
<path d="M1488.5 2372.4h0M1512.9 2494.3h0M1505.8 2495h0M1530.4 2504.8h0M1532.8 2509.4h0M1506.5 2521.4h0M1537.8 2524.8h0M1537.8 2531.7h0M1544.6 2533.4h0M1549.6 2540.2h0M1559 2543.9h0M1536.9 2545.8h0M1537.8 2547.1h0M1525.9 2547.9h0M1546 2548.3h0M1535.9 2552.2h0M1548.9 2554.8h0M1557.8 2554.9h0M1547.9 2557.1h0M1555.3 2559.1h0M1552.5 2559.9h0M1531.1 2565.1h0M1538.2 2567.3h0M1524.8 2568h0M1548.3 2568.4h0M1539.6 2568.5h0M1529.4 2572.4h0M1537.3 2573.4h0M1540.7 2573.3h0M1548.1 2576.3h0M1553.6 2578.1h0M1554.6 2579.5h0M1548.5 2579.9h0M1552 2582.5h0M1559.4 2582.3h0M1439.5 2583.2h0M1524.5 2583.1h0M1545.4 2584.8h0M1505.1 2585.6h0M1511 2585.6h0M1548.8 2586.2h0M1554 2588.4h0M1555.7 2588h0M1556.2 2587.8h0M1551.2 2588.8h0M1553.4 2589.1h0M1552.3 2590.3h0M1557.8 2589.9h0M1558.2 2590.2h0M1531.9 2592.2h0M1558.6 2592.2h0M1526.9 2593.4h0M1551.2 2593h0M1560 2593.4h0M1550 2594h0M1559.8 2594.6h0M1549.1 2596.5h0M1561 2596.4h0M1561.1 2596.5h0M1548.3 2596.8h0M1452.3 2598.5h0M1548.2 2597.7h0M1562.3 2598.2h0M1526.7 2598.5h0M1539.9 2598.7h0M1492.1 2600.2h0M1514.6 2600.2h0M1527.1 2600.3h0M1540.9 2600.3h0M1545.3 2600.4h0M1562.5 2599.5h0M1482.6 2601h0M1562.6 2601h0M1563.8 2601.3h0M1528.7 2602.5h0M1545.6 2603h0M1545.1 2604.4h0M1564.7 2604.2h0M1564.9 2603.8h0M1509.6 2605.4h0M1527 2605.4h0M1492.1 2606.2h0M1537.5 2606.2h0M1542.2 2607.4h0M1565.9 2607.4h0M1469.6 2607.9h0M1509.8 2607.9h0M1526.8 2608.3h0M1534.6 2608h0M1486.3 2608.8h0M1522.3 2609.8h0M1528 2609.7h0M1531.6 2610h0M1534.9 2609.5h0M1543 2609.9h0M1566.9 2610h0M1473.2 2612.1h0M1509.2 2612.2h0M1521.4 2611.7h0M1538 2611.9h0M1538.9 2611.7h0M1541.3 2612.4h0M1566.8 2612.4h0M1520.9 2613.2h0M1539.1 2613.5h0M1517 2614.4h0M1525.9 2614h0M1567.9 2614.5h0M1487 2614.5h0M1503.5 2615h0M1518.4 2615.3h0M1533 2614.8h0M1568 2614.6h0M1463.7 2616.5h0M1505.1 2615.6h0M1530.5 2616.3h0M1481.1 2617.2h0M1492.1 2617.4h0M1528.8 2616.5h0M1567.6 2617.2h0M1569.1 2616.7h0M1511.9 2618.4h0M1522 2618.1h0M1536.9 2618.4h0M1537.4 2617.8h0M1517.6 2618.7h0M1525.9 2618.6h0M1536.5 2618.9h0M1539.2 2618.9h0M1540.7 2618.8h0M1542.1 2618.8h0M1544.6 2618.8h0M1546.7 2618.8h0M1548.3 2618.8h0M1550.1 2618.6h0M1553.5 2618.9h0M1554.3 2618.6h0M1557.1 2618.7h0M1558.8 2618.6h0M1560.6 2618.6h0M1562.1 2618.7h0M1566.3 2618.7h0M1568.8 2618.9h0" stroke="#00BA38" stroke-width="5" stroke-linecap="round" fill="none"/>
<path d="M1621 2534h1M1619 2535h5M1618 2536h7M1618 2537h7M1626 2537h1M1617 2538h12M1617 2539h13M1618 2540h14M1618 2541h15M1619 2542h15M1619 2543h15M1620 2544h15M1620 2545h14M1621 2546h13M1623 2547h1M1628 2547h5M1630 2548h1M1617 2553h2M1615 2554h6M1613 2555h9M1612 2556h10M1644 2556h1M1611 2557h12M1642 2557h5M1611 2558h12M1641 2558h7M1653 2558h1M1610 2559h14M1640 2559h8M1651 2559h5M1610 2560h14M1632 2560h1M1640 2560h9M1650 2560h7M1611 2561h12M1624 2561h1M1630 2561h5M1639 2561h10M1650 2561h7M1611 2562h16M1629 2562h7M1639 2562h19M1612 2563h16M1629 2563h7M1640 2563h18M1611 2564h26M1638 2564h21M1610 2565h49M1609 2566h27M1637 2566h22M1609 2567h49M1605 2568h2M1608 2568h27M1636 2568h22M1603 2569h56M1602 2570h56M1602 2571h39M1644 2571h14M1601 2572h40M1647 2572h10M1599 2573h44M1647 2573h8M1598 2574h47M1646 2574h7M1670 2574h1M1597 2575h55M1664 2575h2M1667 2575h6M1680 2575h1M1597 2576h55M1662 2576h12M1678 2576h5M1596 2577h57M1661 2577h13M1677 2577h7M1597 2578h56M1654 2578h3M1661 2578h14M1677 2578h7M1597 2579h62M1660 2579h15M1676 2579h9M1596 2580h78M1677 2580h7M1596 2581h78M1677 2581h7M1596 2582h80M1678 2582h5M1597 2583h81M1680 2583h1M1597 2584h82M1596 2585h84M1595 2586h85M1595 2587h86M1594 2588h86M1595 2589h85M1595 2590h66M1662 2590h17M1594 2591h67M1662 2591h16M1594 2592h66M1663 2592h15M1593 2593h66M1664 2593h13M1593 2594h65M1661 2594h3M1665 2594h11M1593 2595h82M1593 2596h81M1593 2597h80M1592 2598h82M1592 2599h82M1591 2600h84M1591 2601h83M1591 2602h83M1590 2603h83M1590 2604h81M1590 2605h82M1590 2606h84M1691 2606h2M1589 2607h87M1687 2607h1M1689 2607h6M1589 2608h88M1678 2608h3M1685 2608h11M1589 2609h94M1684 2609h12M1589 2610h108M1588 2611h109M1588 2612h110M1588 2613h110M1588 2614h111M1588 2615h110M1588 2616h110M1587 2617h96M1684 2617h13M1588 2618h92M1686 2618h10M1588 2619h88M1686 2619h8M1589 2620h74M1664 2620h3M1668 2620h7M1687 2620h6M1591 2621h25M1618 2621h43M1672 2621h1M1689 2621h2" stroke="#F8766D" stroke-width="1.1" fill="none" shape-rendering="crispEdges"/>
<path d="M1666.1 2197.6h0M1686.2 2259.3h0M1665.6 2290.1h0M1695.7 2309h0M1661.4 2310.7h0M1638.9 2363.8h0M1679.1 2384.4h0M1659 2389.5h0M1676.8 2391.2h0M1694.5 2401.5h0M1680.3 2408.3h0M1687.4 2418.6h0M1618.8 2423.7h0M1673.2 2427.2h0M1647.2 2435.7h0M1734.8 2442.6h0M1634.1 2446h0M1656.6 2454.6h0M1659.4 2463.9h0M1625.5 2465h0M1668.4 2466.4h0M1633.9 2468.6h0M1653.7 2468.9h0M1682.3 2471.5h0M1729.5 2476h0M1684.9 2477.5h0M1714.5 2482.6h0M1638.8 2483.9h0M1676 2483.7h0M1628 2485.4h0M1668.9 2486.4h0M1637.4 2488.2h0M1632.4 2489.2h0M1629.7 2490.8h0M1641.3 2491.2h0M1652.7 2491.5h0M1658.7 2490.5h0M1626 2492h0M1621.5 2494.1h0M1687.7 2494.4h0M1614 2496.3h0M1713.9 2498.5h0M1735.7 2498.6h0M1764.4 2500h0M1627.2 2501.5h0M1718.2 2500.8h0M1635.2 2501.6h0M1677.3 2501.8h0M1654.2 2503h0M1736 2502.5h0M1632.8 2504.1h0M1621.2 2506.3h0M1631.9 2506.1h0M1691 2507.8h0M1727.7 2507.7h0M1610 2510.2h0M1712.1 2509.6h0M1614.8 2510.6h0M1629.2 2511.2h0M1637.1 2511h0M1672.8 2510.5h0M1635.8 2511.6h0M1683 2511.5h0M1614.5 2514.2h0M1619.3 2514.5h0M1622.9 2513.7h0M1631.9 2514.2h0M1624 2515.8h0M1629.5 2515.6h0M1655.7 2516.3h0M1624.3 2516.8h0M1645.8 2516.7h0M1644.2 2519.9h0M1619.1 2520.7h0M1731.4 2521.1h0M1623.3 2521.8h0M1611.3 2523h0M1632.9 2523h0M1685.8 2522.7h0M1628.5 2523.5h0M1680.5 2524.2h0M1653.2 2524.5h0M1636.4 2525.9h0M1645.2 2525.8h0M1656.5 2526.4h0M1687.9 2525.8h0M1626.3 2527h0M1680.9 2526.7h0M1673.1 2528.1h0M1607.4 2529.5h0M1608.5 2528.6h0M1677.8 2529.4h0M1620 2529.7h0M1627.9 2529.7h0M1656.8 2531.1h0M1632.1 2531.7h0M1663.5 2532h0M1668.3 2531.9h0M1696.9 2531.8h0M1662.5 2532.9h0M1621.9 2533.9h0M1624.6 2534.3h0M1619.6 2535.2h0M1650.9 2534.5h0M1663.8 2535h0M1664.3 2535.4h0M1675.1 2535.4h0M1690.1 2535h0M1696.9 2535.4h0M1612.7 2535.7h0M1628.6 2536.4h0M1637 2535.7h0M1638.3 2536.4h0M1632.9 2536.9h0M1636 2537.4h0M1639.8 2537.3h0M1650.5 2536.9h0M1619.2 2537.8h0M1621.9 2537.8h0M1627.1 2538.8h0M1658.3 2538.7h0M1673.5 2539.2h0M1741.9 2539.4h0M1635.1 2539.8h0M1619.9 2540.7h0M1667.9 2541h0M1754.9 2541.1h0M1631.4 2542.3h0M1675 2541.6h0M1612.1 2543.2h0M1672.6 2543.1h0M1710.1 2542.9h0M1624.7 2543.9h0M1628 2544.1h0M1738.9 2543.7h0M1640.7 2544.7h0M1656.4 2545.4h0M1621.3 2546h0M1630.2 2545.6h0M1632.6 2545.9h0M1609.3 2546.5h0M1616.9 2546.9h0M1641.1 2546.6h0M1661 2546.9h0M1694.5 2547.1h0M1618.3 2548.3h0M1620.8 2548.5h0M1657.5 2548.1h0M1672.6 2548.3h0M1702.7 2547.7h0M1702.5 2548.9h0M1704.5 2549.3h0M1606.6 2549.7h0M1619.4 2550.2h0M1625.7 2550.4h0M1634.4 2549.6h0M1655.7 2550.1h0M1617.8 2551.2h0M1607.2 2552.4h0M1683.8 2551.7h0M1629.6 2552.9h0M1631.7 2553.2h0M1643 2552.6h0M1648.7 2552.5h0M1606.3 2553.5h0M1610.3 2553.6h0M1630.7 2553.7h0M1633.8 2554.2h0M1655.7 2554.1h0M1612.2 2555.2h0M1613.5 2554.9h0M1619.5 2555.5h0M1648.5 2554.6h0M1677 2554.8h0M1615.3 2555.6h0M1634.2 2555.7h0M1691.8 2555.7h0M1697.2 2556.1h0M1604 2557.1h0M1662 2557.4h0M1718.4 2556.9h0M1720 2556.5h0M1604.9 2557.9h0M1633.1 2558.3h0M1642.5 2558.5h0M1659.1 2557.9h0M1714.1 2557.6h0M1613.1 2559.5h0M1620.8 2558.8h0M1624.8 2558.5h0M1628.3 2559.2h0M1644.8 2559.1h0M1702 2559.1h0M1626.6 2559.8h0M1642.1 2559.7h0M1646 2559.8h0M1651.8 2559.8h0M1653.5 2560.3h0M1608.9 2561.4h0M1641.3 2560.8h0M1602.3 2562.4h0M1605.7 2562.3h0M1653.9 2561.7h0M1667.3 2562.4h0M1614.1 2562.7h0M1625.3 2563.2h0M1630.6 2562.7h0M1633.1 2562.7h0M1651.3 2562.7h0M1654.8 2563.2h0M1660.7 2563.1h0M1674.6 2563.3h0M1744.3 2563.4h0M1622 2564h0M1622.4 2563.5h0M1664.9 2564.1h0M1629.9 2564.8h0M1633.6 2565.5h0M1655.9 2565.3h0M1659.9 2564.8h0M1672.1 2564.7h0M1610.6 2566.2h0M1639.2 2565.5h0M1668.7 2566.3h0M1688 2566.1h0M1714.9 2566.4h0M1670.4 2566.8h0M1697.8 2566.9h0M1604.3 2567.9h0M1637.9 2568.2h0M1641.5 2567.6h0M1655.4 2568.5h0M1666.5 2567.8h0M1678.4 2568.5h0M1702.4 2568h0M1610.2 2568.9h0M1610.2 2569.2h0M1645.4 2569.1h0M1647.3 2569h0M1609.2 2570.4h0M1632.8 2569.7h0M1638 2570.4h0M1655.9 2570.4h0M1603.7 2571h0M1633.9 2571.4h0M1652.5 2571h0M1659.8 2571.2h0M1682.5 2571h0M1657.6 2572.4h0M1675.7 2572.3h0M1602.2 2574.4h0M1638.5 2573.7h0M1648.2 2573.6h0M1660.3 2574.2h0M1598.5 2574.5h0M1640 2575.3h0M1642 2575.5h0M1650.1 2575.4h0M1658.3 2574.8h0M1672.2 2574.9h0M1673.1 2575.3h0M1598.3 2576.4h0M1657.7 2576.3h0M1662.9 2575.5h0M1671 2576h0M1678.2 2576.1h0M1679.9 2575.9h0M1701 2575.9h0M1734.2 2575.7h0M1645.4 2577.3h0M1668.4 2577.3h0M1680.9 2576.8h0M1688.7 2577.4h0M1702 2576.5h0M1671.6 2578.3h0M1686.7 2577.6h0M1744.8 2578.1h0M1649.8 2579.5h0M1734.3 2578.7h0M1650.8 2579.9h0M1654.8 2579.8h0M1661.6 2580.1h0M1739.3 2580.3h0M1597.8 2581.1h0M1656.9 2581.1h0M1679 2580.6h0M1683.2 2580.6h0M1724.8 2580.8h0M1670.8 2581.7h0M1672.1 2582.9h0M1691.7 2582.6h0M1674.8 2583.7h0M1690.9 2583.6h0M1675.4 2585.1h0M1712.4 2584.7h0M1598.4 2586h0M1681.4 2585.5h0M1698.5 2585.7h0M1596.3 2586.7h0M1683.3 2586.8h0M1693.7 2587.2h0M1695.9 2587.4h0M1708 2586.6h0M1708.2 2586.7h0M1663.4 2587.9h0M1677.2 2587.8h0M1694.1 2588.1h0M1597.3 2588.9h0M1658.3 2588.6h0M1681.1 2588.9h0M1664 2590.3h0M1685.5 2590.1h0M1596.7 2591.3h0M1657.8 2591h0M1693.1 2590.8h0M1675.3 2591.6h0M1691 2591.6h0M1595.9 2592.6h0M1654.6 2592.5h0M1667.3 2592.5h0M1673.1 2592.7h0M1685.8 2592.8h0M1696 2593.1h0M1595.3 2593.9h0M1667.1 2594.5h0M1671.6 2594h0M1678 2594h0M1655.1 2594.8h0M1594.9 2596.4h0M1661.9 2595.9h0M1682.8 2596h0M1595.3 2597.4h0M1656.6 2597h0M1658.2 2597.4h0M1658.8 2596.6h0M1670 2597.5h0M1696 2597.4h0M1675.6 2598.2h0M1688.2 2598.1h0M1594 2599.1h0M1673.1 2600.1h0M1682 2599.8h0M1690.2 2600.4h0M1593.5 2600.6h0M1669.5 2600.7h0M1673 2600.9h0M1677 2601.2h0M1687.9 2600.8h0M1694.8 2600.6h0M1697.8 2601.4h0M1713.3 2602.4h0M1592.7 2603.2h0M1694.8 2603.2h0M1592.4 2603.8h0M1677.2 2603.6h0M1682.5 2603.9h0M1697.7 2603.5h0M1592.1 2605.4h0M1668.4 2605h0M1682.5 2605.2h0M1670.2 2606.5h0M1700.1 2607.2h0M1705.1 2607.2h0M1707.4 2607.5h0M1591.4 2608h0M1670.6 2607.9h0M1672.6 2607.7h0M1674.2 2608.1h0M1691.9 2608.4h0M1679.9 2608.8h0M1685.9 2609.5h0M1694 2609h0M1705.9 2609.1h0M1712.8 2610.4h0M1675.6 2611.2h0M1681 2611.1h0M1590.3 2612.4h0M1694.9 2612.8h0M1590 2613.5h0M1590 2614.5h0M1681.8 2615.1h0M1683.6 2615.1h0M1702.7 2614.6h0M1589.6 2616.4h0M1677.8 2615.6h0M1697.1 2616.2h0M1697.2 2616.5h0M1692.2 2616.5h0M1707 2616.6h0M1589 2618.4h0M1591.1 2618.3h0M1615.2 2617.9h0M1616.7 2618.4h0M1618.3 2617.9h0M1659.7 2617.8h0M1664.7 2618.4h0M1669.5 2617.6h0M1688.1 2617.9h0M1696.6 2618.2h0M1589.2 2618.5h0M1593.4 2618.7h0M1594.6 2618.8h0M1596.9 2618.8h0M1600.6 2618.6h0M1602.7 2618.6h0M1603.6 2618.6h0M1605.9 2618.9h0M1608.1 2619h0M1608.9 2618.6h0M1610.9 2618.7h0M1612.4 2618.9h0M1613.9 2619h0M1619.1 2619h0M1621.2 2618.9h0M1622.4 2618.7h0M1626.5 2618.8h0M1629.4 2619h0M1632.3 2618.9h0M1634.3 2618.8h0M1636.7 2618.6h0M1638.8 2618.7h0M1640.4 2618.8h0M1643.2 2618.6h0M1646.3 2618.8h0M1648.2 2618.9h0M1651.2 2618.8h0M1653.1 2618.9h0M1653.9 2618.7h0M1655.8 2618.8h0M1658.8 2618.8h0M1660.5 2618.8h0M1672.8 2618.5h0M1689 2618.8h0M1691.1 2618.9h0" stroke="#F8766D" stroke-width="5" stroke-linecap="round" fill="none"/>
<path d="M1578.5 2176.7V2663.5M1427 2619H1799.1" stroke="#bdbdbd" stroke-width="1.7" stroke-dasharray="7 4 1.5 4" fill="none"/>
<path d="M1421 2176.7V2663.5H1799.1" stroke="#111" stroke-width="1.3" fill="none"/>
<path d="M1436.4 2663.5v3.5M1531.1 2663.5v3.5M1578.5 2663.5v3.5M1602.2 2663.5v3.5M1696.9 2663.5v3.5M1791.6 2663.5v3.5M1421 2470h-3.5M1421 2298.7h-3.5" stroke="#222" stroke-width="1" fill="none"/>
<g font-size="9" fill="#404040">
<text x="1436.4" y="2676.1" text-anchor="middle">-6</text>
<text x="1531.1" y="2676.1" text-anchor="middle">-2</text>
<text x="1578.5" y="2676.1" text-anchor="middle">0</text>
<text x="1602.2" y="2676.1" text-anchor="middle">1</text>
<text x="1696.9" y="2676.1" text-anchor="middle">5</text>
<text x="1791.6" y="2676.1" text-anchor="middle">9</text>
<text x="1415" y="2473.3" text-anchor="end">10</text>
<text x="1415" y="2302" text-anchor="end">20</text>
</g>
<text x="1647.9" y="2109" font-size="39.2" text-anchor="middle">A<tspan font-family='"Liberation Serif", "Times New Roman", serif'>β</tspan> vs A<tspan font-family='"Liberation Serif", "Times New Roman", serif'>β</tspan>+Lonidamine</text>
<text x="1602.5" y="2708.6" font-size="23.3" text-anchor="middle">log2FoldChange</text>
<text transform="translate(1375.8 2414) rotate(-90)" font-size="24" text-anchor="middle">-log10(pvalue)</text>
<text x="1742.3" y="2184.2" font-size="25.1" fill="#111">pvalue&lt;0.05</text>
<text x="1742.3" y="2212.6" font-size="25.1" fill="#111">|log2FoldChange|&gt;0</text>
<rect x="1744.4" y="2230.1" width="36.8" height="36.9" fill="#f3f3f3"/>
<circle cx="1762.8" cy="2248.1" r="5.3" fill="#F8766D"/>
<text x="1795.4" y="2256" font-size="20.1" fill="#111">UP 1157</text>
<rect x="1744.4" y="2270.7" width="36.8" height="35.5" fill="#f3f3f3"/>
<circle cx="1762.8" cy="2288.7" r="5.3" fill="#00BA38"/>
<text x="1795.4" y="2296.2" font-size="20.1" fill="#111">DOWN 347</text>
<rect x="1744.4" y="2309.5" width="36.8" height="36.8" fill="#f3f3f3"/>
<circle cx="1762.8" cy="2328.4" r="5.3" fill="#619CFF"/>
<text x="1795.4" y="2335.9" font-size="20.1" fill="#111">NO 21073</text>
</svg>
</body></html>
